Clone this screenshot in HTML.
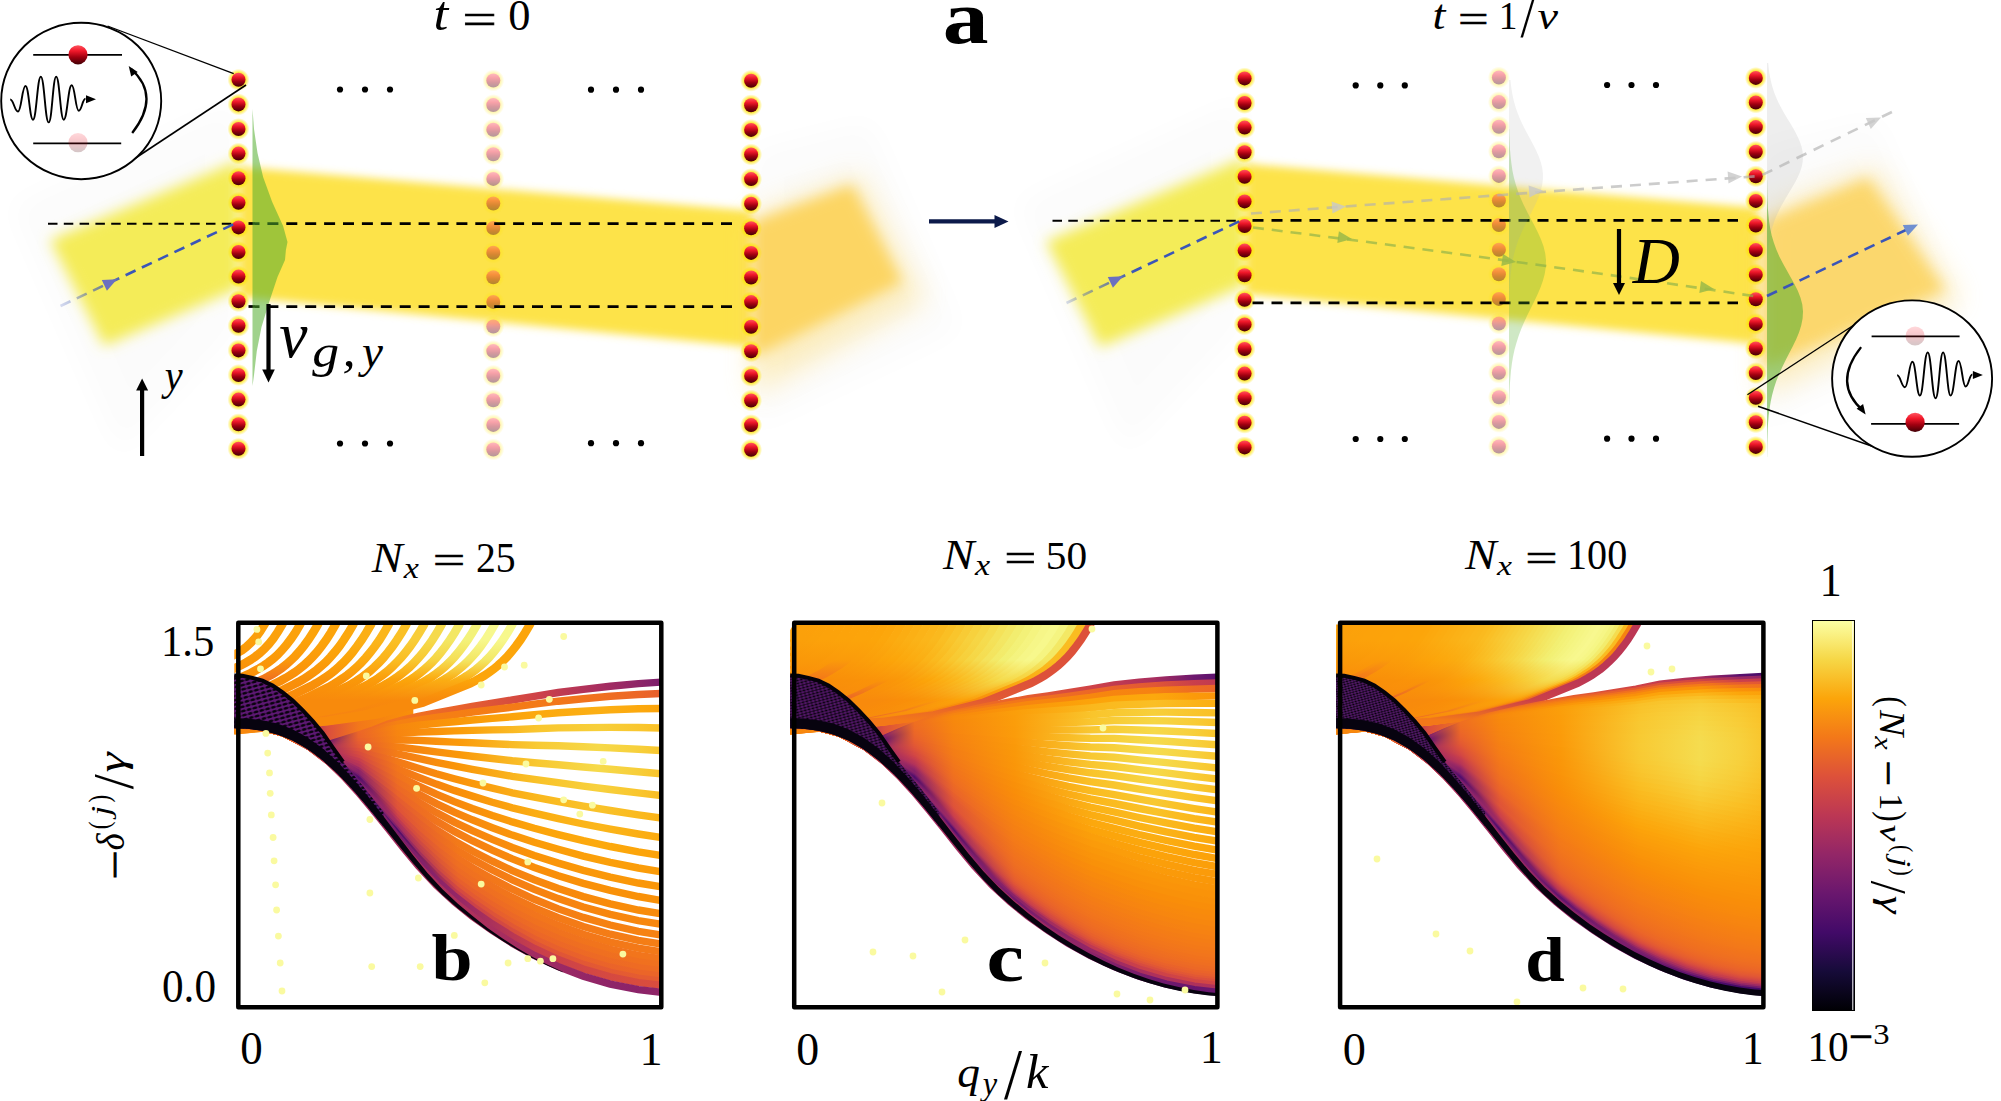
<!DOCTYPE html>
<html><head><meta charset="utf-8"><title>figure</title>
<style>html,body{margin:0;padding:0;background:#fff;overflow:hidden}svg{display:block}</style>
</head><body>
<svg width="2001" height="1101" viewBox="0 0 2001 1101">
<defs>
<linearGradient id="gR" x1="0" y1="0" x2="0" y2="1">
 <stop offset="0" stop-color="#ff5560"/>
 <stop offset="0.3" stop-color="#f0182a"/>
 <stop offset="0.62" stop-color="#a00010"/>
 <stop offset="1" stop-color="#420006"/>
</linearGradient>
<radialGradient id="gGlow" cx="0.5" cy="0.5" r="0.5">
 <stop offset="0.55" stop-color="#ffe400" stop-opacity="1"/>
 <stop offset="0.75" stop-color="#ffe400" stop-opacity="0.55"/>
 <stop offset="1" stop-color="#ffe400" stop-opacity="0"/>
</radialGradient>
<filter id="blur8" x="-30%" y="-30%" width="160%" height="160%"><feGaussianBlur stdDeviation="7"/></filter>
<filter id="blur5" x="-30%" y="-30%" width="160%" height="160%"><feGaussianBlur stdDeviation="4.5"/></filter>
<filter id="blur14" x="-30%" y="-30%" width="160%" height="160%"><feGaussianBlur stdDeviation="14"/></filter>
<pattern id="hatchb" patternUnits="userSpaceOnUse" width="6" height="4.2" patternTransform="rotate(-15)"><rect width="6" height="4.2" fill="#5e1874"/><ellipse cx="3" cy="2.1" rx="2.7" ry="1.35" fill="#07020c"/></pattern>
<pattern id="hatchc" patternUnits="userSpaceOnUse" width="4" height="2.8" patternTransform="rotate(-15)"><rect width="4" height="2.8" fill="#5a1870"/><ellipse cx="2" cy="1.4" rx="1.8" ry="0.9" fill="#07020c"/></pattern>
<pattern id="hatchd" patternUnits="userSpaceOnUse" width="3.2" height="2.4" patternTransform="rotate(-15)"><rect width="3.2" height="2.4" fill="#5a1a70"/><ellipse cx="1.6" cy="1.2" rx="1.45" ry="0.75" fill="#07020c"/></pattern>
<symbol id="atom" overflow="visible"><circle cx="0" cy="0" r="11" fill="url(#gGlow)"/><circle cx="0" cy="0" r="7" fill="url(#gR)"/></symbol>
<symbol id="atomS" overflow="visible"><circle cx="0" cy="0" r="9.6" fill="url(#gR)"/></symbol>

<clipPath id="clb"><rect x="234.3" y="624.5" width="426.0" height="380.5"/></clipPath>
<linearGradient id="bsol" gradientUnits="userSpaceOnUse" x1="232" y1="0" x2="413" y2="0"><stop offset="0.00" stop-color="#fa9309"/><stop offset="0.20" stop-color="#ef6e21"/><stop offset="0.36" stop-color="#85216a"/><stop offset="0.53" stop-color="#da4e3d"/><stop offset="0.70" stop-color="#f3771a"/><stop offset="0.86" stop-color="#f7870e"/><stop offset="1.00" stop-color="#f98f09"/></linearGradient>
<linearGradient id="ba0" gradientUnits="userSpaceOnUse" x1="0" y1="622" x2="0" y2="740"><stop offset="0.00" stop-color="#fba00a"/><stop offset="0.15" stop-color="#fb9f0a"/><stop offset="0.32" stop-color="#fa9509"/><stop offset="0.49" stop-color="#f88b0b"/><stop offset="0.66" stop-color="#f88a0c"/><stop offset="0.83" stop-color="#f88a0c"/><stop offset="1.00" stop-color="#f88a0c"/></linearGradient>
<linearGradient id="ba1" gradientUnits="userSpaceOnUse" x1="0" y1="622" x2="0" y2="740"><stop offset="0.00" stop-color="#fca10a"/><stop offset="0.15" stop-color="#fba10a"/><stop offset="0.32" stop-color="#fa9709"/><stop offset="0.49" stop-color="#f88c0b"/><stop offset="0.66" stop-color="#f88a0c"/><stop offset="0.83" stop-color="#f88a0c"/><stop offset="1.00" stop-color="#f88a0c"/></linearGradient>
<linearGradient id="ba2" gradientUnits="userSpaceOnUse" x1="0" y1="622" x2="0" y2="740"><stop offset="0.00" stop-color="#fca20a"/><stop offset="0.15" stop-color="#fca20a"/><stop offset="0.32" stop-color="#fa9809"/><stop offset="0.49" stop-color="#f98d0a"/><stop offset="0.66" stop-color="#f88a0c"/><stop offset="0.83" stop-color="#f88a0c"/><stop offset="1.00" stop-color="#f88a0c"/></linearGradient>
<linearGradient id="ba3" gradientUnits="userSpaceOnUse" x1="0" y1="622" x2="0" y2="740"><stop offset="0.00" stop-color="#fca30a"/><stop offset="0.15" stop-color="#fca30a"/><stop offset="0.32" stop-color="#fb9a0a"/><stop offset="0.49" stop-color="#f0711f"/><stop offset="0.66" stop-color="#f88a0c"/><stop offset="0.83" stop-color="#f88a0c"/><stop offset="1.00" stop-color="#f88a0c"/></linearGradient>
<linearGradient id="ba4" gradientUnits="userSpaceOnUse" x1="0" y1="622" x2="0" y2="740"><stop offset="0.00" stop-color="#fca40a"/><stop offset="0.15" stop-color="#fca40a"/><stop offset="0.32" stop-color="#fb9b0a"/><stop offset="0.49" stop-color="#f98e09"/><stop offset="0.66" stop-color="#f88a0c"/><stop offset="0.83" stop-color="#f88a0c"/><stop offset="1.00" stop-color="#f88a0c"/></linearGradient>
<linearGradient id="ba5" gradientUnits="userSpaceOnUse" x1="0" y1="622" x2="0" y2="740"><stop offset="0.00" stop-color="#fca80d"/><stop offset="0.15" stop-color="#fca80d"/><stop offset="0.32" stop-color="#fb9f0a"/><stop offset="0.49" stop-color="#f99009"/><stop offset="0.66" stop-color="#f88a0c"/><stop offset="0.83" stop-color="#f88a0c"/><stop offset="1.00" stop-color="#f88a0c"/></linearGradient>
<linearGradient id="ba6" gradientUnits="userSpaceOnUse" x1="0" y1="622" x2="0" y2="740"><stop offset="0.00" stop-color="#fbaf14"/><stop offset="0.15" stop-color="#fbaf14"/><stop offset="0.32" stop-color="#fca40a"/><stop offset="0.49" stop-color="#f99209"/><stop offset="0.66" stop-color="#f88a0c"/><stop offset="0.83" stop-color="#f88a0c"/><stop offset="1.00" stop-color="#f88a0c"/></linearGradient>
<linearGradient id="ba7" gradientUnits="userSpaceOnUse" x1="0" y1="622" x2="0" y2="740"><stop offset="0.00" stop-color="#fbb61b"/><stop offset="0.15" stop-color="#fbb61b"/><stop offset="0.32" stop-color="#fcaa0f"/><stop offset="0.49" stop-color="#fa9509"/><stop offset="0.66" stop-color="#f88a0c"/><stop offset="0.83" stop-color="#f88a0c"/><stop offset="1.00" stop-color="#f88a0c"/></linearGradient>
<linearGradient id="ba8" gradientUnits="userSpaceOnUse" x1="0" y1="622" x2="0" y2="740"><stop offset="0.00" stop-color="#fac025"/><stop offset="0.15" stop-color="#fac025"/><stop offset="0.32" stop-color="#fbb318"/><stop offset="0.49" stop-color="#fa9809"/><stop offset="0.66" stop-color="#f88a0c"/><stop offset="0.83" stop-color="#f88a0c"/><stop offset="1.00" stop-color="#f88a0c"/></linearGradient>
<linearGradient id="ba9" gradientUnits="userSpaceOnUse" x1="0" y1="622" x2="0" y2="740"><stop offset="0.00" stop-color="#f8cd38"/><stop offset="0.15" stop-color="#f8cd38"/><stop offset="0.32" stop-color="#fabe23"/><stop offset="0.49" stop-color="#fb9c0a"/><stop offset="0.66" stop-color="#f88a0c"/><stop offset="0.83" stop-color="#f88a0c"/><stop offset="1.00" stop-color="#f88a0c"/></linearGradient>
<linearGradient id="ba10" gradientUnits="userSpaceOnUse" x1="0" y1="622" x2="0" y2="740"><stop offset="0.00" stop-color="#f5da4c"/><stop offset="0.15" stop-color="#f5da4c"/><stop offset="0.32" stop-color="#f8c932"/><stop offset="0.49" stop-color="#fba00a"/><stop offset="0.66" stop-color="#f88a0c"/><stop offset="0.83" stop-color="#f88a0c"/><stop offset="1.00" stop-color="#f88a0c"/></linearGradient>
<linearGradient id="ba11" gradientUnits="userSpaceOnUse" x1="0" y1="622" x2="0" y2="740"><stop offset="0.00" stop-color="#f3e763"/><stop offset="0.15" stop-color="#f3e763"/><stop offset="0.32" stop-color="#f6d442"/><stop offset="0.49" stop-color="#fca50a"/><stop offset="0.66" stop-color="#f88a0c"/><stop offset="0.83" stop-color="#f88a0c"/><stop offset="1.00" stop-color="#f88a0c"/></linearGradient>
<linearGradient id="ba12" gradientUnits="userSpaceOnUse" x1="0" y1="622" x2="0" y2="740"><stop offset="0.00" stop-color="#f3f27a"/><stop offset="0.15" stop-color="#f3f27a"/><stop offset="0.32" stop-color="#f5de54"/><stop offset="0.49" stop-color="#fca90e"/><stop offset="0.66" stop-color="#f88a0c"/><stop offset="0.83" stop-color="#f88a0c"/><stop offset="1.00" stop-color="#f88a0c"/></linearGradient>
<linearGradient id="ba13" gradientUnits="userSpaceOnUse" x1="0" y1="622" x2="0" y2="740"><stop offset="0.00" stop-color="#f7f88d"/><stop offset="0.15" stop-color="#f7f88d"/><stop offset="0.32" stop-color="#f3e764"/><stop offset="0.49" stop-color="#fbae13"/><stop offset="0.66" stop-color="#f88a0c"/><stop offset="0.83" stop-color="#f68212"/><stop offset="1.00" stop-color="#f88a0c"/></linearGradient>
<linearGradient id="ba14" gradientUnits="userSpaceOnUse" x1="0" y1="622" x2="0" y2="740"><stop offset="0.00" stop-color="#f7f88c"/><stop offset="0.15" stop-color="#f7f88c"/><stop offset="0.32" stop-color="#f3e866"/><stop offset="0.49" stop-color="#fbaf14"/><stop offset="0.66" stop-color="#f88a0c"/><stop offset="0.83" stop-color="#f88a0c"/><stop offset="1.00" stop-color="#f88a0c"/></linearGradient>
<linearGradient id="ba15" gradientUnits="userSpaceOnUse" x1="0" y1="622" x2="0" y2="740"><stop offset="0.00" stop-color="#fca50a"/><stop offset="0.15" stop-color="#fca50a"/><stop offset="0.32" stop-color="#fca50a"/><stop offset="0.49" stop-color="#fca50a"/><stop offset="0.66" stop-color="#f88a0c"/><stop offset="0.83" stop-color="#f88a0c"/><stop offset="1.00" stop-color="#f88a0c"/></linearGradient>
<linearGradient id="bf0" gradientUnits="userSpaceOnUse" x1="232" y1="0" x2="668" y2="0"><stop offset="0.00" stop-color="#f58113"/><stop offset="0.13" stop-color="#eb6528"/><stop offset="0.22" stop-color="#69176e"/><stop offset="0.29" stop-color="#ec6727"/><stop offset="0.38" stop-color="#f2751c"/><stop offset="0.52" stop-color="#e9622b"/><stop offset="0.70" stop-color="#ce4248"/><stop offset="0.84" stop-color="#a82e5f"/><stop offset="0.93" stop-color="#8f2568"/><stop offset="1.00" stop-color="#761c6d"/></linearGradient>
<linearGradient id="bf1" gradientUnits="userSpaceOnUse" x1="232" y1="0" x2="668" y2="0"><stop offset="0.00" stop-color="#f58113"/><stop offset="0.13" stop-color="#eb6528"/><stop offset="0.22" stop-color="#6d186e"/><stop offset="0.29" stop-color="#eb6628"/><stop offset="0.38" stop-color="#f58113"/><stop offset="0.52" stop-color="#f57e14"/><stop offset="0.70" stop-color="#f37a18"/><stop offset="0.84" stop-color="#f0711f"/><stop offset="0.93" stop-color="#ec6727"/><stop offset="1.00" stop-color="#e65d2f"/></linearGradient>
<linearGradient id="bf2" gradientUnits="userSpaceOnUse" x1="232" y1="0" x2="668" y2="0"><stop offset="0.00" stop-color="#f58113"/><stop offset="0.13" stop-color="#eb6528"/><stop offset="0.22" stop-color="#741b6d"/><stop offset="0.29" stop-color="#eb6429"/><stop offset="0.38" stop-color="#f7870e"/><stop offset="0.52" stop-color="#fa9809"/><stop offset="0.70" stop-color="#fca90e"/><stop offset="0.84" stop-color="#fbaf14"/><stop offset="0.93" stop-color="#fca90e"/><stop offset="1.00" stop-color="#fba10a"/></linearGradient>
<linearGradient id="bf3" gradientUnits="userSpaceOnUse" x1="232" y1="0" x2="668" y2="0"><stop offset="0.00" stop-color="#f58113"/><stop offset="0.13" stop-color="#eb6528"/><stop offset="0.22" stop-color="#7e1f6c"/><stop offset="0.29" stop-color="#ea632a"/><stop offset="0.38" stop-color="#f78510"/><stop offset="0.52" stop-color="#fb9c0a"/><stop offset="0.70" stop-color="#f9c62f"/><stop offset="0.84" stop-color="#f7cf3a"/><stop offset="0.93" stop-color="#f9c730"/><stop offset="1.00" stop-color="#fabe24"/></linearGradient>
<linearGradient id="bf4" gradientUnits="userSpaceOnUse" x1="232" y1="0" x2="668" y2="0"><stop offset="0.00" stop-color="#f58113"/><stop offset="0.13" stop-color="#eb6528"/><stop offset="0.22" stop-color="#8b2369"/><stop offset="0.29" stop-color="#e8602d"/><stop offset="0.38" stop-color="#f68311"/><stop offset="0.52" stop-color="#fb9a0a"/><stop offset="0.70" stop-color="#f8ca34"/><stop offset="0.84" stop-color="#f6d949"/><stop offset="0.93" stop-color="#f7d03c"/><stop offset="1.00" stop-color="#f9c32a"/></linearGradient>
<linearGradient id="bf5" gradientUnits="userSpaceOnUse" x1="232" y1="0" x2="668" y2="0"><stop offset="0.00" stop-color="#f58113"/><stop offset="0.13" stop-color="#eb6528"/><stop offset="0.22" stop-color="#982865"/><stop offset="0.29" stop-color="#e55c31"/><stop offset="0.38" stop-color="#f58013"/><stop offset="0.52" stop-color="#fa9809"/><stop offset="0.70" stop-color="#f8c831"/><stop offset="0.84" stop-color="#f6da4b"/><stop offset="0.93" stop-color="#f7ce3a"/><stop offset="1.00" stop-color="#fac026"/></linearGradient>
<linearGradient id="bf6" gradientUnits="userSpaceOnUse" x1="232" y1="0" x2="668" y2="0"><stop offset="0.00" stop-color="#f58113"/><stop offset="0.13" stop-color="#eb6528"/><stop offset="0.22" stop-color="#9f2b62"/><stop offset="0.29" stop-color="#e25834"/><stop offset="0.38" stop-color="#f47d16"/><stop offset="0.52" stop-color="#fa9609"/><stop offset="0.70" stop-color="#f9c228"/><stop offset="0.84" stop-color="#f7d13e"/><stop offset="0.93" stop-color="#f9c62e"/><stop offset="1.00" stop-color="#fab91e"/></linearGradient>
<linearGradient id="bf7" gradientUnits="userSpaceOnUse" x1="232" y1="0" x2="668" y2="0"><stop offset="0.00" stop-color="#f58113"/><stop offset="0.13" stop-color="#eb6528"/><stop offset="0.22" stop-color="#9f2b62"/><stop offset="0.29" stop-color="#dd513a"/><stop offset="0.38" stop-color="#f37918"/><stop offset="0.52" stop-color="#fa9209"/><stop offset="0.70" stop-color="#fab81d"/><stop offset="0.84" stop-color="#f9c32b"/><stop offset="0.93" stop-color="#faba1f"/><stop offset="1.00" stop-color="#fbb015"/></linearGradient>
<linearGradient id="bf8" gradientUnits="userSpaceOnUse" x1="232" y1="0" x2="668" y2="0"><stop offset="0.00" stop-color="#f58113"/><stop offset="0.13" stop-color="#eb6528"/><stop offset="0.22" stop-color="#a12b62"/><stop offset="0.29" stop-color="#d74b3f"/><stop offset="0.38" stop-color="#f2751b"/><stop offset="0.52" stop-color="#f98e09"/><stop offset="0.70" stop-color="#fbae13"/><stop offset="0.84" stop-color="#fbb61b"/><stop offset="0.93" stop-color="#fbaf14"/><stop offset="1.00" stop-color="#fca80d"/></linearGradient>
<linearGradient id="bf9" gradientUnits="userSpaceOnUse" x1="232" y1="0" x2="668" y2="0"><stop offset="0.00" stop-color="#f58113"/><stop offset="0.13" stop-color="#eb6528"/><stop offset="0.22" stop-color="#a42d60"/><stop offset="0.29" stop-color="#d24645"/><stop offset="0.38" stop-color="#f0721e"/><stop offset="0.52" stop-color="#f88a0c"/><stop offset="0.70" stop-color="#fca40a"/><stop offset="0.84" stop-color="#fcaa0f"/><stop offset="0.93" stop-color="#fca50a"/><stop offset="1.00" stop-color="#fba10a"/></linearGradient>
<linearGradient id="bf10" gradientUnits="userSpaceOnUse" x1="232" y1="0" x2="668" y2="0"><stop offset="0.00" stop-color="#f58113"/><stop offset="0.13" stop-color="#eb6528"/><stop offset="0.22" stop-color="#a82e5f"/><stop offset="0.29" stop-color="#c73e4d"/><stop offset="0.38" stop-color="#ee6d22"/><stop offset="0.52" stop-color="#f7860f"/><stop offset="0.70" stop-color="#fb9c0a"/><stop offset="0.84" stop-color="#fba00a"/><stop offset="0.93" stop-color="#fb9d0a"/><stop offset="1.00" stop-color="#fb9b0a"/></linearGradient>
<linearGradient id="bf11" gradientUnits="userSpaceOnUse" x1="232" y1="0" x2="668" y2="0"><stop offset="0.00" stop-color="#f58113"/><stop offset="0.13" stop-color="#eb6528"/><stop offset="0.22" stop-color="#ab2f5d"/><stop offset="0.29" stop-color="#bd3754"/><stop offset="0.38" stop-color="#ec6826"/><stop offset="0.52" stop-color="#f68212"/><stop offset="0.70" stop-color="#fa9409"/><stop offset="0.84" stop-color="#fa9809"/><stop offset="0.93" stop-color="#fa9709"/><stop offset="1.00" stop-color="#fa9609"/></linearGradient>
<linearGradient id="bf12" gradientUnits="userSpaceOnUse" x1="232" y1="0" x2="668" y2="0"><stop offset="0.00" stop-color="#f58113"/><stop offset="0.13" stop-color="#eb6528"/><stop offset="0.22" stop-color="#af315b"/><stop offset="0.29" stop-color="#b33359"/><stop offset="0.38" stop-color="#ea632a"/><stop offset="0.52" stop-color="#f57e15"/><stop offset="0.70" stop-color="#f98e09"/><stop offset="0.84" stop-color="#f99109"/><stop offset="0.93" stop-color="#f99109"/><stop offset="1.00" stop-color="#f99109"/></linearGradient>
<linearGradient id="bf13" gradientUnits="userSpaceOnUse" x1="232" y1="0" x2="668" y2="0"><stop offset="0.00" stop-color="#f58113"/><stop offset="0.13" stop-color="#eb6528"/><stop offset="0.22" stop-color="#b23359"/><stop offset="0.29" stop-color="#9b2964"/><stop offset="0.38" stop-color="#e45b31"/><stop offset="0.52" stop-color="#f37a18"/><stop offset="0.70" stop-color="#f7870e"/><stop offset="0.84" stop-color="#f88b0b"/><stop offset="0.93" stop-color="#f88c0b"/><stop offset="1.00" stop-color="#f88b0b"/></linearGradient>
<linearGradient id="bf14" gradientUnits="userSpaceOnUse" x1="232" y1="0" x2="668" y2="0"><stop offset="0.00" stop-color="#f58113"/><stop offset="0.13" stop-color="#eb6528"/><stop offset="0.22" stop-color="#b53458"/><stop offset="0.29" stop-color="#8a2369"/><stop offset="0.38" stop-color="#e05536"/><stop offset="0.52" stop-color="#f2761a"/><stop offset="0.70" stop-color="#f68211"/><stop offset="0.84" stop-color="#f7860f"/><stop offset="0.93" stop-color="#f7870e"/><stop offset="1.00" stop-color="#f7870e"/></linearGradient>
<linearGradient id="bf15" gradientUnits="userSpaceOnUse" x1="232" y1="0" x2="668" y2="0"><stop offset="0.00" stop-color="#f58113"/><stop offset="0.13" stop-color="#eb6528"/><stop offset="0.22" stop-color="#b83556"/><stop offset="0.29" stop-color="#85216a"/><stop offset="0.38" stop-color="#de5239"/><stop offset="0.52" stop-color="#f1721e"/><stop offset="0.70" stop-color="#f47d15"/><stop offset="0.84" stop-color="#f58112"/><stop offset="0.93" stop-color="#f68212"/><stop offset="1.00" stop-color="#f68212"/></linearGradient>
<linearGradient id="bf16" gradientUnits="userSpaceOnUse" x1="232" y1="0" x2="668" y2="0"><stop offset="0.00" stop-color="#f58113"/><stop offset="0.13" stop-color="#eb6528"/><stop offset="0.22" stop-color="#bb3655"/><stop offset="0.29" stop-color="#711a6d"/><stop offset="0.38" stop-color="#d44843"/><stop offset="0.52" stop-color="#ef6f21"/><stop offset="0.70" stop-color="#f37918"/><stop offset="0.84" stop-color="#f47c16"/><stop offset="0.93" stop-color="#f47d15"/><stop offset="1.00" stop-color="#f57e15"/></linearGradient>
<linearGradient id="bf17" gradientUnits="userSpaceOnUse" x1="232" y1="0" x2="668" y2="0"><stop offset="0.00" stop-color="#f58113"/><stop offset="0.13" stop-color="#eb6528"/><stop offset="0.22" stop-color="#bd3754"/><stop offset="0.29" stop-color="#530e6d"/><stop offset="0.38" stop-color="#cc4149"/><stop offset="0.52" stop-color="#ed6b24"/><stop offset="0.70" stop-color="#f2751c"/><stop offset="0.84" stop-color="#f37819"/><stop offset="0.93" stop-color="#f37918"/><stop offset="1.00" stop-color="#f37918"/></linearGradient>
<linearGradient id="bf18" gradientUnits="userSpaceOnUse" x1="232" y1="0" x2="668" y2="0"><stop offset="0.00" stop-color="#f58113"/><stop offset="0.13" stop-color="#eb6528"/><stop offset="0.22" stop-color="#be3852"/><stop offset="0.29" stop-color="#5b116e"/><stop offset="0.38" stop-color="#bc3754"/><stop offset="0.52" stop-color="#eb6628"/><stop offset="0.70" stop-color="#f0711f"/><stop offset="0.84" stop-color="#f1741c"/><stop offset="0.93" stop-color="#f2751c"/><stop offset="1.00" stop-color="#f2751b"/></linearGradient>
<linearGradient id="bf19" gradientUnits="userSpaceOnUse" x1="232" y1="0" x2="668" y2="0"><stop offset="0.00" stop-color="#f58113"/><stop offset="0.13" stop-color="#eb6528"/><stop offset="0.22" stop-color="#c03951"/><stop offset="0.29" stop-color="#741b6d"/><stop offset="0.38" stop-color="#a82e5f"/><stop offset="0.52" stop-color="#e75f2d"/><stop offset="0.70" stop-color="#ee6c23"/><stop offset="0.84" stop-color="#ef6f20"/><stop offset="0.93" stop-color="#f0701f"/><stop offset="1.00" stop-color="#f0711f"/></linearGradient>
<linearGradient id="bf20" gradientUnits="userSpaceOnUse" x1="232" y1="0" x2="668" y2="0"><stop offset="0.00" stop-color="#f58113"/><stop offset="0.13" stop-color="#eb6528"/><stop offset="0.22" stop-color="#c13a50"/><stop offset="0.29" stop-color="#892369"/><stop offset="0.38" stop-color="#a22c61"/><stop offset="0.52" stop-color="#e15735"/><stop offset="0.70" stop-color="#ec6727"/><stop offset="0.84" stop-color="#ed6a24"/><stop offset="0.93" stop-color="#ee6b23"/><stop offset="1.00" stop-color="#ee6c23"/></linearGradient>
<linearGradient id="bf21" gradientUnits="userSpaceOnUse" x1="232" y1="0" x2="668" y2="0"><stop offset="0.00" stop-color="#f58113"/><stop offset="0.13" stop-color="#eb6528"/><stop offset="0.22" stop-color="#c33b50"/><stop offset="0.29" stop-color="#902568"/><stop offset="0.38" stop-color="#84216b"/><stop offset="0.52" stop-color="#d54941"/><stop offset="0.70" stop-color="#e75f2e"/><stop offset="0.84" stop-color="#ea632a"/><stop offset="0.93" stop-color="#eb6528"/><stop offset="1.00" stop-color="#eb6528"/></linearGradient>
<linearGradient id="bf22" gradientUnits="userSpaceOnUse" x1="232" y1="0" x2="668" y2="0"><stop offset="0.00" stop-color="#f58113"/><stop offset="0.13" stop-color="#eb6528"/><stop offset="0.22" stop-color="#c43c4f"/><stop offset="0.29" stop-color="#942766"/><stop offset="0.38" stop-color="#4d0d6b"/><stop offset="0.52" stop-color="#c63d4d"/><stop offset="0.70" stop-color="#de5338"/><stop offset="0.84" stop-color="#e35933"/><stop offset="0.93" stop-color="#e55c31"/><stop offset="1.00" stop-color="#e55c30"/></linearGradient>
<linearGradient id="bf23" gradientUnits="userSpaceOnUse" x1="232" y1="0" x2="668" y2="0"><stop offset="0.00" stop-color="#f58113"/><stop offset="0.13" stop-color="#eb6528"/><stop offset="0.22" stop-color="#c53d4e"/><stop offset="0.29" stop-color="#9b2964"/><stop offset="0.38" stop-color="#771c6d"/><stop offset="0.52" stop-color="#952766"/><stop offset="0.70" stop-color="#c93f4b"/><stop offset="0.84" stop-color="#d44842"/><stop offset="0.93" stop-color="#d84c3e"/><stop offset="1.00" stop-color="#d94d3e"/></linearGradient>
<linearGradient id="bf24" gradientUnits="userSpaceOnUse" x1="232" y1="0" x2="668" y2="0"><stop offset="0.00" stop-color="#f58113"/><stop offset="0.13" stop-color="#eb6528"/><stop offset="0.22" stop-color="#c63d4e"/><stop offset="0.29" stop-color="#a92e5f"/><stop offset="0.38" stop-color="#a62d60"/><stop offset="0.52" stop-color="#af315b"/><stop offset="0.70" stop-color="#a12b62"/><stop offset="0.84" stop-color="#912567"/><stop offset="0.93" stop-color="#8b2369"/><stop offset="1.00" stop-color="#932667"/></linearGradient>
<clipPath id="clc"><rect x="790.2" y="624.5" width="426.0" height="380.5"/></clipPath>
<linearGradient id="csol" gradientUnits="userSpaceOnUse" x1="788" y1="0" x2="969" y2="0"><stop offset="0.00" stop-color="#fa9309"/><stop offset="0.20" stop-color="#ef6e21"/><stop offset="0.36" stop-color="#85216a"/><stop offset="0.53" stop-color="#da4e3d"/><stop offset="0.70" stop-color="#f3771a"/><stop offset="0.86" stop-color="#f7870e"/><stop offset="1.00" stop-color="#f98f09"/></linearGradient>
<linearGradient id="ca0" gradientUnits="userSpaceOnUse" x1="0" y1="622" x2="0" y2="740"><stop offset="0.00" stop-color="#fba00a"/><stop offset="0.15" stop-color="#fb9f0a"/><stop offset="0.32" stop-color="#fa9509"/><stop offset="0.49" stop-color="#f88b0b"/><stop offset="0.66" stop-color="#f88a0c"/><stop offset="0.83" stop-color="#f88a0c"/><stop offset="1.00" stop-color="#f88a0c"/></linearGradient>
<linearGradient id="ca1" gradientUnits="userSpaceOnUse" x1="0" y1="622" x2="0" y2="740"><stop offset="0.00" stop-color="#fba10a"/><stop offset="0.15" stop-color="#fba00a"/><stop offset="0.32" stop-color="#fa9609"/><stop offset="0.49" stop-color="#f88c0b"/><stop offset="0.66" stop-color="#f88a0c"/><stop offset="0.83" stop-color="#f88a0c"/><stop offset="1.00" stop-color="#f88a0c"/></linearGradient>
<linearGradient id="ca2" gradientUnits="userSpaceOnUse" x1="0" y1="622" x2="0" y2="740"><stop offset="0.00" stop-color="#fca10a"/><stop offset="0.15" stop-color="#fba00a"/><stop offset="0.32" stop-color="#fa9709"/><stop offset="0.49" stop-color="#f88c0b"/><stop offset="0.66" stop-color="#f88a0c"/><stop offset="0.83" stop-color="#f88a0c"/><stop offset="1.00" stop-color="#f88a0c"/></linearGradient>
<linearGradient id="ca3" gradientUnits="userSpaceOnUse" x1="0" y1="622" x2="0" y2="740"><stop offset="0.00" stop-color="#fca20a"/><stop offset="0.15" stop-color="#fba10a"/><stop offset="0.32" stop-color="#fa9709"/><stop offset="0.49" stop-color="#f88c0a"/><stop offset="0.66" stop-color="#f88a0c"/><stop offset="0.83" stop-color="#f88a0c"/><stop offset="1.00" stop-color="#f88a0c"/></linearGradient>
<linearGradient id="ca4" gradientUnits="userSpaceOnUse" x1="0" y1="622" x2="0" y2="740"><stop offset="0.00" stop-color="#fca20a"/><stop offset="0.15" stop-color="#fca20a"/><stop offset="0.32" stop-color="#fa9809"/><stop offset="0.49" stop-color="#f98c0a"/><stop offset="0.66" stop-color="#f88a0c"/><stop offset="0.83" stop-color="#f88a0c"/><stop offset="1.00" stop-color="#f88a0c"/></linearGradient>
<linearGradient id="ca5" gradientUnits="userSpaceOnUse" x1="0" y1="622" x2="0" y2="740"><stop offset="0.00" stop-color="#fca30a"/><stop offset="0.15" stop-color="#fca20a"/><stop offset="0.32" stop-color="#fa9909"/><stop offset="0.49" stop-color="#f98d0a"/><stop offset="0.66" stop-color="#f88a0c"/><stop offset="0.83" stop-color="#f88a0c"/><stop offset="1.00" stop-color="#f88a0c"/></linearGradient>
<linearGradient id="ca6" gradientUnits="userSpaceOnUse" x1="0" y1="622" x2="0" y2="740"><stop offset="0.00" stop-color="#fca30a"/><stop offset="0.15" stop-color="#fca30a"/><stop offset="0.32" stop-color="#fa9909"/><stop offset="0.49" stop-color="#f98d0a"/><stop offset="0.66" stop-color="#f88a0c"/><stop offset="0.83" stop-color="#f88a0c"/><stop offset="1.00" stop-color="#f88a0c"/></linearGradient>
<linearGradient id="ca7" gradientUnits="userSpaceOnUse" x1="0" y1="622" x2="0" y2="740"><stop offset="0.00" stop-color="#fca40a"/><stop offset="0.15" stop-color="#fca30a"/><stop offset="0.32" stop-color="#fb9a0a"/><stop offset="0.49" stop-color="#f98d09"/><stop offset="0.66" stop-color="#f88a0c"/><stop offset="0.83" stop-color="#f88a0c"/><stop offset="1.00" stop-color="#f88a0c"/></linearGradient>
<linearGradient id="ca8" gradientUnits="userSpaceOnUse" x1="0" y1="622" x2="0" y2="740"><stop offset="0.00" stop-color="#fca40a"/><stop offset="0.15" stop-color="#fca40a"/><stop offset="0.32" stop-color="#fb9b0a"/><stop offset="0.49" stop-color="#f3771a"/><stop offset="0.66" stop-color="#f88a0c"/><stop offset="0.83" stop-color="#f88a0c"/><stop offset="1.00" stop-color="#f88a0c"/></linearGradient>
<linearGradient id="ca9" gradientUnits="userSpaceOnUse" x1="0" y1="622" x2="0" y2="740"><stop offset="0.00" stop-color="#fca40a"/><stop offset="0.15" stop-color="#fca40a"/><stop offset="0.32" stop-color="#fb9b0a"/><stop offset="0.49" stop-color="#f37819"/><stop offset="0.66" stop-color="#f88a0c"/><stop offset="0.83" stop-color="#f88a0c"/><stop offset="1.00" stop-color="#f88a0c"/></linearGradient>
<linearGradient id="ca10" gradientUnits="userSpaceOnUse" x1="0" y1="622" x2="0" y2="740"><stop offset="0.00" stop-color="#fca50a"/><stop offset="0.15" stop-color="#fca50a"/><stop offset="0.32" stop-color="#fb9c0a"/><stop offset="0.49" stop-color="#f98e09"/><stop offset="0.66" stop-color="#f88a0c"/><stop offset="0.83" stop-color="#f88a0c"/><stop offset="1.00" stop-color="#f88a0c"/></linearGradient>
<linearGradient id="ca11" gradientUnits="userSpaceOnUse" x1="0" y1="622" x2="0" y2="740"><stop offset="0.00" stop-color="#fca70c"/><stop offset="0.15" stop-color="#fca70c"/><stop offset="0.32" stop-color="#fb9e0a"/><stop offset="0.49" stop-color="#f98f09"/><stop offset="0.66" stop-color="#f88a0c"/><stop offset="0.83" stop-color="#f88a0c"/><stop offset="1.00" stop-color="#f88a0c"/></linearGradient>
<linearGradient id="ca12" gradientUnits="userSpaceOnUse" x1="0" y1="622" x2="0" y2="740"><stop offset="0.00" stop-color="#fcaa0f"/><stop offset="0.15" stop-color="#fcaa0f"/><stop offset="0.32" stop-color="#fba00a"/><stop offset="0.49" stop-color="#f99009"/><stop offset="0.66" stop-color="#f88a0c"/><stop offset="0.83" stop-color="#f88a0c"/><stop offset="1.00" stop-color="#f88a0c"/></linearGradient>
<linearGradient id="ca13" gradientUnits="userSpaceOnUse" x1="0" y1="622" x2="0" y2="740"><stop offset="0.00" stop-color="#fbad12"/><stop offset="0.15" stop-color="#fbad12"/><stop offset="0.32" stop-color="#fca30a"/><stop offset="0.49" stop-color="#f99109"/><stop offset="0.66" stop-color="#f88a0c"/><stop offset="0.83" stop-color="#f88a0c"/><stop offset="1.00" stop-color="#f88a0c"/></linearGradient>
<linearGradient id="ca14" gradientUnits="userSpaceOnUse" x1="0" y1="622" x2="0" y2="740"><stop offset="0.00" stop-color="#fbb015"/><stop offset="0.15" stop-color="#fbb015"/><stop offset="0.32" stop-color="#fca50a"/><stop offset="0.49" stop-color="#fa9209"/><stop offset="0.66" stop-color="#f88a0c"/><stop offset="0.83" stop-color="#f88a0c"/><stop offset="1.00" stop-color="#f88a0c"/></linearGradient>
<linearGradient id="ca15" gradientUnits="userSpaceOnUse" x1="0" y1="622" x2="0" y2="740"><stop offset="0.00" stop-color="#fbb318"/><stop offset="0.15" stop-color="#fbb318"/><stop offset="0.32" stop-color="#fca80d"/><stop offset="0.49" stop-color="#fa9309"/><stop offset="0.66" stop-color="#f88a0c"/><stop offset="0.83" stop-color="#f88a0c"/><stop offset="1.00" stop-color="#f88a0c"/></linearGradient>
<linearGradient id="ca16" gradientUnits="userSpaceOnUse" x1="0" y1="622" x2="0" y2="740"><stop offset="0.00" stop-color="#fbb61b"/><stop offset="0.15" stop-color="#fbb61b"/><stop offset="0.32" stop-color="#fcab10"/><stop offset="0.49" stop-color="#fa9509"/><stop offset="0.66" stop-color="#eb6627"/><stop offset="0.83" stop-color="#f88a0c"/><stop offset="1.00" stop-color="#f88a0c"/></linearGradient>
<linearGradient id="ca17" gradientUnits="userSpaceOnUse" x1="0" y1="622" x2="0" y2="740"><stop offset="0.00" stop-color="#fab91e"/><stop offset="0.15" stop-color="#fab91e"/><stop offset="0.32" stop-color="#fbae13"/><stop offset="0.49" stop-color="#fa9609"/><stop offset="0.66" stop-color="#f88a0c"/><stop offset="0.83" stop-color="#f88a0c"/><stop offset="1.00" stop-color="#f88a0c"/></linearGradient>
<linearGradient id="ca18" gradientUnits="userSpaceOnUse" x1="0" y1="622" x2="0" y2="740"><stop offset="0.00" stop-color="#fabf24"/><stop offset="0.15" stop-color="#fabf24"/><stop offset="0.32" stop-color="#fbb419"/><stop offset="0.49" stop-color="#fa9909"/><stop offset="0.66" stop-color="#f88a0c"/><stop offset="0.83" stop-color="#f88a0c"/><stop offset="1.00" stop-color="#f88a0c"/></linearGradient>
<linearGradient id="ca19" gradientUnits="userSpaceOnUse" x1="0" y1="622" x2="0" y2="740"><stop offset="0.00" stop-color="#f9c52c"/><stop offset="0.15" stop-color="#f9c52c"/><stop offset="0.32" stop-color="#faba1f"/><stop offset="0.49" stop-color="#fb9d0a"/><stop offset="0.66" stop-color="#f88a0c"/><stop offset="0.83" stop-color="#f88a0c"/><stop offset="1.00" stop-color="#f88a0c"/></linearGradient>
<linearGradient id="ca20" gradientUnits="userSpaceOnUse" x1="0" y1="622" x2="0" y2="740"><stop offset="0.00" stop-color="#f8cb35"/><stop offset="0.15" stop-color="#f8cb35"/><stop offset="0.32" stop-color="#fac127"/><stop offset="0.49" stop-color="#fba10a"/><stop offset="0.66" stop-color="#f88a0c"/><stop offset="0.83" stop-color="#f88a0c"/><stop offset="1.00" stop-color="#f88a0c"/></linearGradient>
<linearGradient id="ca21" gradientUnits="userSpaceOnUse" x1="0" y1="622" x2="0" y2="740"><stop offset="0.00" stop-color="#f7d13d"/><stop offset="0.15" stop-color="#f7d13d"/><stop offset="0.32" stop-color="#f8c830"/><stop offset="0.49" stop-color="#fca50a"/><stop offset="0.66" stop-color="#f88b0b"/><stop offset="0.83" stop-color="#f88a0c"/><stop offset="1.00" stop-color="#f88a0c"/></linearGradient>
<linearGradient id="ca22" gradientUnits="userSpaceOnUse" x1="0" y1="622" x2="0" y2="740"><stop offset="0.00" stop-color="#f6d645"/><stop offset="0.15" stop-color="#f6d645"/><stop offset="0.32" stop-color="#f7cf3a"/><stop offset="0.49" stop-color="#fcaa0f"/><stop offset="0.66" stop-color="#f98c0a"/><stop offset="0.83" stop-color="#f88a0c"/><stop offset="1.00" stop-color="#f88a0c"/></linearGradient>
<linearGradient id="ca23" gradientUnits="userSpaceOnUse" x1="0" y1="622" x2="0" y2="740"><stop offset="0.00" stop-color="#f5dc4f"/><stop offset="0.15" stop-color="#f5dc4f"/><stop offset="0.32" stop-color="#f6d644"/><stop offset="0.49" stop-color="#fbb015"/><stop offset="0.66" stop-color="#f98e09"/><stop offset="0.83" stop-color="#f88a0c"/><stop offset="1.00" stop-color="#f88a0c"/></linearGradient>
<linearGradient id="ca24" gradientUnits="userSpaceOnUse" x1="0" y1="622" x2="0" y2="740"><stop offset="0.00" stop-color="#f4e25a"/><stop offset="0.15" stop-color="#f4e25a"/><stop offset="0.32" stop-color="#f5dc50"/><stop offset="0.49" stop-color="#fbb51a"/><stop offset="0.66" stop-color="#f98f09"/><stop offset="0.83" stop-color="#f88a0c"/><stop offset="1.00" stop-color="#f88a0c"/></linearGradient>
<linearGradient id="ca25" gradientUnits="userSpaceOnUse" x1="0" y1="622" x2="0" y2="740"><stop offset="0.00" stop-color="#f3e764"/><stop offset="0.15" stop-color="#f3e764"/><stop offset="0.32" stop-color="#f4e35d"/><stop offset="0.49" stop-color="#fabc21"/><stop offset="0.66" stop-color="#f99209"/><stop offset="0.83" stop-color="#f88a0c"/><stop offset="1.00" stop-color="#f88a0c"/></linearGradient>
<linearGradient id="ca26" gradientUnits="userSpaceOnUse" x1="0" y1="622" x2="0" y2="740"><stop offset="0.00" stop-color="#f2ed6f"/><stop offset="0.15" stop-color="#f2ed6f"/><stop offset="0.32" stop-color="#f3ea69"/><stop offset="0.49" stop-color="#f9c229"/><stop offset="0.66" stop-color="#fa9409"/><stop offset="0.83" stop-color="#f88a0c"/><stop offset="1.00" stop-color="#f88a0c"/></linearGradient>
<linearGradient id="ca27" gradientUnits="userSpaceOnUse" x1="0" y1="622" x2="0" y2="740"><stop offset="0.00" stop-color="#f3f178"/><stop offset="0.15" stop-color="#f3f178"/><stop offset="0.32" stop-color="#f2f074"/><stop offset="0.49" stop-color="#f8c932"/><stop offset="0.66" stop-color="#fa9709"/><stop offset="0.83" stop-color="#f88a0c"/><stop offset="1.00" stop-color="#f88a0c"/></linearGradient>
<linearGradient id="ca28" gradientUnits="userSpaceOnUse" x1="0" y1="622" x2="0" y2="740"><stop offset="0.00" stop-color="#f5f480"/><stop offset="0.15" stop-color="#f5f480"/><stop offset="0.32" stop-color="#f4f37e"/><stop offset="0.49" stop-color="#f7cf3b"/><stop offset="0.66" stop-color="#fb9a0a"/><stop offset="0.83" stop-color="#ec6727"/><stop offset="1.00" stop-color="#f88a0c"/></linearGradient>
<linearGradient id="ca29" gradientUnits="userSpaceOnUse" x1="0" y1="622" x2="0" y2="740"><stop offset="0.00" stop-color="#f6f688"/><stop offset="0.15" stop-color="#f6f688"/><stop offset="0.32" stop-color="#f6f687"/><stop offset="0.49" stop-color="#f6d644"/><stop offset="0.66" stop-color="#fb9d0a"/><stop offset="0.83" stop-color="#f7880e"/><stop offset="1.00" stop-color="#f88a0c"/></linearGradient>
<linearGradient id="ca30" gradientUnits="userSpaceOnUse" x1="0" y1="622" x2="0" y2="740"><stop offset="0.00" stop-color="#f7f88c"/><stop offset="0.15" stop-color="#f7f88c"/><stop offset="0.32" stop-color="#f7f88c"/><stop offset="0.49" stop-color="#f5db4d"/><stop offset="0.66" stop-color="#fba10a"/><stop offset="0.83" stop-color="#f8890c"/><stop offset="1.00" stop-color="#f8890c"/></linearGradient>
<linearGradient id="ca31" gradientUnits="userSpaceOnUse" x1="0" y1="622" x2="0" y2="740"><stop offset="0.00" stop-color="#f5f481"/><stop offset="0.15" stop-color="#f5f481"/><stop offset="0.32" stop-color="#f5f481"/><stop offset="0.49" stop-color="#f6da4b"/><stop offset="0.66" stop-color="#fca20a"/><stop offset="0.83" stop-color="#f8890d"/><stop offset="1.00" stop-color="#f8890d"/></linearGradient>
<linearGradient id="ca32" gradientUnits="userSpaceOnUse" x1="0" y1="622" x2="0" y2="740"><stop offset="0.00" stop-color="#f3e865"/><stop offset="0.15" stop-color="#f3e865"/><stop offset="0.32" stop-color="#f3e865"/><stop offset="0.49" stop-color="#f7d13d"/><stop offset="0.66" stop-color="#fb9f0a"/><stop offset="0.83" stop-color="#f7880e"/><stop offset="1.00" stop-color="#f7880e"/></linearGradient>
<linearGradient id="ca33" gradientUnits="userSpaceOnUse" x1="0" y1="622" x2="0" y2="740"><stop offset="0.00" stop-color="#fabc21"/><stop offset="0.15" stop-color="#fabc21"/><stop offset="0.32" stop-color="#fabc21"/><stop offset="0.49" stop-color="#fbad12"/><stop offset="0.66" stop-color="#f98d0a"/><stop offset="0.83" stop-color="#f68410"/><stop offset="1.00" stop-color="#f68410"/></linearGradient>
<linearGradient id="ca34" gradientUnits="userSpaceOnUse" x1="0" y1="622" x2="0" y2="740"><stop offset="0.00" stop-color="#dd513a"/><stop offset="0.15" stop-color="#dd513a"/><stop offset="0.32" stop-color="#dd513a"/><stop offset="0.49" stop-color="#dd513a"/><stop offset="0.66" stop-color="#e25933"/><stop offset="0.83" stop-color="#f37819"/><stop offset="1.00" stop-color="#f37819"/></linearGradient>
<linearGradient id="cf0" gradientUnits="userSpaceOnUse" x1="788" y1="0" x2="1224" y2="0"><stop offset="0.00" stop-color="#f58113"/><stop offset="0.13" stop-color="#eb6528"/><stop offset="0.22" stop-color="#791d6c"/><stop offset="0.29" stop-color="#ef6f21"/><stop offset="0.38" stop-color="#f2751c"/><stop offset="0.52" stop-color="#e9622b"/><stop offset="0.70" stop-color="#ce4248"/><stop offset="0.84" stop-color="#a82e5f"/><stop offset="0.93" stop-color="#6e196e"/><stop offset="1.00" stop-color="#560f6e"/></linearGradient>
<linearGradient id="cf1" gradientUnits="userSpaceOnUse" x1="788" y1="0" x2="1224" y2="0"><stop offset="0.00" stop-color="#f58113"/><stop offset="0.13" stop-color="#eb6528"/><stop offset="0.22" stop-color="#7d1f6c"/><stop offset="0.29" stop-color="#ef6e21"/><stop offset="0.38" stop-color="#f47d15"/><stop offset="0.52" stop-color="#f2761b"/><stop offset="0.70" stop-color="#ec6727"/><stop offset="0.84" stop-color="#e15735"/><stop offset="0.93" stop-color="#c93f4b"/><stop offset="1.00" stop-color="#bd3853"/></linearGradient>
<linearGradient id="cf2" gradientUnits="userSpaceOnUse" x1="788" y1="0" x2="1224" y2="0"><stop offset="0.00" stop-color="#f58113"/><stop offset="0.13" stop-color="#eb6528"/><stop offset="0.22" stop-color="#80206b"/><stop offset="0.29" stop-color="#ef6e21"/><stop offset="0.38" stop-color="#f68510"/><stop offset="0.52" stop-color="#f7860f"/><stop offset="0.70" stop-color="#f7870e"/><stop offset="0.84" stop-color="#f68212"/><stop offset="0.93" stop-color="#ee6d22"/><stop offset="1.00" stop-color="#ea6429"/></linearGradient>
<linearGradient id="cf3" gradientUnits="userSpaceOnUse" x1="788" y1="0" x2="1224" y2="0"><stop offset="0.00" stop-color="#f58113"/><stop offset="0.13" stop-color="#eb6528"/><stop offset="0.22" stop-color="#83216b"/><stop offset="0.29" stop-color="#ee6d22"/><stop offset="0.38" stop-color="#f8890c"/><stop offset="0.52" stop-color="#fa9609"/><stop offset="0.70" stop-color="#fca40a"/><stop offset="0.84" stop-color="#fca80d"/><stop offset="0.93" stop-color="#fb9a0a"/><stop offset="1.00" stop-color="#fa9309"/></linearGradient>
<linearGradient id="cf4" gradientUnits="userSpaceOnUse" x1="788" y1="0" x2="1224" y2="0"><stop offset="0.00" stop-color="#f58113"/><stop offset="0.13" stop-color="#eb6528"/><stop offset="0.22" stop-color="#7e1f6c"/><stop offset="0.29" stop-color="#ee6c22"/><stop offset="0.38" stop-color="#f8890d"/><stop offset="0.52" stop-color="#fb9e0a"/><stop offset="0.70" stop-color="#fab81d"/><stop offset="0.84" stop-color="#fabf25"/><stop offset="0.93" stop-color="#fbb419"/><stop offset="1.00" stop-color="#fbac11"/></linearGradient>
<linearGradient id="cf5" gradientUnits="userSpaceOnUse" x1="788" y1="0" x2="1224" y2="0"><stop offset="0.00" stop-color="#f58113"/><stop offset="0.13" stop-color="#eb6528"/><stop offset="0.22" stop-color="#771c6d"/><stop offset="0.29" stop-color="#ee6b23"/><stop offset="0.38" stop-color="#f7880d"/><stop offset="0.52" stop-color="#fb9d0a"/><stop offset="0.70" stop-color="#f9c52c"/><stop offset="0.84" stop-color="#f7cf3a"/><stop offset="0.93" stop-color="#f9c52d"/><stop offset="1.00" stop-color="#fabd22"/></linearGradient>
<linearGradient id="cf6" gradientUnits="userSpaceOnUse" x1="788" y1="0" x2="1224" y2="0"><stop offset="0.00" stop-color="#f58113"/><stop offset="0.13" stop-color="#eb6528"/><stop offset="0.22" stop-color="#701a6d"/><stop offset="0.29" stop-color="#ed6b24"/><stop offset="0.38" stop-color="#f7870e"/><stop offset="0.52" stop-color="#fb9d0a"/><stop offset="0.70" stop-color="#f9c730"/><stop offset="0.84" stop-color="#f6d644"/><stop offset="0.93" stop-color="#f8cc37"/><stop offset="1.00" stop-color="#fac026"/></linearGradient>
<linearGradient id="cf7" gradientUnits="userSpaceOnUse" x1="788" y1="0" x2="1224" y2="0"><stop offset="0.00" stop-color="#f58113"/><stop offset="0.13" stop-color="#eb6528"/><stop offset="0.22" stop-color="#6b176e"/><stop offset="0.29" stop-color="#ed6925"/><stop offset="0.38" stop-color="#f7860f"/><stop offset="0.52" stop-color="#fb9c0a"/><stop offset="0.70" stop-color="#f8c832"/><stop offset="0.84" stop-color="#f6d949"/><stop offset="0.93" stop-color="#f7cf3b"/><stop offset="1.00" stop-color="#f9c228"/></linearGradient>
<linearGradient id="cf8" gradientUnits="userSpaceOnUse" x1="788" y1="0" x2="1224" y2="0"><stop offset="0.00" stop-color="#f58113"/><stop offset="0.13" stop-color="#eb6528"/><stop offset="0.22" stop-color="#68166e"/><stop offset="0.29" stop-color="#ec6726"/><stop offset="0.38" stop-color="#f78510"/><stop offset="0.52" stop-color="#fb9c0a"/><stop offset="0.70" stop-color="#f8ca33"/><stop offset="0.84" stop-color="#f5db4d"/><stop offset="0.93" stop-color="#f7d13d"/><stop offset="1.00" stop-color="#f9c32a"/></linearGradient>
<linearGradient id="cf9" gradientUnits="userSpaceOnUse" x1="788" y1="0" x2="1224" y2="0"><stop offset="0.00" stop-color="#f58113"/><stop offset="0.13" stop-color="#eb6528"/><stop offset="0.22" stop-color="#69176e"/><stop offset="0.29" stop-color="#eb6628"/><stop offset="0.38" stop-color="#f68311"/><stop offset="0.52" stop-color="#fb9a0a"/><stop offset="0.70" stop-color="#f8ca34"/><stop offset="0.84" stop-color="#f5dc4e"/><stop offset="0.93" stop-color="#f7d13e"/><stop offset="1.00" stop-color="#f9c229"/></linearGradient>
<linearGradient id="cf10" gradientUnits="userSpaceOnUse" x1="788" y1="0" x2="1224" y2="0"><stop offset="0.00" stop-color="#f58113"/><stop offset="0.13" stop-color="#eb6528"/><stop offset="0.22" stop-color="#6e196e"/><stop offset="0.29" stop-color="#ea6429"/><stop offset="0.38" stop-color="#f68212"/><stop offset="0.52" stop-color="#fa9909"/><stop offset="0.70" stop-color="#f8c933"/><stop offset="0.84" stop-color="#f5db4e"/><stop offset="0.93" stop-color="#f7d03c"/><stop offset="1.00" stop-color="#fac127"/></linearGradient>
<linearGradient id="cf11" gradientUnits="userSpaceOnUse" x1="788" y1="0" x2="1224" y2="0"><stop offset="0.00" stop-color="#f58113"/><stop offset="0.13" stop-color="#eb6528"/><stop offset="0.22" stop-color="#751b6d"/><stop offset="0.29" stop-color="#e9622b"/><stop offset="0.38" stop-color="#f58113"/><stop offset="0.52" stop-color="#fa9809"/><stop offset="0.70" stop-color="#f9c730"/><stop offset="0.84" stop-color="#f6d949"/><stop offset="0.93" stop-color="#f8cd38"/><stop offset="1.00" stop-color="#fabf24"/></linearGradient>
<linearGradient id="cf12" gradientUnits="userSpaceOnUse" x1="788" y1="0" x2="1224" y2="0"><stop offset="0.00" stop-color="#f58113"/><stop offset="0.13" stop-color="#eb6528"/><stop offset="0.22" stop-color="#7c1e6c"/><stop offset="0.29" stop-color="#e8602d"/><stop offset="0.38" stop-color="#f57f14"/><stop offset="0.52" stop-color="#fa9709"/><stop offset="0.70" stop-color="#f9c52c"/><stop offset="0.84" stop-color="#f6d543"/><stop offset="0.93" stop-color="#f8c932"/><stop offset="1.00" stop-color="#fabb20"/></linearGradient>
<linearGradient id="cf13" gradientUnits="userSpaceOnUse" x1="788" y1="0" x2="1224" y2="0"><stop offset="0.00" stop-color="#f58113"/><stop offset="0.13" stop-color="#eb6528"/><stop offset="0.22" stop-color="#85216a"/><stop offset="0.29" stop-color="#e65d2f"/><stop offset="0.38" stop-color="#f47d15"/><stop offset="0.52" stop-color="#fa9609"/><stop offset="0.70" stop-color="#fac127"/><stop offset="0.84" stop-color="#f7cf3b"/><stop offset="0.93" stop-color="#f9c42b"/><stop offset="1.00" stop-color="#fbb71c"/></linearGradient>
<linearGradient id="cf14" gradientUnits="userSpaceOnUse" x1="788" y1="0" x2="1224" y2="0"><stop offset="0.00" stop-color="#f58113"/><stop offset="0.13" stop-color="#eb6528"/><stop offset="0.22" stop-color="#8d2468"/><stop offset="0.29" stop-color="#e45b31"/><stop offset="0.38" stop-color="#f47c16"/><stop offset="0.52" stop-color="#fa9409"/><stop offset="0.70" stop-color="#fabc21"/><stop offset="0.84" stop-color="#f8c831"/><stop offset="0.93" stop-color="#fabe23"/><stop offset="1.00" stop-color="#fbb318"/></linearGradient>
<linearGradient id="cf15" gradientUnits="userSpaceOnUse" x1="788" y1="0" x2="1224" y2="0"><stop offset="0.00" stop-color="#f58113"/><stop offset="0.13" stop-color="#eb6528"/><stop offset="0.22" stop-color="#952766"/><stop offset="0.29" stop-color="#e25834"/><stop offset="0.38" stop-color="#f37a18"/><stop offset="0.52" stop-color="#fa9209"/><stop offset="0.70" stop-color="#fbb71c"/><stop offset="0.84" stop-color="#f9c228"/><stop offset="0.93" stop-color="#fbb81d"/><stop offset="1.00" stop-color="#fbaf14"/></linearGradient>
<linearGradient id="cf16" gradientUnits="userSpaceOnUse" x1="788" y1="0" x2="1224" y2="0"><stop offset="0.00" stop-color="#f58113"/><stop offset="0.13" stop-color="#eb6528"/><stop offset="0.22" stop-color="#9b2964"/><stop offset="0.29" stop-color="#e05537"/><stop offset="0.38" stop-color="#f37819"/><stop offset="0.52" stop-color="#f99009"/><stop offset="0.70" stop-color="#fbb217"/><stop offset="0.84" stop-color="#fabb20"/><stop offset="0.93" stop-color="#fbb217"/><stop offset="1.00" stop-color="#fcaa0f"/></linearGradient>
<linearGradient id="cf17" gradientUnits="userSpaceOnUse" x1="788" y1="0" x2="1224" y2="0"><stop offset="0.00" stop-color="#f58113"/><stop offset="0.13" stop-color="#eb6528"/><stop offset="0.22" stop-color="#9f2b62"/><stop offset="0.29" stop-color="#dd513a"/><stop offset="0.38" stop-color="#f2761b"/><stop offset="0.52" stop-color="#f98e09"/><stop offset="0.70" stop-color="#fbad12"/><stop offset="0.84" stop-color="#fbb419"/><stop offset="0.93" stop-color="#fbad12"/><stop offset="1.00" stop-color="#fca70c"/></linearGradient>
<linearGradient id="cf18" gradientUnits="userSpaceOnUse" x1="788" y1="0" x2="1224" y2="0"><stop offset="0.00" stop-color="#f58113"/><stop offset="0.13" stop-color="#eb6528"/><stop offset="0.22" stop-color="#9f2b62"/><stop offset="0.29" stop-color="#da4e3d"/><stop offset="0.38" stop-color="#f1741c"/><stop offset="0.52" stop-color="#f98c0a"/><stop offset="0.70" stop-color="#fca80d"/><stop offset="0.84" stop-color="#fbae13"/><stop offset="0.93" stop-color="#fca80d"/><stop offset="1.00" stop-color="#fca30a"/></linearGradient>
<linearGradient id="cf19" gradientUnits="userSpaceOnUse" x1="788" y1="0" x2="1224" y2="0"><stop offset="0.00" stop-color="#f58113"/><stop offset="0.13" stop-color="#eb6528"/><stop offset="0.22" stop-color="#9f2b62"/><stop offset="0.29" stop-color="#d64a40"/><stop offset="0.38" stop-color="#f1721d"/><stop offset="0.52" stop-color="#f88a0c"/><stop offset="0.70" stop-color="#fca40a"/><stop offset="0.84" stop-color="#fca80d"/><stop offset="0.93" stop-color="#fca40a"/><stop offset="1.00" stop-color="#fba00a"/></linearGradient>
<linearGradient id="cf20" gradientUnits="userSpaceOnUse" x1="788" y1="0" x2="1224" y2="0"><stop offset="0.00" stop-color="#f58113"/><stop offset="0.13" stop-color="#eb6528"/><stop offset="0.22" stop-color="#a02b62"/><stop offset="0.29" stop-color="#d44843"/><stop offset="0.38" stop-color="#f0701f"/><stop offset="0.52" stop-color="#f7880d"/><stop offset="0.70" stop-color="#fb9f0a"/><stop offset="0.84" stop-color="#fca30a"/><stop offset="0.93" stop-color="#fba00a"/><stop offset="1.00" stop-color="#fb9d0a"/></linearGradient>
<linearGradient id="cf21" gradientUnits="userSpaceOnUse" x1="788" y1="0" x2="1224" y2="0"><stop offset="0.00" stop-color="#f58113"/><stop offset="0.13" stop-color="#eb6528"/><stop offset="0.22" stop-color="#a12b62"/><stop offset="0.29" stop-color="#d04446"/><stop offset="0.38" stop-color="#ef6e21"/><stop offset="0.52" stop-color="#f7860f"/><stop offset="0.70" stop-color="#fb9b0a"/><stop offset="0.84" stop-color="#fb9f0a"/><stop offset="0.93" stop-color="#fb9c0a"/><stop offset="1.00" stop-color="#fb9a0a"/></linearGradient>
<linearGradient id="cf22" gradientUnits="userSpaceOnUse" x1="788" y1="0" x2="1224" y2="0"><stop offset="0.00" stop-color="#f58113"/><stop offset="0.13" stop-color="#eb6528"/><stop offset="0.22" stop-color="#a32c61"/><stop offset="0.29" stop-color="#ca3f4b"/><stop offset="0.38" stop-color="#ee6c23"/><stop offset="0.52" stop-color="#f68410"/><stop offset="0.70" stop-color="#fa9709"/><stop offset="0.84" stop-color="#fb9b0a"/><stop offset="0.93" stop-color="#fa9909"/><stop offset="1.00" stop-color="#fa9709"/></linearGradient>
<linearGradient id="cf23" gradientUnits="userSpaceOnUse" x1="788" y1="0" x2="1224" y2="0"><stop offset="0.00" stop-color="#f58113"/><stop offset="0.13" stop-color="#eb6528"/><stop offset="0.22" stop-color="#a42d60"/><stop offset="0.29" stop-color="#c43c4f"/><stop offset="0.38" stop-color="#ec6925"/><stop offset="0.52" stop-color="#f68212"/><stop offset="0.70" stop-color="#fa9409"/><stop offset="0.84" stop-color="#fa9709"/><stop offset="0.93" stop-color="#fa9609"/><stop offset="1.00" stop-color="#fa9509"/></linearGradient>
<linearGradient id="cf24" gradientUnits="userSpaceOnUse" x1="788" y1="0" x2="1224" y2="0"><stop offset="0.00" stop-color="#f58113"/><stop offset="0.13" stop-color="#eb6528"/><stop offset="0.22" stop-color="#a62d60"/><stop offset="0.29" stop-color="#be3852"/><stop offset="0.38" stop-color="#eb6628"/><stop offset="0.52" stop-color="#f58013"/><stop offset="0.70" stop-color="#f99109"/><stop offset="0.84" stop-color="#fa9409"/><stop offset="0.93" stop-color="#fa9309"/><stop offset="1.00" stop-color="#fa9309"/></linearGradient>
<linearGradient id="cf25" gradientUnits="userSpaceOnUse" x1="788" y1="0" x2="1224" y2="0"><stop offset="0.00" stop-color="#f58113"/><stop offset="0.13" stop-color="#eb6528"/><stop offset="0.22" stop-color="#a82e5f"/><stop offset="0.29" stop-color="#b93656"/><stop offset="0.38" stop-color="#ea642a"/><stop offset="0.52" stop-color="#f57e15"/><stop offset="0.70" stop-color="#f98d0a"/><stop offset="0.84" stop-color="#f99109"/><stop offset="0.93" stop-color="#f99109"/><stop offset="1.00" stop-color="#f99009"/></linearGradient>
<linearGradient id="cf26" gradientUnits="userSpaceOnUse" x1="788" y1="0" x2="1224" y2="0"><stop offset="0.00" stop-color="#f58113"/><stop offset="0.13" stop-color="#eb6528"/><stop offset="0.22" stop-color="#aa2f5e"/><stop offset="0.29" stop-color="#b33359"/><stop offset="0.38" stop-color="#e75f2d"/><stop offset="0.52" stop-color="#f47c16"/><stop offset="0.70" stop-color="#f88a0c"/><stop offset="0.84" stop-color="#f98d09"/><stop offset="0.93" stop-color="#f98e09"/><stop offset="1.00" stop-color="#f98d09"/></linearGradient>
<linearGradient id="cf27" gradientUnits="userSpaceOnUse" x1="788" y1="0" x2="1224" y2="0"><stop offset="0.00" stop-color="#f58113"/><stop offset="0.13" stop-color="#eb6528"/><stop offset="0.22" stop-color="#ac305d"/><stop offset="0.29" stop-color="#a82e5f"/><stop offset="0.38" stop-color="#e55c31"/><stop offset="0.52" stop-color="#f47a18"/><stop offset="0.70" stop-color="#f7870e"/><stop offset="0.84" stop-color="#f88b0b"/><stop offset="0.93" stop-color="#f88b0b"/><stop offset="1.00" stop-color="#f88b0b"/></linearGradient>
<linearGradient id="cf28" gradientUnits="userSpaceOnUse" x1="788" y1="0" x2="1224" y2="0"><stop offset="0.00" stop-color="#f58113"/><stop offset="0.13" stop-color="#eb6528"/><stop offset="0.22" stop-color="#ae315c"/><stop offset="0.29" stop-color="#9d2a63"/><stop offset="0.38" stop-color="#e25833"/><stop offset="0.52" stop-color="#f37819"/><stop offset="0.70" stop-color="#f68510"/><stop offset="0.84" stop-color="#f7880d"/><stop offset="0.93" stop-color="#f8890d"/><stop offset="1.00" stop-color="#f8890d"/></linearGradient>
<linearGradient id="cf29" gradientUnits="userSpaceOnUse" x1="788" y1="0" x2="1224" y2="0"><stop offset="0.00" stop-color="#f58113"/><stop offset="0.13" stop-color="#eb6528"/><stop offset="0.22" stop-color="#b0315b"/><stop offset="0.29" stop-color="#932667"/><stop offset="0.38" stop-color="#e05636"/><stop offset="0.52" stop-color="#f2761a"/><stop offset="0.70" stop-color="#f68212"/><stop offset="0.84" stop-color="#f7860f"/><stop offset="0.93" stop-color="#f7870e"/><stop offset="1.00" stop-color="#f7870e"/></linearGradient>
<linearGradient id="cf30" gradientUnits="userSpaceOnUse" x1="788" y1="0" x2="1224" y2="0"><stop offset="0.00" stop-color="#f58113"/><stop offset="0.13" stop-color="#eb6528"/><stop offset="0.22" stop-color="#b1325a"/><stop offset="0.29" stop-color="#8a2369"/><stop offset="0.38" stop-color="#df5438"/><stop offset="0.52" stop-color="#f1741c"/><stop offset="0.70" stop-color="#f58013"/><stop offset="0.84" stop-color="#f68311"/><stop offset="0.93" stop-color="#f68410"/><stop offset="1.00" stop-color="#f68410"/></linearGradient>
<linearGradient id="cf31" gradientUnits="userSpaceOnUse" x1="788" y1="0" x2="1224" y2="0"><stop offset="0.00" stop-color="#f58113"/><stop offset="0.13" stop-color="#eb6528"/><stop offset="0.22" stop-color="#b33359"/><stop offset="0.29" stop-color="#85216a"/><stop offset="0.38" stop-color="#df5338"/><stop offset="0.52" stop-color="#f1721e"/><stop offset="0.70" stop-color="#f47d15"/><stop offset="0.84" stop-color="#f58113"/><stop offset="0.93" stop-color="#f68212"/><stop offset="1.00" stop-color="#f68212"/></linearGradient>
<linearGradient id="cf32" gradientUnits="userSpaceOnUse" x1="788" y1="0" x2="1224" y2="0"><stop offset="0.00" stop-color="#f58113"/><stop offset="0.13" stop-color="#eb6528"/><stop offset="0.22" stop-color="#b53458"/><stop offset="0.29" stop-color="#85216a"/><stop offset="0.38" stop-color="#da4e3d"/><stop offset="0.52" stop-color="#f0701f"/><stop offset="0.70" stop-color="#f47b17"/><stop offset="0.84" stop-color="#f57e14"/><stop offset="0.93" stop-color="#f57f14"/><stop offset="1.00" stop-color="#f58014"/></linearGradient>
<linearGradient id="cf33" gradientUnits="userSpaceOnUse" x1="788" y1="0" x2="1224" y2="0"><stop offset="0.00" stop-color="#f58113"/><stop offset="0.13" stop-color="#eb6528"/><stop offset="0.22" stop-color="#b63457"/><stop offset="0.29" stop-color="#7e1f6c"/><stop offset="0.38" stop-color="#d54942"/><stop offset="0.52" stop-color="#ef6f21"/><stop offset="0.70" stop-color="#f37919"/><stop offset="0.84" stop-color="#f47c16"/><stop offset="0.93" stop-color="#f47d15"/><stop offset="1.00" stop-color="#f47d15"/></linearGradient>
<linearGradient id="cf34" gradientUnits="userSpaceOnUse" x1="788" y1="0" x2="1224" y2="0"><stop offset="0.00" stop-color="#f58113"/><stop offset="0.13" stop-color="#eb6528"/><stop offset="0.22" stop-color="#b83556"/><stop offset="0.29" stop-color="#70196d"/><stop offset="0.38" stop-color="#d04446"/><stop offset="0.52" stop-color="#ee6d22"/><stop offset="0.70" stop-color="#f2771a"/><stop offset="0.84" stop-color="#f47a18"/><stop offset="0.93" stop-color="#f47b17"/><stop offset="1.00" stop-color="#f47b17"/></linearGradient>
<linearGradient id="cf35" gradientUnits="userSpaceOnUse" x1="788" y1="0" x2="1224" y2="0"><stop offset="0.00" stop-color="#f58113"/><stop offset="0.13" stop-color="#eb6528"/><stop offset="0.22" stop-color="#b93656"/><stop offset="0.29" stop-color="#60136e"/><stop offset="0.38" stop-color="#cd4149"/><stop offset="0.52" stop-color="#ed6a24"/><stop offset="0.70" stop-color="#f2751c"/><stop offset="0.84" stop-color="#f37819"/><stop offset="0.93" stop-color="#f37918"/><stop offset="1.00" stop-color="#f37918"/></linearGradient>
<linearGradient id="cf36" gradientUnits="userSpaceOnUse" x1="788" y1="0" x2="1224" y2="0"><stop offset="0.00" stop-color="#f58113"/><stop offset="0.13" stop-color="#eb6528"/><stop offset="0.22" stop-color="#bb3655"/><stop offset="0.29" stop-color="#510e6c"/><stop offset="0.38" stop-color="#c93f4c"/><stop offset="0.52" stop-color="#ec6826"/><stop offset="0.70" stop-color="#f1731d"/><stop offset="0.84" stop-color="#f2761b"/><stop offset="0.93" stop-color="#f2771a"/><stop offset="1.00" stop-color="#f3771a"/></linearGradient>
<linearGradient id="cf37" gradientUnits="userSpaceOnUse" x1="788" y1="0" x2="1224" y2="0"><stop offset="0.00" stop-color="#f58113"/><stop offset="0.13" stop-color="#eb6528"/><stop offset="0.22" stop-color="#bc3754"/><stop offset="0.29" stop-color="#500d6c"/><stop offset="0.38" stop-color="#be3853"/><stop offset="0.52" stop-color="#eb6528"/><stop offset="0.70" stop-color="#f0701f"/><stop offset="0.84" stop-color="#f1741c"/><stop offset="0.93" stop-color="#f2751c"/><stop offset="1.00" stop-color="#f2751c"/></linearGradient>
<linearGradient id="cf38" gradientUnits="userSpaceOnUse" x1="788" y1="0" x2="1224" y2="0"><stop offset="0.00" stop-color="#f58113"/><stop offset="0.13" stop-color="#eb6528"/><stop offset="0.22" stop-color="#bd3753"/><stop offset="0.29" stop-color="#5e126e"/><stop offset="0.38" stop-color="#b33359"/><stop offset="0.52" stop-color="#e9622b"/><stop offset="0.70" stop-color="#ef6e21"/><stop offset="0.84" stop-color="#f0721e"/><stop offset="0.93" stop-color="#f1721d"/><stop offset="1.00" stop-color="#f1731d"/></linearGradient>
<linearGradient id="cf39" gradientUnits="userSpaceOnUse" x1="788" y1="0" x2="1224" y2="0"><stop offset="0.00" stop-color="#f58113"/><stop offset="0.13" stop-color="#eb6528"/><stop offset="0.22" stop-color="#be3853"/><stop offset="0.29" stop-color="#6b186e"/><stop offset="0.38" stop-color="#a92e5f"/><stop offset="0.52" stop-color="#e75f2e"/><stop offset="0.70" stop-color="#ee6c23"/><stop offset="0.84" stop-color="#ef6f20"/><stop offset="0.93" stop-color="#f0701f"/><stop offset="1.00" stop-color="#f0701f"/></linearGradient>
<linearGradient id="cf40" gradientUnits="userSpaceOnUse" x1="788" y1="0" x2="1224" y2="0"><stop offset="0.00" stop-color="#f58113"/><stop offset="0.13" stop-color="#eb6528"/><stop offset="0.22" stop-color="#bf3952"/><stop offset="0.29" stop-color="#771c6d"/><stop offset="0.38" stop-color="#a22c61"/><stop offset="0.52" stop-color="#e45b31"/><stop offset="0.70" stop-color="#ed6925"/><stop offset="0.84" stop-color="#ee6d22"/><stop offset="0.93" stop-color="#ef6e21"/><stop offset="1.00" stop-color="#ef6e21"/></linearGradient>
<linearGradient id="cf41" gradientUnits="userSpaceOnUse" x1="788" y1="0" x2="1224" y2="0"><stop offset="0.00" stop-color="#f58113"/><stop offset="0.13" stop-color="#eb6528"/><stop offset="0.22" stop-color="#c03952"/><stop offset="0.29" stop-color="#83216b"/><stop offset="0.38" stop-color="#a12b62"/><stop offset="0.52" stop-color="#e05536"/><stop offset="0.70" stop-color="#eb6628"/><stop offset="0.84" stop-color="#ed6a24"/><stop offset="0.93" stop-color="#ed6b24"/><stop offset="1.00" stop-color="#ed6b23"/></linearGradient>
<linearGradient id="cf42" gradientUnits="userSpaceOnUse" x1="788" y1="0" x2="1224" y2="0"><stop offset="0.00" stop-color="#f58113"/><stop offset="0.13" stop-color="#eb6528"/><stop offset="0.22" stop-color="#c13a51"/><stop offset="0.29" stop-color="#8d2469"/><stop offset="0.38" stop-color="#9d2a63"/><stop offset="0.52" stop-color="#da4e3c"/><stop offset="0.70" stop-color="#e9622b"/><stop offset="0.84" stop-color="#ec6727"/><stop offset="0.93" stop-color="#ec6826"/><stop offset="1.00" stop-color="#ec6826"/></linearGradient>
<linearGradient id="cf43" gradientUnits="userSpaceOnUse" x1="788" y1="0" x2="1224" y2="0"><stop offset="0.00" stop-color="#f58113"/><stop offset="0.13" stop-color="#eb6528"/><stop offset="0.22" stop-color="#c13a50"/><stop offset="0.29" stop-color="#902568"/><stop offset="0.38" stop-color="#86226a"/><stop offset="0.52" stop-color="#d34743"/><stop offset="0.70" stop-color="#e65d2f"/><stop offset="0.84" stop-color="#e9622b"/><stop offset="0.93" stop-color="#ea632a"/><stop offset="1.00" stop-color="#ea6429"/></linearGradient>
<linearGradient id="cf44" gradientUnits="userSpaceOnUse" x1="788" y1="0" x2="1224" y2="0"><stop offset="0.00" stop-color="#f58113"/><stop offset="0.13" stop-color="#eb6528"/><stop offset="0.22" stop-color="#c23b50"/><stop offset="0.29" stop-color="#912567"/><stop offset="0.38" stop-color="#6c186e"/><stop offset="0.52" stop-color="#cb404a"/><stop offset="0.70" stop-color="#e15735"/><stop offset="0.84" stop-color="#e65d2f"/><stop offset="0.93" stop-color="#e75f2e"/><stop offset="1.00" stop-color="#e75f2e"/></linearGradient>
<linearGradient id="cf45" gradientUnits="userSpaceOnUse" x1="788" y1="0" x2="1224" y2="0"><stop offset="0.00" stop-color="#f58113"/><stop offset="0.13" stop-color="#eb6528"/><stop offset="0.22" stop-color="#c33b4f"/><stop offset="0.29" stop-color="#932667"/><stop offset="0.38" stop-color="#4e0d6c"/><stop offset="0.52" stop-color="#c23b50"/><stop offset="0.70" stop-color="#db4f3c"/><stop offset="0.84" stop-color="#e05636"/><stop offset="0.93" stop-color="#e25834"/><stop offset="1.00" stop-color="#e25833"/></linearGradient>
<linearGradient id="cf46" gradientUnits="userSpaceOnUse" x1="788" y1="0" x2="1224" y2="0"><stop offset="0.00" stop-color="#f58113"/><stop offset="0.13" stop-color="#eb6528"/><stop offset="0.22" stop-color="#c43c4f"/><stop offset="0.29" stop-color="#962766"/><stop offset="0.38" stop-color="#58106e"/><stop offset="0.52" stop-color="#ab2f5d"/><stop offset="0.70" stop-color="#d14545"/><stop offset="0.84" stop-color="#d94d3e"/><stop offset="0.93" stop-color="#dc503b"/><stop offset="1.00" stop-color="#dc503b"/></linearGradient>
<linearGradient id="cf47" gradientUnits="userSpaceOnUse" x1="788" y1="0" x2="1224" y2="0"><stop offset="0.00" stop-color="#f58113"/><stop offset="0.13" stop-color="#eb6528"/><stop offset="0.22" stop-color="#c43c4e"/><stop offset="0.29" stop-color="#9a2964"/><stop offset="0.38" stop-color="#731b6d"/><stop offset="0.52" stop-color="#892369"/><stop offset="0.70" stop-color="#c03952"/><stop offset="0.84" stop-color="#cd4248"/><stop offset="0.93" stop-color="#d14545"/><stop offset="1.00" stop-color="#d24645"/></linearGradient>
<linearGradient id="cf48" gradientUnits="userSpaceOnUse" x1="788" y1="0" x2="1224" y2="0"><stop offset="0.00" stop-color="#f58113"/><stop offset="0.13" stop-color="#eb6528"/><stop offset="0.22" stop-color="#c53d4e"/><stop offset="0.29" stop-color="#a12b62"/><stop offset="0.38" stop-color="#962766"/><stop offset="0.52" stop-color="#741b6d"/><stop offset="0.70" stop-color="#972766"/><stop offset="0.84" stop-color="#af315b"/><stop offset="0.93" stop-color="#ae315b"/><stop offset="1.00" stop-color="#b1325a"/></linearGradient>
<linearGradient id="cf49" gradientUnits="userSpaceOnUse" x1="788" y1="0" x2="1224" y2="0"><stop offset="0.00" stop-color="#f58113"/><stop offset="0.13" stop-color="#eb6528"/><stop offset="0.22" stop-color="#c63d4e"/><stop offset="0.29" stop-color="#a92e5f"/><stop offset="0.38" stop-color="#a42c61"/><stop offset="0.52" stop-color="#a52d60"/><stop offset="0.70" stop-color="#8b2369"/><stop offset="0.84" stop-color="#721a6d"/><stop offset="0.93" stop-color="#67166e"/><stop offset="1.00" stop-color="#6e186e"/></linearGradient>
<clipPath id="cld"><rect x="1336.1" y="624.5" width="426.0" height="380.5"/></clipPath>
<linearGradient id="dsol" gradientUnits="userSpaceOnUse" x1="1334" y1="0" x2="1515" y2="0"><stop offset="0.00" stop-color="#fa9309"/><stop offset="0.20" stop-color="#ef6e21"/><stop offset="0.36" stop-color="#85216a"/><stop offset="0.53" stop-color="#da4e3d"/><stop offset="0.70" stop-color="#f3771a"/><stop offset="0.86" stop-color="#f7870e"/><stop offset="1.00" stop-color="#f98f09"/></linearGradient>
<linearGradient id="da0" gradientUnits="userSpaceOnUse" x1="0" y1="622" x2="0" y2="740"><stop offset="0.00" stop-color="#fba00a"/><stop offset="0.15" stop-color="#fb9f0a"/><stop offset="0.32" stop-color="#fa9509"/><stop offset="0.49" stop-color="#f88b0b"/><stop offset="0.66" stop-color="#f88a0c"/><stop offset="0.83" stop-color="#f88a0c"/><stop offset="1.00" stop-color="#f88a0c"/></linearGradient>
<linearGradient id="da1" gradientUnits="userSpaceOnUse" x1="0" y1="622" x2="0" y2="740"><stop offset="0.00" stop-color="#fba10a"/><stop offset="0.15" stop-color="#fba00a"/><stop offset="0.32" stop-color="#fa9609"/><stop offset="0.49" stop-color="#f88b0b"/><stop offset="0.66" stop-color="#f88a0c"/><stop offset="0.83" stop-color="#f88a0c"/><stop offset="1.00" stop-color="#f88a0c"/></linearGradient>
<linearGradient id="da2" gradientUnits="userSpaceOnUse" x1="0" y1="622" x2="0" y2="740"><stop offset="0.00" stop-color="#fba10a"/><stop offset="0.15" stop-color="#fba00a"/><stop offset="0.32" stop-color="#fa9609"/><stop offset="0.49" stop-color="#f88c0b"/><stop offset="0.66" stop-color="#f88a0c"/><stop offset="0.83" stop-color="#f88a0c"/><stop offset="1.00" stop-color="#f88a0c"/></linearGradient>
<linearGradient id="da3" gradientUnits="userSpaceOnUse" x1="0" y1="622" x2="0" y2="740"><stop offset="0.00" stop-color="#fba10a"/><stop offset="0.15" stop-color="#fba00a"/><stop offset="0.32" stop-color="#fa9609"/><stop offset="0.49" stop-color="#f88c0b"/><stop offset="0.66" stop-color="#f88a0c"/><stop offset="0.83" stop-color="#f88a0c"/><stop offset="1.00" stop-color="#f88a0c"/></linearGradient>
<linearGradient id="da4" gradientUnits="userSpaceOnUse" x1="0" y1="622" x2="0" y2="740"><stop offset="0.00" stop-color="#fca10a"/><stop offset="0.15" stop-color="#fba00a"/><stop offset="0.32" stop-color="#fa9709"/><stop offset="0.49" stop-color="#f88c0b"/><stop offset="0.66" stop-color="#f88a0c"/><stop offset="0.83" stop-color="#f88a0c"/><stop offset="1.00" stop-color="#f88a0c"/></linearGradient>
<linearGradient id="da5" gradientUnits="userSpaceOnUse" x1="0" y1="622" x2="0" y2="740"><stop offset="0.00" stop-color="#fca20a"/><stop offset="0.15" stop-color="#fba10a"/><stop offset="0.32" stop-color="#fa9709"/><stop offset="0.49" stop-color="#f88c0a"/><stop offset="0.66" stop-color="#f88a0c"/><stop offset="0.83" stop-color="#f88a0c"/><stop offset="1.00" stop-color="#f88a0c"/></linearGradient>
<linearGradient id="da6" gradientUnits="userSpaceOnUse" x1="0" y1="622" x2="0" y2="740"><stop offset="0.00" stop-color="#fca20a"/><stop offset="0.15" stop-color="#fba10a"/><stop offset="0.32" stop-color="#fa9709"/><stop offset="0.49" stop-color="#f88c0a"/><stop offset="0.66" stop-color="#f88a0c"/><stop offset="0.83" stop-color="#f88a0c"/><stop offset="1.00" stop-color="#f88a0c"/></linearGradient>
<linearGradient id="da7" gradientUnits="userSpaceOnUse" x1="0" y1="622" x2="0" y2="740"><stop offset="0.00" stop-color="#fca20a"/><stop offset="0.15" stop-color="#fca10a"/><stop offset="0.32" stop-color="#fa9809"/><stop offset="0.49" stop-color="#f98c0a"/><stop offset="0.66" stop-color="#f88a0c"/><stop offset="0.83" stop-color="#f88a0c"/><stop offset="1.00" stop-color="#f88a0c"/></linearGradient>
<linearGradient id="da8" gradientUnits="userSpaceOnUse" x1="0" y1="622" x2="0" y2="740"><stop offset="0.00" stop-color="#fca20a"/><stop offset="0.15" stop-color="#fca20a"/><stop offset="0.32" stop-color="#fa9809"/><stop offset="0.49" stop-color="#f98c0a"/><stop offset="0.66" stop-color="#f88a0c"/><stop offset="0.83" stop-color="#f88a0c"/><stop offset="1.00" stop-color="#f88a0c"/></linearGradient>
<linearGradient id="da9" gradientUnits="userSpaceOnUse" x1="0" y1="622" x2="0" y2="740"><stop offset="0.00" stop-color="#fca20a"/><stop offset="0.15" stop-color="#fca20a"/><stop offset="0.32" stop-color="#fa9809"/><stop offset="0.49" stop-color="#f98d0a"/><stop offset="0.66" stop-color="#f88a0c"/><stop offset="0.83" stop-color="#f88a0c"/><stop offset="1.00" stop-color="#f88a0c"/></linearGradient>
<linearGradient id="da10" gradientUnits="userSpaceOnUse" x1="0" y1="622" x2="0" y2="740"><stop offset="0.00" stop-color="#fca30a"/><stop offset="0.15" stop-color="#fca20a"/><stop offset="0.32" stop-color="#fa9909"/><stop offset="0.49" stop-color="#f98d0a"/><stop offset="0.66" stop-color="#f88a0c"/><stop offset="0.83" stop-color="#f88a0c"/><stop offset="1.00" stop-color="#f88a0c"/></linearGradient>
<linearGradient id="da11" gradientUnits="userSpaceOnUse" x1="0" y1="622" x2="0" y2="740"><stop offset="0.00" stop-color="#fca30a"/><stop offset="0.15" stop-color="#fca20a"/><stop offset="0.32" stop-color="#fa9909"/><stop offset="0.49" stop-color="#f98d0a"/><stop offset="0.66" stop-color="#f88a0c"/><stop offset="0.83" stop-color="#f88a0c"/><stop offset="1.00" stop-color="#f88a0c"/></linearGradient>
<linearGradient id="da12" gradientUnits="userSpaceOnUse" x1="0" y1="622" x2="0" y2="740"><stop offset="0.00" stop-color="#fca30a"/><stop offset="0.15" stop-color="#fca30a"/><stop offset="0.32" stop-color="#fa9909"/><stop offset="0.49" stop-color="#f98d0a"/><stop offset="0.66" stop-color="#f88a0c"/><stop offset="0.83" stop-color="#f88a0c"/><stop offset="1.00" stop-color="#f88a0c"/></linearGradient>
<linearGradient id="da13" gradientUnits="userSpaceOnUse" x1="0" y1="622" x2="0" y2="740"><stop offset="0.00" stop-color="#fca30a"/><stop offset="0.15" stop-color="#fca30a"/><stop offset="0.32" stop-color="#fb9a0a"/><stop offset="0.49" stop-color="#f98d0a"/><stop offset="0.66" stop-color="#f88a0c"/><stop offset="0.83" stop-color="#f88a0c"/><stop offset="1.00" stop-color="#f88a0c"/></linearGradient>
<linearGradient id="da14" gradientUnits="userSpaceOnUse" x1="0" y1="622" x2="0" y2="740"><stop offset="0.00" stop-color="#fca40a"/><stop offset="0.15" stop-color="#fca30a"/><stop offset="0.32" stop-color="#fb9a0a"/><stop offset="0.49" stop-color="#f98d09"/><stop offset="0.66" stop-color="#f88a0c"/><stop offset="0.83" stop-color="#f88a0c"/><stop offset="1.00" stop-color="#f88a0c"/></linearGradient>
<linearGradient id="da15" gradientUnits="userSpaceOnUse" x1="0" y1="622" x2="0" y2="740"><stop offset="0.00" stop-color="#fca40a"/><stop offset="0.15" stop-color="#fca40a"/><stop offset="0.32" stop-color="#fb9a0a"/><stop offset="0.49" stop-color="#f98e09"/><stop offset="0.66" stop-color="#f88a0c"/><stop offset="0.83" stop-color="#f88a0c"/><stop offset="1.00" stop-color="#f88a0c"/></linearGradient>
<linearGradient id="da16" gradientUnits="userSpaceOnUse" x1="0" y1="622" x2="0" y2="740"><stop offset="0.00" stop-color="#fca40a"/><stop offset="0.15" stop-color="#fca40a"/><stop offset="0.32" stop-color="#fb9b0a"/><stop offset="0.49" stop-color="#f57e15"/><stop offset="0.66" stop-color="#f88a0c"/><stop offset="0.83" stop-color="#f88a0c"/><stop offset="1.00" stop-color="#f88a0c"/></linearGradient>
<linearGradient id="da17" gradientUnits="userSpaceOnUse" x1="0" y1="622" x2="0" y2="740"><stop offset="0.00" stop-color="#fca40a"/><stop offset="0.15" stop-color="#fca40a"/><stop offset="0.32" stop-color="#fb9b0a"/><stop offset="0.49" stop-color="#f2751c"/><stop offset="0.66" stop-color="#f88a0c"/><stop offset="0.83" stop-color="#f88a0c"/><stop offset="1.00" stop-color="#f88a0c"/></linearGradient>
<linearGradient id="da18" gradientUnits="userSpaceOnUse" x1="0" y1="622" x2="0" y2="740"><stop offset="0.00" stop-color="#fca50a"/><stop offset="0.15" stop-color="#fca40a"/><stop offset="0.32" stop-color="#fb9b0a"/><stop offset="0.49" stop-color="#f2771a"/><stop offset="0.66" stop-color="#f88a0c"/><stop offset="0.83" stop-color="#f88a0c"/><stop offset="1.00" stop-color="#f88a0c"/></linearGradient>
<linearGradient id="da19" gradientUnits="userSpaceOnUse" x1="0" y1="622" x2="0" y2="740"><stop offset="0.00" stop-color="#fca50a"/><stop offset="0.15" stop-color="#fca50a"/><stop offset="0.32" stop-color="#fb9c0a"/><stop offset="0.49" stop-color="#f98e09"/><stop offset="0.66" stop-color="#f88a0c"/><stop offset="0.83" stop-color="#f88a0c"/><stop offset="1.00" stop-color="#f88a0c"/></linearGradient>
<linearGradient id="da20" gradientUnits="userSpaceOnUse" x1="0" y1="622" x2="0" y2="740"><stop offset="0.00" stop-color="#fca50a"/><stop offset="0.15" stop-color="#fca50a"/><stop offset="0.32" stop-color="#fb9c0a"/><stop offset="0.49" stop-color="#f98f09"/><stop offset="0.66" stop-color="#f88a0c"/><stop offset="0.83" stop-color="#f88a0c"/><stop offset="1.00" stop-color="#f88a0c"/></linearGradient>
<linearGradient id="da21" gradientUnits="userSpaceOnUse" x1="0" y1="622" x2="0" y2="740"><stop offset="0.00" stop-color="#fca60b"/><stop offset="0.15" stop-color="#fca60b"/><stop offset="0.32" stop-color="#fb9d0a"/><stop offset="0.49" stop-color="#f98f09"/><stop offset="0.66" stop-color="#f88a0c"/><stop offset="0.83" stop-color="#f88a0c"/><stop offset="1.00" stop-color="#f88a0c"/></linearGradient>
<linearGradient id="da22" gradientUnits="userSpaceOnUse" x1="0" y1="622" x2="0" y2="740"><stop offset="0.00" stop-color="#fca80d"/><stop offset="0.15" stop-color="#fca80d"/><stop offset="0.32" stop-color="#fb9e0a"/><stop offset="0.49" stop-color="#f98f09"/><stop offset="0.66" stop-color="#f88a0c"/><stop offset="0.83" stop-color="#f88a0c"/><stop offset="1.00" stop-color="#f88a0c"/></linearGradient>
<linearGradient id="da23" gradientUnits="userSpaceOnUse" x1="0" y1="622" x2="0" y2="740"><stop offset="0.00" stop-color="#fca90e"/><stop offset="0.15" stop-color="#fca90e"/><stop offset="0.32" stop-color="#fb9f0a"/><stop offset="0.49" stop-color="#f99009"/><stop offset="0.66" stop-color="#f88a0c"/><stop offset="0.83" stop-color="#f88a0c"/><stop offset="1.00" stop-color="#f88a0c"/></linearGradient>
<linearGradient id="da24" gradientUnits="userSpaceOnUse" x1="0" y1="622" x2="0" y2="740"><stop offset="0.00" stop-color="#fcab10"/><stop offset="0.15" stop-color="#fcab10"/><stop offset="0.32" stop-color="#fba10a"/><stop offset="0.49" stop-color="#f99009"/><stop offset="0.66" stop-color="#f88a0c"/><stop offset="0.83" stop-color="#f88a0c"/><stop offset="1.00" stop-color="#f88a0c"/></linearGradient>
<linearGradient id="da25" gradientUnits="userSpaceOnUse" x1="0" y1="622" x2="0" y2="740"><stop offset="0.00" stop-color="#fbac11"/><stop offset="0.15" stop-color="#fbac11"/><stop offset="0.32" stop-color="#fca20a"/><stop offset="0.49" stop-color="#f99109"/><stop offset="0.66" stop-color="#f88a0c"/><stop offset="0.83" stop-color="#f88a0c"/><stop offset="1.00" stop-color="#f88a0c"/></linearGradient>
<linearGradient id="da26" gradientUnits="userSpaceOnUse" x1="0" y1="622" x2="0" y2="740"><stop offset="0.00" stop-color="#fbae13"/><stop offset="0.15" stop-color="#fbae13"/><stop offset="0.32" stop-color="#fca30a"/><stop offset="0.49" stop-color="#f99109"/><stop offset="0.66" stop-color="#f88a0c"/><stop offset="0.83" stop-color="#f88a0c"/><stop offset="1.00" stop-color="#f88a0c"/></linearGradient>
<linearGradient id="da27" gradientUnits="userSpaceOnUse" x1="0" y1="622" x2="0" y2="740"><stop offset="0.00" stop-color="#fbaf14"/><stop offset="0.15" stop-color="#fbaf14"/><stop offset="0.32" stop-color="#fca40a"/><stop offset="0.49" stop-color="#fa9209"/><stop offset="0.66" stop-color="#f88a0c"/><stop offset="0.83" stop-color="#f88a0c"/><stop offset="1.00" stop-color="#f88a0c"/></linearGradient>
<linearGradient id="da28" gradientUnits="userSpaceOnUse" x1="0" y1="622" x2="0" y2="740"><stop offset="0.00" stop-color="#fbb116"/><stop offset="0.15" stop-color="#fbb116"/><stop offset="0.32" stop-color="#fca60b"/><stop offset="0.49" stop-color="#fa9309"/><stop offset="0.66" stop-color="#f88a0c"/><stop offset="0.83" stop-color="#f88a0c"/><stop offset="1.00" stop-color="#f88a0c"/></linearGradient>
<linearGradient id="da29" gradientUnits="userSpaceOnUse" x1="0" y1="622" x2="0" y2="740"><stop offset="0.00" stop-color="#fbb217"/><stop offset="0.15" stop-color="#fbb217"/><stop offset="0.32" stop-color="#fca70c"/><stop offset="0.49" stop-color="#fa9309"/><stop offset="0.66" stop-color="#f88a0c"/><stop offset="0.83" stop-color="#f88a0c"/><stop offset="1.00" stop-color="#f88a0c"/></linearGradient>
<linearGradient id="da30" gradientUnits="userSpaceOnUse" x1="0" y1="622" x2="0" y2="740"><stop offset="0.00" stop-color="#fbb419"/><stop offset="0.15" stop-color="#fbb419"/><stop offset="0.32" stop-color="#fca80d"/><stop offset="0.49" stop-color="#fa9409"/><stop offset="0.66" stop-color="#f88a0c"/><stop offset="0.83" stop-color="#f88a0c"/><stop offset="1.00" stop-color="#f88a0c"/></linearGradient>
<linearGradient id="da31" gradientUnits="userSpaceOnUse" x1="0" y1="622" x2="0" y2="740"><stop offset="0.00" stop-color="#fbb51a"/><stop offset="0.15" stop-color="#fbb51a"/><stop offset="0.32" stop-color="#fcaa0f"/><stop offset="0.49" stop-color="#fa9409"/><stop offset="0.66" stop-color="#f7870e"/><stop offset="0.83" stop-color="#f88a0c"/><stop offset="1.00" stop-color="#f88a0c"/></linearGradient>
<linearGradient id="da32" gradientUnits="userSpaceOnUse" x1="0" y1="622" x2="0" y2="740"><stop offset="0.00" stop-color="#fbb71c"/><stop offset="0.15" stop-color="#fbb71c"/><stop offset="0.32" stop-color="#fbab10"/><stop offset="0.49" stop-color="#fa9509"/><stop offset="0.66" stop-color="#ea6429"/><stop offset="0.83" stop-color="#f88a0c"/><stop offset="1.00" stop-color="#f88a0c"/></linearGradient>
<linearGradient id="da33" gradientUnits="userSpaceOnUse" x1="0" y1="622" x2="0" y2="740"><stop offset="0.00" stop-color="#fab81d"/><stop offset="0.15" stop-color="#fab81d"/><stop offset="0.32" stop-color="#fbad12"/><stop offset="0.49" stop-color="#fa9609"/><stop offset="0.66" stop-color="#f88a0c"/><stop offset="0.83" stop-color="#f88a0c"/><stop offset="1.00" stop-color="#f88a0c"/></linearGradient>
<linearGradient id="da34" gradientUnits="userSpaceOnUse" x1="0" y1="622" x2="0" y2="740"><stop offset="0.00" stop-color="#faba1f"/><stop offset="0.15" stop-color="#faba1f"/><stop offset="0.32" stop-color="#fbaf14"/><stop offset="0.49" stop-color="#fa9709"/><stop offset="0.66" stop-color="#f88a0c"/><stop offset="0.83" stop-color="#f88a0c"/><stop offset="1.00" stop-color="#f88a0c"/></linearGradient>
<linearGradient id="da35" gradientUnits="userSpaceOnUse" x1="0" y1="622" x2="0" y2="740"><stop offset="0.00" stop-color="#fabd22"/><stop offset="0.15" stop-color="#fabd22"/><stop offset="0.32" stop-color="#fbb217"/><stop offset="0.49" stop-color="#fa9809"/><stop offset="0.66" stop-color="#f88a0c"/><stop offset="0.83" stop-color="#f88a0c"/><stop offset="1.00" stop-color="#f88a0c"/></linearGradient>
<linearGradient id="da36" gradientUnits="userSpaceOnUse" x1="0" y1="622" x2="0" y2="740"><stop offset="0.00" stop-color="#fac026"/><stop offset="0.15" stop-color="#fac026"/><stop offset="0.32" stop-color="#fbb51a"/><stop offset="0.49" stop-color="#fb9a0a"/><stop offset="0.66" stop-color="#f88a0c"/><stop offset="0.83" stop-color="#f88a0c"/><stop offset="1.00" stop-color="#f88a0c"/></linearGradient>
<linearGradient id="da37" gradientUnits="userSpaceOnUse" x1="0" y1="622" x2="0" y2="740"><stop offset="0.00" stop-color="#f9c32b"/><stop offset="0.15" stop-color="#f9c32b"/><stop offset="0.32" stop-color="#fab91e"/><stop offset="0.49" stop-color="#fb9c0a"/><stop offset="0.66" stop-color="#f88a0c"/><stop offset="0.83" stop-color="#f88a0c"/><stop offset="1.00" stop-color="#f88a0c"/></linearGradient>
<linearGradient id="da38" gradientUnits="userSpaceOnUse" x1="0" y1="622" x2="0" y2="740"><stop offset="0.00" stop-color="#f9c62f"/><stop offset="0.15" stop-color="#f9c62f"/><stop offset="0.32" stop-color="#fabc21"/><stop offset="0.49" stop-color="#fb9e0a"/><stop offset="0.66" stop-color="#f88a0c"/><stop offset="0.83" stop-color="#f88a0c"/><stop offset="1.00" stop-color="#f88a0c"/></linearGradient>
<linearGradient id="da39" gradientUnits="userSpaceOnUse" x1="0" y1="622" x2="0" y2="740"><stop offset="0.00" stop-color="#f8c933"/><stop offset="0.15" stop-color="#f8c933"/><stop offset="0.32" stop-color="#fabf25"/><stop offset="0.49" stop-color="#fba00a"/><stop offset="0.66" stop-color="#f88a0c"/><stop offset="0.83" stop-color="#f88a0c"/><stop offset="1.00" stop-color="#f88a0c"/></linearGradient>
<linearGradient id="da40" gradientUnits="userSpaceOnUse" x1="0" y1="622" x2="0" y2="740"><stop offset="0.00" stop-color="#f8cc37"/><stop offset="0.15" stop-color="#f8cc37"/><stop offset="0.32" stop-color="#f9c32a"/><stop offset="0.49" stop-color="#fca20a"/><stop offset="0.66" stop-color="#f88b0b"/><stop offset="0.83" stop-color="#f88a0c"/><stop offset="1.00" stop-color="#f88a0c"/></linearGradient>
<linearGradient id="da41" gradientUnits="userSpaceOnUse" x1="0" y1="622" x2="0" y2="740"><stop offset="0.00" stop-color="#f7cf3b"/><stop offset="0.15" stop-color="#f7cf3b"/><stop offset="0.32" stop-color="#f9c62f"/><stop offset="0.49" stop-color="#fca40a"/><stop offset="0.66" stop-color="#f88b0b"/><stop offset="0.83" stop-color="#f88a0c"/><stop offset="1.00" stop-color="#f88a0c"/></linearGradient>
<linearGradient id="da42" gradientUnits="userSpaceOnUse" x1="0" y1="622" x2="0" y2="740"><stop offset="0.00" stop-color="#f7d240"/><stop offset="0.15" stop-color="#f7d240"/><stop offset="0.32" stop-color="#f8ca34"/><stop offset="0.49" stop-color="#fca70c"/><stop offset="0.66" stop-color="#f88b0b"/><stop offset="0.83" stop-color="#f88a0c"/><stop offset="1.00" stop-color="#f88a0c"/></linearGradient>
<linearGradient id="da43" gradientUnits="userSpaceOnUse" x1="0" y1="622" x2="0" y2="740"><stop offset="0.00" stop-color="#f6d544"/><stop offset="0.15" stop-color="#f6d544"/><stop offset="0.32" stop-color="#f8cd39"/><stop offset="0.49" stop-color="#fca90e"/><stop offset="0.66" stop-color="#f88c0a"/><stop offset="0.83" stop-color="#f88a0c"/><stop offset="1.00" stop-color="#f88a0c"/></linearGradient>
<linearGradient id="da44" gradientUnits="userSpaceOnUse" x1="0" y1="622" x2="0" y2="740"><stop offset="0.00" stop-color="#f6d848"/><stop offset="0.15" stop-color="#f6d848"/><stop offset="0.32" stop-color="#f7d13d"/><stop offset="0.49" stop-color="#fbac11"/><stop offset="0.66" stop-color="#f98d0a"/><stop offset="0.83" stop-color="#f88a0c"/><stop offset="1.00" stop-color="#f88a0c"/></linearGradient>
<linearGradient id="da45" gradientUnits="userSpaceOnUse" x1="0" y1="622" x2="0" y2="740"><stop offset="0.00" stop-color="#f5db4e"/><stop offset="0.15" stop-color="#f5db4e"/><stop offset="0.32" stop-color="#f6d442"/><stop offset="0.49" stop-color="#fbaf14"/><stop offset="0.66" stop-color="#f98d09"/><stop offset="0.83" stop-color="#f88a0c"/><stop offset="1.00" stop-color="#f88a0c"/></linearGradient>
<linearGradient id="da46" gradientUnits="userSpaceOnUse" x1="0" y1="622" x2="0" y2="740"><stop offset="0.00" stop-color="#f5de53"/><stop offset="0.15" stop-color="#f5de53"/><stop offset="0.32" stop-color="#f6d848"/><stop offset="0.49" stop-color="#fbb217"/><stop offset="0.66" stop-color="#f98e09"/><stop offset="0.83" stop-color="#f88a0c"/><stop offset="1.00" stop-color="#f88a0c"/></linearGradient>
<linearGradient id="da47" gradientUnits="userSpaceOnUse" x1="0" y1="622" x2="0" y2="740"><stop offset="0.00" stop-color="#f4e158"/><stop offset="0.15" stop-color="#f4e158"/><stop offset="0.32" stop-color="#f5db4e"/><stop offset="0.49" stop-color="#fbb51a"/><stop offset="0.66" stop-color="#f98f09"/><stop offset="0.83" stop-color="#f88a0c"/><stop offset="1.00" stop-color="#f88a0c"/></linearGradient>
<linearGradient id="da48" gradientUnits="userSpaceOnUse" x1="0" y1="622" x2="0" y2="740"><stop offset="0.00" stop-color="#f4e45e"/><stop offset="0.15" stop-color="#f4e45e"/><stop offset="0.32" stop-color="#f5df55"/><stop offset="0.49" stop-color="#fbb81d"/><stop offset="0.66" stop-color="#f99009"/><stop offset="0.83" stop-color="#f88a0c"/><stop offset="1.00" stop-color="#f88a0c"/></linearGradient>
<linearGradient id="da49" gradientUnits="userSpaceOnUse" x1="0" y1="622" x2="0" y2="740"><stop offset="0.00" stop-color="#f3e763"/><stop offset="0.15" stop-color="#f3e763"/><stop offset="0.32" stop-color="#f4e25b"/><stop offset="0.49" stop-color="#fabb20"/><stop offset="0.66" stop-color="#f99109"/><stop offset="0.83" stop-color="#f88a0c"/><stop offset="1.00" stop-color="#f88a0c"/></linearGradient>
<linearGradient id="da50" gradientUnits="userSpaceOnUse" x1="0" y1="622" x2="0" y2="740"><stop offset="0.00" stop-color="#f3ea68"/><stop offset="0.15" stop-color="#f3ea68"/><stop offset="0.32" stop-color="#f4e661"/><stop offset="0.49" stop-color="#fabe23"/><stop offset="0.66" stop-color="#fa9209"/><stop offset="0.83" stop-color="#f88a0c"/><stop offset="1.00" stop-color="#f88a0c"/></linearGradient>
<linearGradient id="da51" gradientUnits="userSpaceOnUse" x1="0" y1="622" x2="0" y2="740"><stop offset="0.00" stop-color="#f3ec6d"/><stop offset="0.15" stop-color="#f3ec6d"/><stop offset="0.32" stop-color="#f3e968"/><stop offset="0.49" stop-color="#f9c228"/><stop offset="0.66" stop-color="#fa9409"/><stop offset="0.83" stop-color="#f88a0c"/><stop offset="1.00" stop-color="#f88a0c"/></linearGradient>
<linearGradient id="da52" gradientUnits="userSpaceOnUse" x1="0" y1="622" x2="0" y2="740"><stop offset="0.00" stop-color="#f2ef73"/><stop offset="0.15" stop-color="#f2ef73"/><stop offset="0.32" stop-color="#f3ed6e"/><stop offset="0.49" stop-color="#f9c52d"/><stop offset="0.66" stop-color="#fa9509"/><stop offset="0.83" stop-color="#f88a0c"/><stop offset="1.00" stop-color="#f88a0c"/></linearGradient>
<linearGradient id="da53" gradientUnits="userSpaceOnUse" x1="0" y1="622" x2="0" y2="740"><stop offset="0.00" stop-color="#f3f177"/><stop offset="0.15" stop-color="#f3f177"/><stop offset="0.32" stop-color="#f2f073"/><stop offset="0.49" stop-color="#f8c831"/><stop offset="0.66" stop-color="#fa9709"/><stop offset="0.83" stop-color="#f88a0c"/><stop offset="1.00" stop-color="#f88a0c"/></linearGradient>
<linearGradient id="da54" gradientUnits="userSpaceOnUse" x1="0" y1="622" x2="0" y2="740"><stop offset="0.00" stop-color="#f4f27b"/><stop offset="0.15" stop-color="#f4f27b"/><stop offset="0.32" stop-color="#f3f179"/><stop offset="0.49" stop-color="#f8cc36"/><stop offset="0.66" stop-color="#fa9809"/><stop offset="0.83" stop-color="#f7850f"/><stop offset="1.00" stop-color="#f88a0c"/></linearGradient>
<linearGradient id="da55" gradientUnits="userSpaceOnUse" x1="0" y1="622" x2="0" y2="740"><stop offset="0.00" stop-color="#f4f480"/><stop offset="0.15" stop-color="#f4f480"/><stop offset="0.32" stop-color="#f4f37e"/><stop offset="0.49" stop-color="#f7cf3b"/><stop offset="0.66" stop-color="#fb9a0a"/><stop offset="0.83" stop-color="#ec6726"/><stop offset="1.00" stop-color="#f88a0c"/></linearGradient>
<linearGradient id="da56" gradientUnits="userSpaceOnUse" x1="0" y1="622" x2="0" y2="740"><stop offset="0.00" stop-color="#f5f584"/><stop offset="0.15" stop-color="#f5f584"/><stop offset="0.32" stop-color="#f5f583"/><stop offset="0.49" stop-color="#f7d23f"/><stop offset="0.66" stop-color="#fb9c0a"/><stop offset="0.83" stop-color="#ee6c23"/><stop offset="1.00" stop-color="#f88a0c"/></linearGradient>
<linearGradient id="da57" gradientUnits="userSpaceOnUse" x1="0" y1="622" x2="0" y2="740"><stop offset="0.00" stop-color="#f6f688"/><stop offset="0.15" stop-color="#f6f688"/><stop offset="0.32" stop-color="#f6f687"/><stop offset="0.49" stop-color="#f6d544"/><stop offset="0.66" stop-color="#fb9d0a"/><stop offset="0.83" stop-color="#f8890c"/><stop offset="1.00" stop-color="#f88a0c"/></linearGradient>
<linearGradient id="da58" gradientUnits="userSpaceOnUse" x1="0" y1="622" x2="0" y2="740"><stop offset="0.00" stop-color="#f7f78c"/><stop offset="0.15" stop-color="#f7f78c"/><stop offset="0.32" stop-color="#f7f78b"/><stop offset="0.49" stop-color="#f6d949"/><stop offset="0.66" stop-color="#fb9f0a"/><stop offset="0.83" stop-color="#f88a0c"/><stop offset="1.00" stop-color="#f88a0c"/></linearGradient>
<linearGradient id="da59" gradientUnits="userSpaceOnUse" x1="0" y1="622" x2="0" y2="740"><stop offset="0.00" stop-color="#f8f88f"/><stop offset="0.15" stop-color="#f8f88f"/><stop offset="0.32" stop-color="#f8f88e"/><stop offset="0.49" stop-color="#f5dc4f"/><stop offset="0.66" stop-color="#fba10a"/><stop offset="0.83" stop-color="#f88a0c"/><stop offset="1.00" stop-color="#f88a0c"/></linearGradient>
<linearGradient id="da60" gradientUnits="userSpaceOnUse" x1="0" y1="622" x2="0" y2="740"><stop offset="0.00" stop-color="#f7f78b"/><stop offset="0.15" stop-color="#f7f78b"/><stop offset="0.32" stop-color="#f7f78b"/><stop offset="0.49" stop-color="#f5dc50"/><stop offset="0.66" stop-color="#fca20a"/><stop offset="0.83" stop-color="#f8890c"/><stop offset="1.00" stop-color="#f8890c"/></linearGradient>
<linearGradient id="da61" gradientUnits="userSpaceOnUse" x1="0" y1="622" x2="0" y2="740"><stop offset="0.00" stop-color="#f6f686"/><stop offset="0.15" stop-color="#f6f686"/><stop offset="0.32" stop-color="#f6f686"/><stop offset="0.49" stop-color="#f5dc4f"/><stop offset="0.66" stop-color="#fca20a"/><stop offset="0.83" stop-color="#f8890c"/><stop offset="1.00" stop-color="#f8890c"/></linearGradient>
<linearGradient id="da62" gradientUnits="userSpaceOnUse" x1="0" y1="622" x2="0" y2="740"><stop offset="0.00" stop-color="#f4f37d"/><stop offset="0.15" stop-color="#f4f37d"/><stop offset="0.32" stop-color="#f4f37d"/><stop offset="0.49" stop-color="#f6da4b"/><stop offset="0.66" stop-color="#fca20a"/><stop offset="0.83" stop-color="#f8890d"/><stop offset="1.00" stop-color="#f8890d"/></linearGradient>
<linearGradient id="da63" gradientUnits="userSpaceOnUse" x1="0" y1="622" x2="0" y2="740"><stop offset="0.00" stop-color="#f3ec6d"/><stop offset="0.15" stop-color="#f3ec6d"/><stop offset="0.32" stop-color="#f3ec6d"/><stop offset="0.49" stop-color="#f7d441"/><stop offset="0.66" stop-color="#fb9f0a"/><stop offset="0.83" stop-color="#f7880d"/><stop offset="1.00" stop-color="#f7880d"/></linearGradient>
<linearGradient id="da64" gradientUnits="userSpaceOnUse" x1="0" y1="622" x2="0" y2="740"><stop offset="0.00" stop-color="#f5dc4f"/><stop offset="0.15" stop-color="#f5dc4f"/><stop offset="0.32" stop-color="#f5dc4f"/><stop offset="0.49" stop-color="#f9c72f"/><stop offset="0.66" stop-color="#fa9909"/><stop offset="0.83" stop-color="#f7870e"/><stop offset="1.00" stop-color="#f7870e"/></linearGradient>
<linearGradient id="da65" gradientUnits="userSpaceOnUse" x1="0" y1="622" x2="0" y2="740"><stop offset="0.00" stop-color="#fabc21"/><stop offset="0.15" stop-color="#fabc21"/><stop offset="0.32" stop-color="#fabc21"/><stop offset="0.49" stop-color="#fcab10"/><stop offset="0.66" stop-color="#f88a0c"/><stop offset="0.83" stop-color="#f7850f"/><stop offset="1.00" stop-color="#f78510"/></linearGradient>
<linearGradient id="da66" gradientUnits="userSpaceOnUse" x1="0" y1="622" x2="0" y2="740"><stop offset="0.00" stop-color="#f68311"/><stop offset="0.15" stop-color="#f68311"/><stop offset="0.32" stop-color="#f68311"/><stop offset="0.49" stop-color="#f47b17"/><stop offset="0.66" stop-color="#ee6d22"/><stop offset="0.83" stop-color="#f58113"/><stop offset="1.00" stop-color="#f58113"/></linearGradient>
<linearGradient id="da67" gradientUnits="userSpaceOnUse" x1="0" y1="622" x2="0" y2="740"><stop offset="0.00" stop-color="#bc3754"/><stop offset="0.15" stop-color="#bc3754"/><stop offset="0.32" stop-color="#bc3754"/><stop offset="0.49" stop-color="#bc3754"/><stop offset="0.66" stop-color="#cb404a"/><stop offset="0.83" stop-color="#f37819"/><stop offset="1.00" stop-color="#f37819"/></linearGradient>
<linearGradient id="df0" gradientUnits="userSpaceOnUse" x1="1334" y1="0" x2="1770" y2="0"><stop offset="0.00" stop-color="#f58113"/><stop offset="0.13" stop-color="#eb6528"/><stop offset="0.22" stop-color="#791d6c"/><stop offset="0.29" stop-color="#ef6f21"/><stop offset="0.38" stop-color="#f2751c"/><stop offset="0.52" stop-color="#e9622b"/><stop offset="0.70" stop-color="#ce4248"/><stop offset="0.84" stop-color="#a82e5f"/><stop offset="0.93" stop-color="#5a116e"/><stop offset="1.00" stop-color="#420a68"/></linearGradient>
<linearGradient id="df1" gradientUnits="userSpaceOnUse" x1="1334" y1="0" x2="1770" y2="0"><stop offset="0.00" stop-color="#f58113"/><stop offset="0.13" stop-color="#eb6528"/><stop offset="0.22" stop-color="#7b1e6c"/><stop offset="0.29" stop-color="#ef6e21"/><stop offset="0.38" stop-color="#f47a18"/><stop offset="0.52" stop-color="#ef6e21"/><stop offset="0.70" stop-color="#e25833"/><stop offset="0.84" stop-color="#d14545"/><stop offset="0.93" stop-color="#9d2a63"/><stop offset="1.00" stop-color="#8c2469"/></linearGradient>
<linearGradient id="df2" gradientUnits="userSpaceOnUse" x1="1334" y1="0" x2="1770" y2="0"><stop offset="0.00" stop-color="#f58113"/><stop offset="0.13" stop-color="#eb6528"/><stop offset="0.22" stop-color="#7d1f6c"/><stop offset="0.29" stop-color="#ef6e21"/><stop offset="0.38" stop-color="#f57f14"/><stop offset="0.52" stop-color="#f37918"/><stop offset="0.70" stop-color="#ef6e21"/><stop offset="0.84" stop-color="#e8612c"/><stop offset="0.93" stop-color="#cc414a"/><stop offset="1.00" stop-color="#c13a50"/></linearGradient>
<linearGradient id="df3" gradientUnits="userSpaceOnUse" x1="1334" y1="0" x2="1770" y2="0"><stop offset="0.00" stop-color="#f58113"/><stop offset="0.13" stop-color="#eb6528"/><stop offset="0.22" stop-color="#7f1f6c"/><stop offset="0.29" stop-color="#ef6e21"/><stop offset="0.38" stop-color="#f68311"/><stop offset="0.52" stop-color="#f68311"/><stop offset="0.70" stop-color="#f68212"/><stop offset="0.84" stop-color="#f47b17"/><stop offset="0.93" stop-color="#e65d2f"/><stop offset="1.00" stop-color="#e05536"/></linearGradient>
<linearGradient id="df4" gradientUnits="userSpaceOnUse" x1="1334" y1="0" x2="1770" y2="0"><stop offset="0.00" stop-color="#f58113"/><stop offset="0.13" stop-color="#eb6528"/><stop offset="0.22" stop-color="#80206b"/><stop offset="0.29" stop-color="#ef6e21"/><stop offset="0.38" stop-color="#f7870e"/><stop offset="0.52" stop-color="#f88b0b"/><stop offset="0.70" stop-color="#f99109"/><stop offset="0.84" stop-color="#f99109"/><stop offset="0.93" stop-color="#f37819"/><stop offset="1.00" stop-color="#f0701f"/></linearGradient>
<linearGradient id="df5" gradientUnits="userSpaceOnUse" x1="1334" y1="0" x2="1770" y2="0"><stop offset="0.00" stop-color="#f58113"/><stop offset="0.13" stop-color="#eb6528"/><stop offset="0.22" stop-color="#83216b"/><stop offset="0.29" stop-color="#ee6d22"/><stop offset="0.38" stop-color="#f88a0c"/><stop offset="0.52" stop-color="#fa9509"/><stop offset="0.70" stop-color="#fca20a"/><stop offset="0.84" stop-color="#fca60b"/><stop offset="0.93" stop-color="#fa9309"/><stop offset="1.00" stop-color="#f88c0b"/></linearGradient>
<linearGradient id="df6" gradientUnits="userSpaceOnUse" x1="1334" y1="0" x2="1770" y2="0"><stop offset="0.00" stop-color="#f58113"/><stop offset="0.13" stop-color="#eb6528"/><stop offset="0.22" stop-color="#84216b"/><stop offset="0.29" stop-color="#ee6d22"/><stop offset="0.38" stop-color="#f8890c"/><stop offset="0.52" stop-color="#fb9d0a"/><stop offset="0.70" stop-color="#fbaf14"/><stop offset="0.84" stop-color="#fbb61b"/><stop offset="0.93" stop-color="#fca60b"/><stop offset="1.00" stop-color="#fb9f0a"/></linearGradient>
<linearGradient id="df7" gradientUnits="userSpaceOnUse" x1="1334" y1="0" x2="1770" y2="0"><stop offset="0.00" stop-color="#f58113"/><stop offset="0.13" stop-color="#eb6528"/><stop offset="0.22" stop-color="#81206b"/><stop offset="0.29" stop-color="#ee6d22"/><stop offset="0.38" stop-color="#f8890d"/><stop offset="0.52" stop-color="#fb9e0a"/><stop offset="0.70" stop-color="#faba1f"/><stop offset="0.84" stop-color="#f9c228"/><stop offset="0.93" stop-color="#fbb419"/><stop offset="1.00" stop-color="#fbad12"/></linearGradient>
<linearGradient id="df8" gradientUnits="userSpaceOnUse" x1="1334" y1="0" x2="1770" y2="0"><stop offset="0.00" stop-color="#f58113"/><stop offset="0.13" stop-color="#eb6528"/><stop offset="0.22" stop-color="#7e1f6c"/><stop offset="0.29" stop-color="#ee6c22"/><stop offset="0.38" stop-color="#f8890d"/><stop offset="0.52" stop-color="#fb9e0a"/><stop offset="0.70" stop-color="#f9c128"/><stop offset="0.84" stop-color="#f8ca33"/><stop offset="0.93" stop-color="#fabe23"/><stop offset="1.00" stop-color="#fbb61b"/></linearGradient>
<linearGradient id="df9" gradientUnits="userSpaceOnUse" x1="1334" y1="0" x2="1770" y2="0"><stop offset="0.00" stop-color="#f58113"/><stop offset="0.13" stop-color="#eb6528"/><stop offset="0.22" stop-color="#7b1e6c"/><stop offset="0.29" stop-color="#ee6c23"/><stop offset="0.38" stop-color="#f7880d"/><stop offset="0.52" stop-color="#fb9e0a"/><stop offset="0.70" stop-color="#f9c32a"/><stop offset="0.84" stop-color="#f7cf3b"/><stop offset="0.93" stop-color="#f9c62e"/><stop offset="1.00" stop-color="#fabc21"/></linearGradient>
<linearGradient id="df10" gradientUnits="userSpaceOnUse" x1="1334" y1="0" x2="1770" y2="0"><stop offset="0.00" stop-color="#f58113"/><stop offset="0.13" stop-color="#eb6528"/><stop offset="0.22" stop-color="#771c6d"/><stop offset="0.29" stop-color="#ee6b23"/><stop offset="0.38" stop-color="#f7880d"/><stop offset="0.52" stop-color="#fb9d0a"/><stop offset="0.70" stop-color="#f9c42c"/><stop offset="0.84" stop-color="#f7d13e"/><stop offset="0.93" stop-color="#f8c831"/><stop offset="1.00" stop-color="#fabe23"/></linearGradient>
<linearGradient id="df11" gradientUnits="userSpaceOnUse" x1="1334" y1="0" x2="1770" y2="0"><stop offset="0.00" stop-color="#f58113"/><stop offset="0.13" stop-color="#eb6528"/><stop offset="0.22" stop-color="#741b6d"/><stop offset="0.29" stop-color="#ed6b23"/><stop offset="0.38" stop-color="#f7880e"/><stop offset="0.52" stop-color="#fb9d0a"/><stop offset="0.70" stop-color="#f9c62e"/><stop offset="0.84" stop-color="#f7d341"/><stop offset="0.93" stop-color="#f8ca34"/><stop offset="1.00" stop-color="#fabf24"/></linearGradient>
<linearGradient id="df12" gradientUnits="userSpaceOnUse" x1="1334" y1="0" x2="1770" y2="0"><stop offset="0.00" stop-color="#f58113"/><stop offset="0.13" stop-color="#eb6528"/><stop offset="0.22" stop-color="#711a6d"/><stop offset="0.29" stop-color="#ed6b24"/><stop offset="0.38" stop-color="#f7870e"/><stop offset="0.52" stop-color="#fb9d0a"/><stop offset="0.70" stop-color="#f9c72f"/><stop offset="0.84" stop-color="#f6d543"/><stop offset="0.93" stop-color="#f8cc36"/><stop offset="1.00" stop-color="#fac025"/></linearGradient>
<linearGradient id="df13" gradientUnits="userSpaceOnUse" x1="1334" y1="0" x2="1770" y2="0"><stop offset="0.00" stop-color="#f58113"/><stop offset="0.13" stop-color="#eb6528"/><stop offset="0.22" stop-color="#6e186e"/><stop offset="0.29" stop-color="#ed6a24"/><stop offset="0.38" stop-color="#f7860e"/><stop offset="0.52" stop-color="#fb9d0a"/><stop offset="0.70" stop-color="#f8c831"/><stop offset="0.84" stop-color="#f6d746"/><stop offset="0.93" stop-color="#f8cd38"/><stop offset="1.00" stop-color="#fac127"/></linearGradient>
<linearGradient id="df14" gradientUnits="userSpaceOnUse" x1="1334" y1="0" x2="1770" y2="0"><stop offset="0.00" stop-color="#f58113"/><stop offset="0.13" stop-color="#eb6528"/><stop offset="0.22" stop-color="#6b176e"/><stop offset="0.29" stop-color="#ed6925"/><stop offset="0.38" stop-color="#f7860f"/><stop offset="0.52" stop-color="#fb9c0a"/><stop offset="0.70" stop-color="#f8c831"/><stop offset="0.84" stop-color="#f6d849"/><stop offset="0.93" stop-color="#f7cf3a"/><stop offset="1.00" stop-color="#f9c228"/></linearGradient>
<linearGradient id="df15" gradientUnits="userSpaceOnUse" x1="1334" y1="0" x2="1770" y2="0"><stop offset="0.00" stop-color="#f58113"/><stop offset="0.13" stop-color="#eb6528"/><stop offset="0.22" stop-color="#69176e"/><stop offset="0.29" stop-color="#ec6826"/><stop offset="0.38" stop-color="#f7850f"/><stop offset="0.52" stop-color="#fb9c0a"/><stop offset="0.70" stop-color="#f8c932"/><stop offset="0.84" stop-color="#f6da4c"/><stop offset="0.93" stop-color="#f7d03c"/><stop offset="1.00" stop-color="#f9c229"/></linearGradient>
<linearGradient id="df16" gradientUnits="userSpaceOnUse" x1="1334" y1="0" x2="1770" y2="0"><stop offset="0.00" stop-color="#f58113"/><stop offset="0.13" stop-color="#eb6528"/><stop offset="0.22" stop-color="#68166e"/><stop offset="0.29" stop-color="#ec6726"/><stop offset="0.38" stop-color="#f78510"/><stop offset="0.52" stop-color="#fb9c0a"/><stop offset="0.70" stop-color="#f8ca33"/><stop offset="0.84" stop-color="#f5db4e"/><stop offset="0.93" stop-color="#f7d13d"/><stop offset="1.00" stop-color="#f9c329"/></linearGradient>
<linearGradient id="df17" gradientUnits="userSpaceOnUse" x1="1334" y1="0" x2="1770" y2="0"><stop offset="0.00" stop-color="#f58113"/><stop offset="0.13" stop-color="#eb6528"/><stop offset="0.22" stop-color="#68166e"/><stop offset="0.29" stop-color="#ec6727"/><stop offset="0.38" stop-color="#f68410"/><stop offset="0.52" stop-color="#fb9b0a"/><stop offset="0.70" stop-color="#f8ca33"/><stop offset="0.84" stop-color="#f5dc4f"/><stop offset="0.93" stop-color="#f7d13e"/><stop offset="1.00" stop-color="#f9c32a"/></linearGradient>
<linearGradient id="df18" gradientUnits="userSpaceOnUse" x1="1334" y1="0" x2="1770" y2="0"><stop offset="0.00" stop-color="#f58113"/><stop offset="0.13" stop-color="#eb6528"/><stop offset="0.22" stop-color="#69166e"/><stop offset="0.29" stop-color="#eb6628"/><stop offset="0.38" stop-color="#f68411"/><stop offset="0.52" stop-color="#fb9b0a"/><stop offset="0.70" stop-color="#f8ca34"/><stop offset="0.84" stop-color="#f5dc4f"/><stop offset="0.93" stop-color="#f7d13e"/><stop offset="1.00" stop-color="#f9c329"/></linearGradient>
<linearGradient id="df19" gradientUnits="userSpaceOnUse" x1="1334" y1="0" x2="1770" y2="0"><stop offset="0.00" stop-color="#f58113"/><stop offset="0.13" stop-color="#eb6528"/><stop offset="0.22" stop-color="#6b176e"/><stop offset="0.29" stop-color="#eb6529"/><stop offset="0.38" stop-color="#f68311"/><stop offset="0.52" stop-color="#fb9a0a"/><stop offset="0.70" stop-color="#f8ca33"/><stop offset="0.84" stop-color="#f5dc4f"/><stop offset="0.93" stop-color="#f7d13d"/><stop offset="1.00" stop-color="#f9c229"/></linearGradient>
<linearGradient id="df20" gradientUnits="userSpaceOnUse" x1="1334" y1="0" x2="1770" y2="0"><stop offset="0.00" stop-color="#f58113"/><stop offset="0.13" stop-color="#eb6528"/><stop offset="0.22" stop-color="#6d186e"/><stop offset="0.29" stop-color="#ea6429"/><stop offset="0.38" stop-color="#f68212"/><stop offset="0.52" stop-color="#fb9a0a"/><stop offset="0.70" stop-color="#f8c933"/><stop offset="0.84" stop-color="#f5dc4f"/><stop offset="0.93" stop-color="#f7d03c"/><stop offset="1.00" stop-color="#f9c128"/></linearGradient>
<linearGradient id="df21" gradientUnits="userSpaceOnUse" x1="1334" y1="0" x2="1770" y2="0"><stop offset="0.00" stop-color="#f58113"/><stop offset="0.13" stop-color="#eb6528"/><stop offset="0.22" stop-color="#711a6d"/><stop offset="0.29" stop-color="#ea632a"/><stop offset="0.38" stop-color="#f68212"/><stop offset="0.52" stop-color="#fa9909"/><stop offset="0.70" stop-color="#f8c932"/><stop offset="0.84" stop-color="#f5db4d"/><stop offset="0.93" stop-color="#f7cf3a"/><stop offset="1.00" stop-color="#fac026"/></linearGradient>
<linearGradient id="df22" gradientUnits="userSpaceOnUse" x1="1334" y1="0" x2="1770" y2="0"><stop offset="0.00" stop-color="#f58113"/><stop offset="0.13" stop-color="#eb6528"/><stop offset="0.22" stop-color="#741b6d"/><stop offset="0.29" stop-color="#ea622b"/><stop offset="0.38" stop-color="#f58113"/><stop offset="0.52" stop-color="#fa9809"/><stop offset="0.70" stop-color="#f8c831"/><stop offset="0.84" stop-color="#f6d94a"/><stop offset="0.93" stop-color="#f8cd38"/><stop offset="1.00" stop-color="#fabf24"/></linearGradient>
<linearGradient id="df23" gradientUnits="userSpaceOnUse" x1="1334" y1="0" x2="1770" y2="0"><stop offset="0.00" stop-color="#f58113"/><stop offset="0.13" stop-color="#eb6528"/><stop offset="0.22" stop-color="#781d6d"/><stop offset="0.29" stop-color="#e9612c"/><stop offset="0.38" stop-color="#f58013"/><stop offset="0.52" stop-color="#fa9809"/><stop offset="0.70" stop-color="#f9c62f"/><stop offset="0.84" stop-color="#f6d847"/><stop offset="0.93" stop-color="#f8cb36"/><stop offset="1.00" stop-color="#fabe23"/></linearGradient>
<linearGradient id="df24" gradientUnits="userSpaceOnUse" x1="1334" y1="0" x2="1770" y2="0"><stop offset="0.00" stop-color="#f58113"/><stop offset="0.13" stop-color="#eb6528"/><stop offset="0.22" stop-color="#7c1e6c"/><stop offset="0.29" stop-color="#e8602d"/><stop offset="0.38" stop-color="#f57f14"/><stop offset="0.52" stop-color="#fa9709"/><stop offset="0.70" stop-color="#f9c52d"/><stop offset="0.84" stop-color="#f6d644"/><stop offset="0.93" stop-color="#f8c933"/><stop offset="1.00" stop-color="#fabc21"/></linearGradient>
<linearGradient id="df25" gradientUnits="userSpaceOnUse" x1="1334" y1="0" x2="1770" y2="0"><stop offset="0.00" stop-color="#f58113"/><stop offset="0.13" stop-color="#eb6528"/><stop offset="0.22" stop-color="#80206c"/><stop offset="0.29" stop-color="#e75f2e"/><stop offset="0.38" stop-color="#f57e14"/><stop offset="0.52" stop-color="#fa9609"/><stop offset="0.70" stop-color="#f9c32b"/><stop offset="0.84" stop-color="#f7d341"/><stop offset="0.93" stop-color="#f9c730"/><stop offset="1.00" stop-color="#faba1f"/></linearGradient>
<linearGradient id="df26" gradientUnits="userSpaceOnUse" x1="1334" y1="0" x2="1770" y2="0"><stop offset="0.00" stop-color="#f58113"/><stop offset="0.13" stop-color="#eb6528"/><stop offset="0.22" stop-color="#84216b"/><stop offset="0.29" stop-color="#e65e2f"/><stop offset="0.38" stop-color="#f57e15"/><stop offset="0.52" stop-color="#fa9609"/><stop offset="0.70" stop-color="#f9c128"/><stop offset="0.84" stop-color="#f7d03c"/><stop offset="0.93" stop-color="#f9c42c"/><stop offset="1.00" stop-color="#fab81d"/></linearGradient>
<linearGradient id="df27" gradientUnits="userSpaceOnUse" x1="1334" y1="0" x2="1770" y2="0"><stop offset="0.00" stop-color="#f58113"/><stop offset="0.13" stop-color="#eb6528"/><stop offset="0.22" stop-color="#88226a"/><stop offset="0.29" stop-color="#e55c30"/><stop offset="0.38" stop-color="#f47d16"/><stop offset="0.52" stop-color="#fa9509"/><stop offset="0.70" stop-color="#fabf24"/><stop offset="0.84" stop-color="#f8cd38"/><stop offset="0.93" stop-color="#f9c228"/><stop offset="1.00" stop-color="#fbb61b"/></linearGradient>
<linearGradient id="df28" gradientUnits="userSpaceOnUse" x1="1334" y1="0" x2="1770" y2="0"><stop offset="0.00" stop-color="#f58113"/><stop offset="0.13" stop-color="#eb6528"/><stop offset="0.22" stop-color="#8c2469"/><stop offset="0.29" stop-color="#e45b31"/><stop offset="0.38" stop-color="#f47c16"/><stop offset="0.52" stop-color="#fa9409"/><stop offset="0.70" stop-color="#fabd22"/><stop offset="0.84" stop-color="#f8ca33"/><stop offset="0.93" stop-color="#fabf24"/><stop offset="1.00" stop-color="#fbb419"/></linearGradient>
<linearGradient id="df29" gradientUnits="userSpaceOnUse" x1="1334" y1="0" x2="1770" y2="0"><stop offset="0.00" stop-color="#f58113"/><stop offset="0.13" stop-color="#eb6528"/><stop offset="0.22" stop-color="#902568"/><stop offset="0.29" stop-color="#e35a32"/><stop offset="0.38" stop-color="#f47b17"/><stop offset="0.52" stop-color="#fa9409"/><stop offset="0.70" stop-color="#faba1f"/><stop offset="0.84" stop-color="#f9c62e"/><stop offset="0.93" stop-color="#fabc21"/><stop offset="1.00" stop-color="#fbb116"/></linearGradient>
<linearGradient id="df30" gradientUnits="userSpaceOnUse" x1="1334" y1="0" x2="1770" y2="0"><stop offset="0.00" stop-color="#f58113"/><stop offset="0.13" stop-color="#eb6528"/><stop offset="0.22" stop-color="#942667"/><stop offset="0.29" stop-color="#e25833"/><stop offset="0.38" stop-color="#f47a18"/><stop offset="0.52" stop-color="#fa9209"/><stop offset="0.70" stop-color="#fab81d"/><stop offset="0.84" stop-color="#f9c32a"/><stop offset="0.93" stop-color="#fab91e"/><stop offset="1.00" stop-color="#fbaf14"/></linearGradient>
<linearGradient id="df31" gradientUnits="userSpaceOnUse" x1="1334" y1="0" x2="1770" y2="0"><stop offset="0.00" stop-color="#f58113"/><stop offset="0.13" stop-color="#eb6528"/><stop offset="0.22" stop-color="#972766"/><stop offset="0.29" stop-color="#e25734"/><stop offset="0.38" stop-color="#f37918"/><stop offset="0.52" stop-color="#f99209"/><stop offset="0.70" stop-color="#fbb61b"/><stop offset="0.84" stop-color="#fabf25"/><stop offset="0.93" stop-color="#fbb61b"/><stop offset="1.00" stop-color="#fbad12"/></linearGradient>
<linearGradient id="df32" gradientUnits="userSpaceOnUse" x1="1334" y1="0" x2="1770" y2="0"><stop offset="0.00" stop-color="#f58113"/><stop offset="0.13" stop-color="#eb6528"/><stop offset="0.22" stop-color="#9a2964"/><stop offset="0.29" stop-color="#e05536"/><stop offset="0.38" stop-color="#f37819"/><stop offset="0.52" stop-color="#f99109"/><stop offset="0.70" stop-color="#fbb318"/><stop offset="0.84" stop-color="#fabc21"/><stop offset="0.93" stop-color="#fbb318"/><stop offset="1.00" stop-color="#fcab10"/></linearGradient>
<linearGradient id="df33" gradientUnits="userSpaceOnUse" x1="1334" y1="0" x2="1770" y2="0"><stop offset="0.00" stop-color="#f58113"/><stop offset="0.13" stop-color="#eb6528"/><stop offset="0.22" stop-color="#9e2a63"/><stop offset="0.29" stop-color="#df5338"/><stop offset="0.38" stop-color="#f3771a"/><stop offset="0.52" stop-color="#f99009"/><stop offset="0.70" stop-color="#fbb116"/><stop offset="0.84" stop-color="#fab91e"/><stop offset="0.93" stop-color="#fbb015"/><stop offset="1.00" stop-color="#fca90e"/></linearGradient>
<linearGradient id="df34" gradientUnits="userSpaceOnUse" x1="1334" y1="0" x2="1770" y2="0"><stop offset="0.00" stop-color="#f58113"/><stop offset="0.13" stop-color="#eb6528"/><stop offset="0.22" stop-color="#a02b62"/><stop offset="0.29" stop-color="#dd513a"/><stop offset="0.38" stop-color="#f2761a"/><stop offset="0.52" stop-color="#f98f09"/><stop offset="0.70" stop-color="#fbae13"/><stop offset="0.84" stop-color="#fbb61b"/><stop offset="0.93" stop-color="#fbae13"/><stop offset="1.00" stop-color="#fca70c"/></linearGradient>
<linearGradient id="df35" gradientUnits="userSpaceOnUse" x1="1334" y1="0" x2="1770" y2="0"><stop offset="0.00" stop-color="#f58113"/><stop offset="0.13" stop-color="#eb6528"/><stop offset="0.22" stop-color="#9f2b62"/><stop offset="0.29" stop-color="#dc503b"/><stop offset="0.38" stop-color="#f2751b"/><stop offset="0.52" stop-color="#f98e09"/><stop offset="0.70" stop-color="#fbac11"/><stop offset="0.84" stop-color="#fbb217"/><stop offset="0.93" stop-color="#fbab10"/><stop offset="1.00" stop-color="#fca50a"/></linearGradient>
<linearGradient id="df36" gradientUnits="userSpaceOnUse" x1="1334" y1="0" x2="1770" y2="0"><stop offset="0.00" stop-color="#f58113"/><stop offset="0.13" stop-color="#eb6528"/><stop offset="0.22" stop-color="#9f2b62"/><stop offset="0.29" stop-color="#da4e3d"/><stop offset="0.38" stop-color="#f1741c"/><stop offset="0.52" stop-color="#f98d0a"/><stop offset="0.70" stop-color="#fca90e"/><stop offset="0.84" stop-color="#fbaf14"/><stop offset="0.93" stop-color="#fca90e"/><stop offset="1.00" stop-color="#fca40a"/></linearGradient>
<linearGradient id="df37" gradientUnits="userSpaceOnUse" x1="1334" y1="0" x2="1770" y2="0"><stop offset="0.00" stop-color="#f58113"/><stop offset="0.13" stop-color="#eb6528"/><stop offset="0.22" stop-color="#9f2b62"/><stop offset="0.29" stop-color="#d94d3e"/><stop offset="0.38" stop-color="#f1731d"/><stop offset="0.52" stop-color="#f88c0b"/><stop offset="0.70" stop-color="#fca70c"/><stop offset="0.84" stop-color="#fbac11"/><stop offset="0.93" stop-color="#fca70c"/><stop offset="1.00" stop-color="#fca20a"/></linearGradient>
<linearGradient id="df38" gradientUnits="userSpaceOnUse" x1="1334" y1="0" x2="1770" y2="0"><stop offset="0.00" stop-color="#f58113"/><stop offset="0.13" stop-color="#eb6528"/><stop offset="0.22" stop-color="#9f2b62"/><stop offset="0.29" stop-color="#d74b40"/><stop offset="0.38" stop-color="#f1731d"/><stop offset="0.52" stop-color="#f88b0b"/><stop offset="0.70" stop-color="#fca50a"/><stop offset="0.84" stop-color="#fcaa0f"/><stop offset="0.93" stop-color="#fca40a"/><stop offset="1.00" stop-color="#fba00a"/></linearGradient>
<linearGradient id="df39" gradientUnits="userSpaceOnUse" x1="1334" y1="0" x2="1770" y2="0"><stop offset="0.00" stop-color="#f58113"/><stop offset="0.13" stop-color="#eb6528"/><stop offset="0.22" stop-color="#a02b62"/><stop offset="0.29" stop-color="#d64a41"/><stop offset="0.38" stop-color="#f0721e"/><stop offset="0.52" stop-color="#f88a0c"/><stop offset="0.70" stop-color="#fca20a"/><stop offset="0.84" stop-color="#fca70c"/><stop offset="0.93" stop-color="#fca30a"/><stop offset="1.00" stop-color="#fb9f0a"/></linearGradient>
<linearGradient id="df40" gradientUnits="userSpaceOnUse" x1="1334" y1="0" x2="1770" y2="0"><stop offset="0.00" stop-color="#f58113"/><stop offset="0.13" stop-color="#eb6528"/><stop offset="0.22" stop-color="#a02b62"/><stop offset="0.29" stop-color="#d44842"/><stop offset="0.38" stop-color="#f0711f"/><stop offset="0.52" stop-color="#f8890d"/><stop offset="0.70" stop-color="#fba00a"/><stop offset="0.84" stop-color="#fca40a"/><stop offset="0.93" stop-color="#fba10a"/><stop offset="1.00" stop-color="#fb9e0a"/></linearGradient>
<linearGradient id="df41" gradientUnits="userSpaceOnUse" x1="1334" y1="0" x2="1770" y2="0"><stop offset="0.00" stop-color="#f58113"/><stop offset="0.13" stop-color="#eb6528"/><stop offset="0.22" stop-color="#a02b62"/><stop offset="0.29" stop-color="#d34744"/><stop offset="0.38" stop-color="#ef6f20"/><stop offset="0.52" stop-color="#f7880e"/><stop offset="0.70" stop-color="#fb9e0a"/><stop offset="0.84" stop-color="#fca20a"/><stop offset="0.93" stop-color="#fb9f0a"/><stop offset="1.00" stop-color="#fb9c0a"/></linearGradient>
<linearGradient id="df42" gradientUnits="userSpaceOnUse" x1="1334" y1="0" x2="1770" y2="0"><stop offset="0.00" stop-color="#f58113"/><stop offset="0.13" stop-color="#eb6528"/><stop offset="0.22" stop-color="#a12b62"/><stop offset="0.29" stop-color="#d14545"/><stop offset="0.38" stop-color="#ef6e21"/><stop offset="0.52" stop-color="#f7870e"/><stop offset="0.70" stop-color="#fb9c0a"/><stop offset="0.84" stop-color="#fba00a"/><stop offset="0.93" stop-color="#fb9d0a"/><stop offset="1.00" stop-color="#fb9b0a"/></linearGradient>
<linearGradient id="df43" gradientUnits="userSpaceOnUse" x1="1334" y1="0" x2="1770" y2="0"><stop offset="0.00" stop-color="#f58113"/><stop offset="0.13" stop-color="#eb6528"/><stop offset="0.22" stop-color="#a22c61"/><stop offset="0.29" stop-color="#ce4248"/><stop offset="0.38" stop-color="#ee6d22"/><stop offset="0.52" stop-color="#f7860f"/><stop offset="0.70" stop-color="#fb9a0a"/><stop offset="0.84" stop-color="#fb9e0a"/><stop offset="0.93" stop-color="#fb9c0a"/><stop offset="1.00" stop-color="#fa9909"/></linearGradient>
<linearGradient id="df44" gradientUnits="userSpaceOnUse" x1="1334" y1="0" x2="1770" y2="0"><stop offset="0.00" stop-color="#f58113"/><stop offset="0.13" stop-color="#eb6528"/><stop offset="0.22" stop-color="#a22c61"/><stop offset="0.29" stop-color="#cb404a"/><stop offset="0.38" stop-color="#ee6d22"/><stop offset="0.52" stop-color="#f68510"/><stop offset="0.70" stop-color="#fa9809"/><stop offset="0.84" stop-color="#fb9c0a"/><stop offset="0.93" stop-color="#fb9a0a"/><stop offset="1.00" stop-color="#fa9809"/></linearGradient>
<linearGradient id="df45" gradientUnits="userSpaceOnUse" x1="1334" y1="0" x2="1770" y2="0"><stop offset="0.00" stop-color="#f58113"/><stop offset="0.13" stop-color="#eb6528"/><stop offset="0.22" stop-color="#a32c61"/><stop offset="0.29" stop-color="#c83e4c"/><stop offset="0.38" stop-color="#ed6b24"/><stop offset="0.52" stop-color="#f68410"/><stop offset="0.70" stop-color="#fa9609"/><stop offset="0.84" stop-color="#fb9a0a"/><stop offset="0.93" stop-color="#fa9809"/><stop offset="1.00" stop-color="#fa9709"/></linearGradient>
<linearGradient id="df46" gradientUnits="userSpaceOnUse" x1="1334" y1="0" x2="1770" y2="0"><stop offset="0.00" stop-color="#f58113"/><stop offset="0.13" stop-color="#eb6528"/><stop offset="0.22" stop-color="#a42c61"/><stop offset="0.29" stop-color="#c53d4e"/><stop offset="0.38" stop-color="#ed6925"/><stop offset="0.52" stop-color="#f68311"/><stop offset="0.70" stop-color="#fa9509"/><stop offset="0.84" stop-color="#fa9809"/><stop offset="0.93" stop-color="#fa9709"/><stop offset="1.00" stop-color="#fa9609"/></linearGradient>
<linearGradient id="df47" gradientUnits="userSpaceOnUse" x1="1334" y1="0" x2="1770" y2="0"><stop offset="0.00" stop-color="#f58113"/><stop offset="0.13" stop-color="#eb6528"/><stop offset="0.22" stop-color="#a52d60"/><stop offset="0.29" stop-color="#c23b50"/><stop offset="0.38" stop-color="#ec6826"/><stop offset="0.52" stop-color="#f68212"/><stop offset="0.70" stop-color="#fa9309"/><stop offset="0.84" stop-color="#fa9709"/><stop offset="0.93" stop-color="#fa9509"/><stop offset="1.00" stop-color="#fa9409"/></linearGradient>
<linearGradient id="df48" gradientUnits="userSpaceOnUse" x1="1334" y1="0" x2="1770" y2="0"><stop offset="0.00" stop-color="#f58113"/><stop offset="0.13" stop-color="#eb6528"/><stop offset="0.22" stop-color="#a62d60"/><stop offset="0.29" stop-color="#c03952"/><stop offset="0.38" stop-color="#eb6627"/><stop offset="0.52" stop-color="#f58113"/><stop offset="0.70" stop-color="#f99109"/><stop offset="0.84" stop-color="#fa9509"/><stop offset="0.93" stop-color="#fa9409"/><stop offset="1.00" stop-color="#fa9309"/></linearGradient>
<linearGradient id="df49" gradientUnits="userSpaceOnUse" x1="1334" y1="0" x2="1770" y2="0"><stop offset="0.00" stop-color="#f58113"/><stop offset="0.13" stop-color="#eb6528"/><stop offset="0.22" stop-color="#a72d60"/><stop offset="0.29" stop-color="#bd3853"/><stop offset="0.38" stop-color="#eb6528"/><stop offset="0.52" stop-color="#f58013"/><stop offset="0.70" stop-color="#f99009"/><stop offset="0.84" stop-color="#fa9309"/><stop offset="0.93" stop-color="#fa9309"/><stop offset="1.00" stop-color="#fa9209"/></linearGradient>
<linearGradient id="df50" gradientUnits="userSpaceOnUse" x1="1334" y1="0" x2="1770" y2="0"><stop offset="0.00" stop-color="#f58113"/><stop offset="0.13" stop-color="#eb6528"/><stop offset="0.22" stop-color="#a72e5f"/><stop offset="0.29" stop-color="#ba3655"/><stop offset="0.38" stop-color="#ea632a"/><stop offset="0.52" stop-color="#f57f14"/><stop offset="0.70" stop-color="#f98e09"/><stop offset="0.84" stop-color="#f99209"/><stop offset="0.93" stop-color="#f99109"/><stop offset="1.00" stop-color="#f99109"/></linearGradient>
<linearGradient id="df51" gradientUnits="userSpaceOnUse" x1="1334" y1="0" x2="1770" y2="0"><stop offset="0.00" stop-color="#f58113"/><stop offset="0.13" stop-color="#eb6528"/><stop offset="0.22" stop-color="#a82e5f"/><stop offset="0.29" stop-color="#b83556"/><stop offset="0.38" stop-color="#ea632a"/><stop offset="0.52" stop-color="#f57e15"/><stop offset="0.70" stop-color="#f98c0a"/><stop offset="0.84" stop-color="#f99009"/><stop offset="0.93" stop-color="#f99009"/><stop offset="1.00" stop-color="#f98f09"/></linearGradient>
<linearGradient id="df52" gradientUnits="userSpaceOnUse" x1="1334" y1="0" x2="1770" y2="0"><stop offset="0.00" stop-color="#f58113"/><stop offset="0.13" stop-color="#eb6528"/><stop offset="0.22" stop-color="#aa2f5e"/><stop offset="0.29" stop-color="#b63457"/><stop offset="0.38" stop-color="#e8612c"/><stop offset="0.52" stop-color="#f47d16"/><stop offset="0.70" stop-color="#f88b0b"/><stop offset="0.84" stop-color="#f98e09"/><stop offset="0.93" stop-color="#f98e09"/><stop offset="1.00" stop-color="#f98e09"/></linearGradient>
<linearGradient id="df53" gradientUnits="userSpaceOnUse" x1="1334" y1="0" x2="1770" y2="0"><stop offset="0.00" stop-color="#f58113"/><stop offset="0.13" stop-color="#eb6528"/><stop offset="0.22" stop-color="#ab2f5e"/><stop offset="0.29" stop-color="#b0325a"/><stop offset="0.38" stop-color="#e75e2e"/><stop offset="0.52" stop-color="#f47c16"/><stop offset="0.70" stop-color="#f8890c"/><stop offset="0.84" stop-color="#f98d0a"/><stop offset="0.93" stop-color="#f98d0a"/><stop offset="1.00" stop-color="#f98d0a"/></linearGradient>
<linearGradient id="df54" gradientUnits="userSpaceOnUse" x1="1334" y1="0" x2="1770" y2="0"><stop offset="0.00" stop-color="#f58113"/><stop offset="0.13" stop-color="#eb6528"/><stop offset="0.22" stop-color="#ac305d"/><stop offset="0.29" stop-color="#ab2f5d"/><stop offset="0.38" stop-color="#e55d30"/><stop offset="0.52" stop-color="#f47a17"/><stop offset="0.70" stop-color="#f7880d"/><stop offset="0.84" stop-color="#f88b0b"/><stop offset="0.93" stop-color="#f88c0b"/><stop offset="1.00" stop-color="#f88c0b"/></linearGradient>
<linearGradient id="df55" gradientUnits="userSpaceOnUse" x1="1334" y1="0" x2="1770" y2="0"><stop offset="0.00" stop-color="#f58113"/><stop offset="0.13" stop-color="#eb6528"/><stop offset="0.22" stop-color="#ac305d"/><stop offset="0.29" stop-color="#a62d60"/><stop offset="0.38" stop-color="#e45b31"/><stop offset="0.52" stop-color="#f37918"/><stop offset="0.70" stop-color="#f7870e"/><stop offset="0.84" stop-color="#f88a0c"/><stop offset="0.93" stop-color="#f88b0b"/><stop offset="1.00" stop-color="#f88b0c"/></linearGradient>
<linearGradient id="df56" gradientUnits="userSpaceOnUse" x1="1334" y1="0" x2="1770" y2="0"><stop offset="0.00" stop-color="#f58113"/><stop offset="0.13" stop-color="#eb6528"/><stop offset="0.22" stop-color="#ad305c"/><stop offset="0.29" stop-color="#a02b62"/><stop offset="0.38" stop-color="#e35933"/><stop offset="0.52" stop-color="#f37919"/><stop offset="0.70" stop-color="#f7850f"/><stop offset="0.84" stop-color="#f8890d"/><stop offset="0.93" stop-color="#f88a0c"/><stop offset="1.00" stop-color="#f8890c"/></linearGradient>
<linearGradient id="df57" gradientUnits="userSpaceOnUse" x1="1334" y1="0" x2="1770" y2="0"><stop offset="0.00" stop-color="#f58113"/><stop offset="0.13" stop-color="#eb6528"/><stop offset="0.22" stop-color="#ae315c"/><stop offset="0.29" stop-color="#9b2964"/><stop offset="0.38" stop-color="#e25834"/><stop offset="0.52" stop-color="#f37819"/><stop offset="0.70" stop-color="#f68410"/><stop offset="0.84" stop-color="#f7880d"/><stop offset="0.93" stop-color="#f8890d"/><stop offset="1.00" stop-color="#f7880d"/></linearGradient>
<linearGradient id="df58" gradientUnits="userSpaceOnUse" x1="1334" y1="0" x2="1770" y2="0"><stop offset="0.00" stop-color="#f58113"/><stop offset="0.13" stop-color="#eb6528"/><stop offset="0.22" stop-color="#af315b"/><stop offset="0.29" stop-color="#962766"/><stop offset="0.38" stop-color="#e15635"/><stop offset="0.52" stop-color="#f2771a"/><stop offset="0.70" stop-color="#f68311"/><stop offset="0.84" stop-color="#f7870e"/><stop offset="0.93" stop-color="#f7870e"/><stop offset="1.00" stop-color="#f7870e"/></linearGradient>
<linearGradient id="df59" gradientUnits="userSpaceOnUse" x1="1334" y1="0" x2="1770" y2="0"><stop offset="0.00" stop-color="#f58113"/><stop offset="0.13" stop-color="#eb6528"/><stop offset="0.22" stop-color="#b0325b"/><stop offset="0.29" stop-color="#912567"/><stop offset="0.38" stop-color="#e05536"/><stop offset="0.52" stop-color="#f2761b"/><stop offset="0.70" stop-color="#f68212"/><stop offset="0.84" stop-color="#f7850f"/><stop offset="0.93" stop-color="#f7860f"/><stop offset="1.00" stop-color="#f7860f"/></linearGradient>
<linearGradient id="df60" gradientUnits="userSpaceOnUse" x1="1334" y1="0" x2="1770" y2="0"><stop offset="0.00" stop-color="#f58113"/><stop offset="0.13" stop-color="#eb6528"/><stop offset="0.22" stop-color="#b1325a"/><stop offset="0.29" stop-color="#8c2469"/><stop offset="0.38" stop-color="#df5437"/><stop offset="0.52" stop-color="#f2751c"/><stop offset="0.70" stop-color="#f58013"/><stop offset="0.84" stop-color="#f68410"/><stop offset="0.93" stop-color="#f78510"/><stop offset="1.00" stop-color="#f78510"/></linearGradient>
<linearGradient id="df61" gradientUnits="userSpaceOnUse" x1="1334" y1="0" x2="1770" y2="0"><stop offset="0.00" stop-color="#f58113"/><stop offset="0.13" stop-color="#eb6528"/><stop offset="0.22" stop-color="#b2325a"/><stop offset="0.29" stop-color="#892369"/><stop offset="0.38" stop-color="#df5338"/><stop offset="0.52" stop-color="#f1741c"/><stop offset="0.70" stop-color="#f57f14"/><stop offset="0.84" stop-color="#f68311"/><stop offset="0.93" stop-color="#f68410"/><stop offset="1.00" stop-color="#f68410"/></linearGradient>
<linearGradient id="df62" gradientUnits="userSpaceOnUse" x1="1334" y1="0" x2="1770" y2="0"><stop offset="0.00" stop-color="#f58113"/><stop offset="0.13" stop-color="#eb6528"/><stop offset="0.22" stop-color="#b33359"/><stop offset="0.29" stop-color="#86226a"/><stop offset="0.38" stop-color="#e05536"/><stop offset="0.52" stop-color="#f1731d"/><stop offset="0.70" stop-color="#f57e15"/><stop offset="0.84" stop-color="#f68212"/><stop offset="0.93" stop-color="#f68211"/><stop offset="1.00" stop-color="#f68311"/></linearGradient>
<linearGradient id="df63" gradientUnits="userSpaceOnUse" x1="1334" y1="0" x2="1770" y2="0"><stop offset="0.00" stop-color="#f58113"/><stop offset="0.13" stop-color="#eb6528"/><stop offset="0.22" stop-color="#b43359"/><stop offset="0.29" stop-color="#84216a"/><stop offset="0.38" stop-color="#de5239"/><stop offset="0.52" stop-color="#f0721e"/><stop offset="0.70" stop-color="#f47d16"/><stop offset="0.84" stop-color="#f58013"/><stop offset="0.93" stop-color="#f68112"/><stop offset="1.00" stop-color="#f68112"/></linearGradient>
<linearGradient id="df64" gradientUnits="userSpaceOnUse" x1="1334" y1="0" x2="1770" y2="0"><stop offset="0.00" stop-color="#f58113"/><stop offset="0.13" stop-color="#eb6528"/><stop offset="0.22" stop-color="#b43458"/><stop offset="0.29" stop-color="#84216b"/><stop offset="0.38" stop-color="#dc503b"/><stop offset="0.52" stop-color="#f0711f"/><stop offset="0.70" stop-color="#f47c16"/><stop offset="0.84" stop-color="#f57f14"/><stop offset="0.93" stop-color="#f58013"/><stop offset="1.00" stop-color="#f58013"/></linearGradient>
<linearGradient id="df65" gradientUnits="userSpaceOnUse" x1="1334" y1="0" x2="1770" y2="0"><stop offset="0.00" stop-color="#f58113"/><stop offset="0.13" stop-color="#eb6528"/><stop offset="0.22" stop-color="#b53458"/><stop offset="0.29" stop-color="#85216a"/><stop offset="0.38" stop-color="#d94d3e"/><stop offset="0.52" stop-color="#f0701f"/><stop offset="0.70" stop-color="#f47b17"/><stop offset="0.84" stop-color="#f57e15"/><stop offset="0.93" stop-color="#f57f14"/><stop offset="1.00" stop-color="#f57f14"/></linearGradient>
<linearGradient id="df66" gradientUnits="userSpaceOnUse" x1="1334" y1="0" x2="1770" y2="0"><stop offset="0.00" stop-color="#f58113"/><stop offset="0.13" stop-color="#eb6528"/><stop offset="0.22" stop-color="#b63457"/><stop offset="0.29" stop-color="#83216b"/><stop offset="0.38" stop-color="#d64a40"/><stop offset="0.52" stop-color="#ef6f20"/><stop offset="0.70" stop-color="#f37918"/><stop offset="0.84" stop-color="#f47d15"/><stop offset="0.93" stop-color="#f57e15"/><stop offset="1.00" stop-color="#f57e15"/></linearGradient>
<linearGradient id="df67" gradientUnits="userSpaceOnUse" x1="1334" y1="0" x2="1770" y2="0"><stop offset="0.00" stop-color="#f58113"/><stop offset="0.13" stop-color="#eb6528"/><stop offset="0.22" stop-color="#b73557"/><stop offset="0.29" stop-color="#7c1e6c"/><stop offset="0.38" stop-color="#d44842"/><stop offset="0.52" stop-color="#ef6e21"/><stop offset="0.70" stop-color="#f37819"/><stop offset="0.84" stop-color="#f47c16"/><stop offset="0.93" stop-color="#f47d15"/><stop offset="1.00" stop-color="#f47d15"/></linearGradient>
<linearGradient id="df68" gradientUnits="userSpaceOnUse" x1="1334" y1="0" x2="1770" y2="0"><stop offset="0.00" stop-color="#f58113"/><stop offset="0.13" stop-color="#eb6528"/><stop offset="0.22" stop-color="#b73557"/><stop offset="0.29" stop-color="#751b6d"/><stop offset="0.38" stop-color="#d24644"/><stop offset="0.52" stop-color="#ee6d22"/><stop offset="0.70" stop-color="#f3771a"/><stop offset="0.84" stop-color="#f47b17"/><stop offset="0.93" stop-color="#f47c16"/><stop offset="1.00" stop-color="#f47c16"/></linearGradient>
<linearGradient id="df69" gradientUnits="userSpaceOnUse" x1="1334" y1="0" x2="1770" y2="0"><stop offset="0.00" stop-color="#f58113"/><stop offset="0.13" stop-color="#eb6528"/><stop offset="0.22" stop-color="#b83556"/><stop offset="0.29" stop-color="#6d186e"/><stop offset="0.38" stop-color="#d04446"/><stop offset="0.52" stop-color="#ee6c23"/><stop offset="0.70" stop-color="#f2761a"/><stop offset="0.84" stop-color="#f37a18"/><stop offset="0.93" stop-color="#f47b17"/><stop offset="1.00" stop-color="#f47b17"/></linearGradient>
<linearGradient id="df70" gradientUnits="userSpaceOnUse" x1="1334" y1="0" x2="1770" y2="0"><stop offset="0.00" stop-color="#f58113"/><stop offset="0.13" stop-color="#eb6528"/><stop offset="0.22" stop-color="#b93656"/><stop offset="0.29" stop-color="#65156e"/><stop offset="0.38" stop-color="#ce4248"/><stop offset="0.52" stop-color="#ed6b23"/><stop offset="0.70" stop-color="#f2751b"/><stop offset="0.84" stop-color="#f37919"/><stop offset="0.93" stop-color="#f37a18"/><stop offset="1.00" stop-color="#f37a18"/></linearGradient>
<linearGradient id="df71" gradientUnits="userSpaceOnUse" x1="1334" y1="0" x2="1770" y2="0"><stop offset="0.00" stop-color="#f58113"/><stop offset="0.13" stop-color="#eb6528"/><stop offset="0.22" stop-color="#b93655"/><stop offset="0.29" stop-color="#5e126e"/><stop offset="0.38" stop-color="#cc4149"/><stop offset="0.52" stop-color="#ed6a24"/><stop offset="0.70" stop-color="#f1741c"/><stop offset="0.84" stop-color="#f37819"/><stop offset="0.93" stop-color="#f37919"/><stop offset="1.00" stop-color="#f37919"/></linearGradient>
<linearGradient id="df72" gradientUnits="userSpaceOnUse" x1="1334" y1="0" x2="1770" y2="0"><stop offset="0.00" stop-color="#f58113"/><stop offset="0.13" stop-color="#eb6528"/><stop offset="0.22" stop-color="#ba3655"/><stop offset="0.29" stop-color="#560f6e"/><stop offset="0.38" stop-color="#cc4149"/><stop offset="0.52" stop-color="#ec6925"/><stop offset="0.70" stop-color="#f1731d"/><stop offset="0.84" stop-color="#f2771a"/><stop offset="0.93" stop-color="#f37819"/><stop offset="1.00" stop-color="#f37819"/></linearGradient>
<linearGradient id="df73" gradientUnits="userSpaceOnUse" x1="1334" y1="0" x2="1770" y2="0"><stop offset="0.00" stop-color="#f58113"/><stop offset="0.13" stop-color="#eb6528"/><stop offset="0.22" stop-color="#bb3655"/><stop offset="0.29" stop-color="#4f0d6c"/><stop offset="0.38" stop-color="#c73e4d"/><stop offset="0.52" stop-color="#ec6826"/><stop offset="0.70" stop-color="#f1721e"/><stop offset="0.84" stop-color="#f2761b"/><stop offset="0.93" stop-color="#f2761a"/><stop offset="1.00" stop-color="#f2771a"/></linearGradient>
<linearGradient id="df74" gradientUnits="userSpaceOnUse" x1="1334" y1="0" x2="1770" y2="0"><stop offset="0.00" stop-color="#f58113"/><stop offset="0.13" stop-color="#eb6528"/><stop offset="0.22" stop-color="#bb3754"/><stop offset="0.29" stop-color="#4c0d6b"/><stop offset="0.38" stop-color="#c23a50"/><stop offset="0.52" stop-color="#eb6627"/><stop offset="0.70" stop-color="#f0711f"/><stop offset="0.84" stop-color="#f1741c"/><stop offset="0.93" stop-color="#f2751b"/><stop offset="1.00" stop-color="#f2751b"/></linearGradient>
<linearGradient id="df75" gradientUnits="userSpaceOnUse" x1="1334" y1="0" x2="1770" y2="0"><stop offset="0.00" stop-color="#f58113"/><stop offset="0.13" stop-color="#eb6528"/><stop offset="0.22" stop-color="#bc3754"/><stop offset="0.29" stop-color="#510e6d"/><stop offset="0.38" stop-color="#bc3754"/><stop offset="0.52" stop-color="#eb6529"/><stop offset="0.70" stop-color="#f0701f"/><stop offset="0.84" stop-color="#f1731d"/><stop offset="0.93" stop-color="#f1741c"/><stop offset="1.00" stop-color="#f1741c"/></linearGradient>
<linearGradient id="df76" gradientUnits="userSpaceOnUse" x1="1334" y1="0" x2="1770" y2="0"><stop offset="0.00" stop-color="#f58113"/><stop offset="0.13" stop-color="#eb6528"/><stop offset="0.22" stop-color="#bc3754"/><stop offset="0.29" stop-color="#58106e"/><stop offset="0.38" stop-color="#b73557"/><stop offset="0.52" stop-color="#ea632a"/><stop offset="0.70" stop-color="#ef6f20"/><stop offset="0.84" stop-color="#f1721e"/><stop offset="0.93" stop-color="#f1731d"/><stop offset="1.00" stop-color="#f1731d"/></linearGradient>
<linearGradient id="df77" gradientUnits="userSpaceOnUse" x1="1334" y1="0" x2="1770" y2="0"><stop offset="0.00" stop-color="#f58113"/><stop offset="0.13" stop-color="#eb6528"/><stop offset="0.22" stop-color="#bd3853"/><stop offset="0.29" stop-color="#5f136e"/><stop offset="0.38" stop-color="#b1325a"/><stop offset="0.52" stop-color="#e9612c"/><stop offset="0.70" stop-color="#ef6e21"/><stop offset="0.84" stop-color="#f0711e"/><stop offset="0.93" stop-color="#f1721e"/><stop offset="1.00" stop-color="#f1721e"/></linearGradient>
<linearGradient id="df78" gradientUnits="userSpaceOnUse" x1="1334" y1="0" x2="1770" y2="0"><stop offset="0.00" stop-color="#f58113"/><stop offset="0.13" stop-color="#eb6528"/><stop offset="0.22" stop-color="#bd3853"/><stop offset="0.29" stop-color="#66166e"/><stop offset="0.38" stop-color="#ac305d"/><stop offset="0.52" stop-color="#e75f2d"/><stop offset="0.70" stop-color="#ee6d22"/><stop offset="0.84" stop-color="#f0701f"/><stop offset="0.93" stop-color="#f0711f"/><stop offset="1.00" stop-color="#f0711f"/></linearGradient>
<linearGradient id="df79" gradientUnits="userSpaceOnUse" x1="1334" y1="0" x2="1770" y2="0"><stop offset="0.00" stop-color="#f58113"/><stop offset="0.13" stop-color="#eb6528"/><stop offset="0.22" stop-color="#be3853"/><stop offset="0.29" stop-color="#6d186e"/><stop offset="0.38" stop-color="#a72e5f"/><stop offset="0.52" stop-color="#e65d2f"/><stop offset="0.70" stop-color="#ee6b23"/><stop offset="0.84" stop-color="#ef6f20"/><stop offset="0.93" stop-color="#ef7020"/><stop offset="1.00" stop-color="#f07020"/></linearGradient>
<linearGradient id="df80" gradientUnits="userSpaceOnUse" x1="1334" y1="0" x2="1770" y2="0"><stop offset="0.00" stop-color="#f58113"/><stop offset="0.13" stop-color="#eb6528"/><stop offset="0.22" stop-color="#be3852"/><stop offset="0.29" stop-color="#731a6d"/><stop offset="0.38" stop-color="#a42c61"/><stop offset="0.52" stop-color="#e55c31"/><stop offset="0.70" stop-color="#ed6a24"/><stop offset="0.84" stop-color="#ef6e21"/><stop offset="0.93" stop-color="#ef6f21"/><stop offset="1.00" stop-color="#ef6f21"/></linearGradient>
<linearGradient id="df81" gradientUnits="userSpaceOnUse" x1="1334" y1="0" x2="1770" y2="0"><stop offset="0.00" stop-color="#f58113"/><stop offset="0.13" stop-color="#eb6528"/><stop offset="0.22" stop-color="#bf3952"/><stop offset="0.29" stop-color="#781d6d"/><stop offset="0.38" stop-color="#a12b62"/><stop offset="0.52" stop-color="#e35a32"/><stop offset="0.70" stop-color="#ec6826"/><stop offset="0.84" stop-color="#ee6c23"/><stop offset="0.93" stop-color="#ee6d22"/><stop offset="1.00" stop-color="#ee6d22"/></linearGradient>
<linearGradient id="df82" gradientUnits="userSpaceOnUse" x1="1334" y1="0" x2="1770" y2="0"><stop offset="0.00" stop-color="#f58113"/><stop offset="0.13" stop-color="#eb6528"/><stop offset="0.22" stop-color="#bf3952"/><stop offset="0.29" stop-color="#7e1f6c"/><stop offset="0.38" stop-color="#a02b62"/><stop offset="0.52" stop-color="#e15735"/><stop offset="0.70" stop-color="#ec6727"/><stop offset="0.84" stop-color="#ed6b24"/><stop offset="0.93" stop-color="#ee6c23"/><stop offset="1.00" stop-color="#ee6c23"/></linearGradient>
<linearGradient id="df83" gradientUnits="userSpaceOnUse" x1="1334" y1="0" x2="1770" y2="0"><stop offset="0.00" stop-color="#f58113"/><stop offset="0.13" stop-color="#eb6528"/><stop offset="0.22" stop-color="#c03951"/><stop offset="0.29" stop-color="#83216b"/><stop offset="0.38" stop-color="#a02b62"/><stop offset="0.52" stop-color="#df5338"/><stop offset="0.70" stop-color="#eb6529"/><stop offset="0.84" stop-color="#ed6925"/><stop offset="0.93" stop-color="#ed6a24"/><stop offset="1.00" stop-color="#ed6a24"/></linearGradient>
<linearGradient id="df84" gradientUnits="userSpaceOnUse" x1="1334" y1="0" x2="1770" y2="0"><stop offset="0.00" stop-color="#f58113"/><stop offset="0.13" stop-color="#eb6528"/><stop offset="0.22" stop-color="#c03a51"/><stop offset="0.29" stop-color="#88226a"/><stop offset="0.38" stop-color="#a42d60"/><stop offset="0.52" stop-color="#dc503b"/><stop offset="0.70" stop-color="#ea622a"/><stop offset="0.84" stop-color="#ec6726"/><stop offset="0.93" stop-color="#ec6826"/><stop offset="1.00" stop-color="#ec6925"/></linearGradient>
<linearGradient id="df85" gradientUnits="userSpaceOnUse" x1="1334" y1="0" x2="1770" y2="0"><stop offset="0.00" stop-color="#f58113"/><stop offset="0.13" stop-color="#eb6528"/><stop offset="0.22" stop-color="#c13a51"/><stop offset="0.29" stop-color="#8d2468"/><stop offset="0.38" stop-color="#9a2964"/><stop offset="0.52" stop-color="#d84c3f"/><stop offset="0.70" stop-color="#e8602c"/><stop offset="0.84" stop-color="#eb6528"/><stop offset="0.93" stop-color="#eb6627"/><stop offset="1.00" stop-color="#ec6727"/></linearGradient>
<linearGradient id="df86" gradientUnits="userSpaceOnUse" x1="1334" y1="0" x2="1770" y2="0"><stop offset="0.00" stop-color="#f58113"/><stop offset="0.13" stop-color="#eb6528"/><stop offset="0.22" stop-color="#c13a51"/><stop offset="0.29" stop-color="#902568"/><stop offset="0.38" stop-color="#8f2568"/><stop offset="0.52" stop-color="#d44843"/><stop offset="0.70" stop-color="#e65e2f"/><stop offset="0.84" stop-color="#ea632a"/><stop offset="0.93" stop-color="#eb6429"/><stop offset="1.00" stop-color="#eb6429"/></linearGradient>
<linearGradient id="df87" gradientUnits="userSpaceOnUse" x1="1334" y1="0" x2="1770" y2="0"><stop offset="0.00" stop-color="#f58113"/><stop offset="0.13" stop-color="#eb6528"/><stop offset="0.22" stop-color="#c13a50"/><stop offset="0.29" stop-color="#902568"/><stop offset="0.38" stop-color="#83216b"/><stop offset="0.52" stop-color="#d04446"/><stop offset="0.70" stop-color="#e45b31"/><stop offset="0.84" stop-color="#e8612c"/><stop offset="0.93" stop-color="#e9622b"/><stop offset="1.00" stop-color="#e9622b"/></linearGradient>
<linearGradient id="df88" gradientUnits="userSpaceOnUse" x1="1334" y1="0" x2="1770" y2="0"><stop offset="0.00" stop-color="#f58113"/><stop offset="0.13" stop-color="#eb6528"/><stop offset="0.22" stop-color="#c23b50"/><stop offset="0.29" stop-color="#912568"/><stop offset="0.38" stop-color="#761c6d"/><stop offset="0.52" stop-color="#cb404a"/><stop offset="0.70" stop-color="#e25834"/><stop offset="0.84" stop-color="#e65e2f"/><stop offset="0.93" stop-color="#e75f2d"/><stop offset="1.00" stop-color="#e75f2d"/></linearGradient>
<linearGradient id="df89" gradientUnits="userSpaceOnUse" x1="1334" y1="0" x2="1770" y2="0"><stop offset="0.00" stop-color="#f58113"/><stop offset="0.13" stop-color="#eb6528"/><stop offset="0.22" stop-color="#c23b50"/><stop offset="0.29" stop-color="#912567"/><stop offset="0.38" stop-color="#69166e"/><stop offset="0.52" stop-color="#c73d4d"/><stop offset="0.70" stop-color="#df5437"/><stop offset="0.84" stop-color="#e45a32"/><stop offset="0.93" stop-color="#e55c30"/><stop offset="1.00" stop-color="#e55c30"/></linearGradient>
<linearGradient id="df90" gradientUnits="userSpaceOnUse" x1="1334" y1="0" x2="1770" y2="0"><stop offset="0.00" stop-color="#f58113"/><stop offset="0.13" stop-color="#eb6528"/><stop offset="0.22" stop-color="#c33b50"/><stop offset="0.29" stop-color="#922667"/><stop offset="0.38" stop-color="#5a116e"/><stop offset="0.52" stop-color="#c33b50"/><stop offset="0.70" stop-color="#dc503b"/><stop offset="0.84" stop-color="#e15635"/><stop offset="0.93" stop-color="#e35933"/><stop offset="1.00" stop-color="#e35933"/></linearGradient>
<linearGradient id="df91" gradientUnits="userSpaceOnUse" x1="1334" y1="0" x2="1770" y2="0"><stop offset="0.00" stop-color="#f58113"/><stop offset="0.13" stop-color="#eb6528"/><stop offset="0.22" stop-color="#c33b4f"/><stop offset="0.29" stop-color="#932667"/><stop offset="0.38" stop-color="#4b0c6b"/><stop offset="0.52" stop-color="#bb3754"/><stop offset="0.70" stop-color="#d74b3f"/><stop offset="0.84" stop-color="#de5239"/><stop offset="0.93" stop-color="#e05537"/><stop offset="1.00" stop-color="#e05537"/></linearGradient>
<linearGradient id="df92" gradientUnits="userSpaceOnUse" x1="1334" y1="0" x2="1770" y2="0"><stop offset="0.00" stop-color="#f58113"/><stop offset="0.13" stop-color="#eb6528"/><stop offset="0.22" stop-color="#c33b4f"/><stop offset="0.29" stop-color="#952766"/><stop offset="0.38" stop-color="#480c6a"/><stop offset="0.52" stop-color="#af315b"/><stop offset="0.70" stop-color="#d24644"/><stop offset="0.84" stop-color="#d94d3e"/><stop offset="0.93" stop-color="#dc503b"/><stop offset="1.00" stop-color="#dc503b"/></linearGradient>
<linearGradient id="df93" gradientUnits="userSpaceOnUse" x1="1334" y1="0" x2="1770" y2="0"><stop offset="0.00" stop-color="#f58113"/><stop offset="0.13" stop-color="#eb6528"/><stop offset="0.22" stop-color="#c43c4f"/><stop offset="0.29" stop-color="#972766"/><stop offset="0.38" stop-color="#570f6e"/><stop offset="0.52" stop-color="#a12b62"/><stop offset="0.70" stop-color="#cb404a"/><stop offset="0.84" stop-color="#d44842"/><stop offset="0.93" stop-color="#d84c3f"/><stop offset="1.00" stop-color="#d74b3f"/></linearGradient>
<linearGradient id="df94" gradientUnits="userSpaceOnUse" x1="1334" y1="0" x2="1770" y2="0"><stop offset="0.00" stop-color="#f58113"/><stop offset="0.13" stop-color="#eb6528"/><stop offset="0.22" stop-color="#c43c4f"/><stop offset="0.29" stop-color="#982865"/><stop offset="0.38" stop-color="#64156e"/><stop offset="0.52" stop-color="#902568"/><stop offset="0.70" stop-color="#c13a51"/><stop offset="0.84" stop-color="#ce4248"/><stop offset="0.93" stop-color="#d24644"/><stop offset="1.00" stop-color="#d24645"/></linearGradient>
<linearGradient id="df95" gradientUnits="userSpaceOnUse" x1="1334" y1="0" x2="1770" y2="0"><stop offset="0.00" stop-color="#f58113"/><stop offset="0.13" stop-color="#eb6528"/><stop offset="0.22" stop-color="#c43c4e"/><stop offset="0.29" stop-color="#9a2964"/><stop offset="0.38" stop-color="#721a6d"/><stop offset="0.52" stop-color="#7b1e6c"/><stop offset="0.70" stop-color="#b43458"/><stop offset="0.84" stop-color="#c43c4e"/><stop offset="0.93" stop-color="#c93f4b"/><stop offset="1.00" stop-color="#c93f4b"/></linearGradient>
<linearGradient id="df96" gradientUnits="userSpaceOnUse" x1="1334" y1="0" x2="1770" y2="0"><stop offset="0.00" stop-color="#f58113"/><stop offset="0.13" stop-color="#eb6528"/><stop offset="0.22" stop-color="#c53d4e"/><stop offset="0.29" stop-color="#9e2a63"/><stop offset="0.38" stop-color="#84216b"/><stop offset="0.52" stop-color="#60136e"/><stop offset="0.70" stop-color="#9c2a63"/><stop offset="0.84" stop-color="#b33359"/><stop offset="0.93" stop-color="#b73557"/><stop offset="1.00" stop-color="#b83556"/></linearGradient>
<linearGradient id="df97" gradientUnits="userSpaceOnUse" x1="1334" y1="0" x2="1770" y2="0"><stop offset="0.00" stop-color="#f58113"/><stop offset="0.13" stop-color="#eb6528"/><stop offset="0.22" stop-color="#c53d4e"/><stop offset="0.29" stop-color="#a12b62"/><stop offset="0.38" stop-color="#942667"/><stop offset="0.52" stop-color="#65156e"/><stop offset="0.70" stop-color="#83216b"/><stop offset="0.84" stop-color="#9d2a63"/><stop offset="0.93" stop-color="#9b2964"/><stop offset="1.00" stop-color="#9d2a63"/></linearGradient>
<linearGradient id="df98" gradientUnits="userSpaceOnUse" x1="1334" y1="0" x2="1770" y2="0"><stop offset="0.00" stop-color="#f58113"/><stop offset="0.13" stop-color="#eb6528"/><stop offset="0.22" stop-color="#c53d4e"/><stop offset="0.29" stop-color="#a52d60"/><stop offset="0.38" stop-color="#a42d60"/><stop offset="0.52" stop-color="#83216b"/><stop offset="0.70" stop-color="#781d6d"/><stop offset="0.84" stop-color="#781d6d"/><stop offset="0.93" stop-color="#741b6d"/><stop offset="1.00" stop-color="#781d6d"/></linearGradient>
<linearGradient id="df99" gradientUnits="userSpaceOnUse" x1="1334" y1="0" x2="1770" y2="0"><stop offset="0.00" stop-color="#f58113"/><stop offset="0.13" stop-color="#eb6528"/><stop offset="0.22" stop-color="#c63d4e"/><stop offset="0.29" stop-color="#a92e5f"/><stop offset="0.38" stop-color="#a22c61"/><stop offset="0.52" stop-color="#9a2964"/><stop offset="0.70" stop-color="#751b6d"/><stop offset="0.84" stop-color="#540e6d"/><stop offset="0.93" stop-color="#430a68"/><stop offset="1.00" stop-color="#490c6a"/></linearGradient>
<linearGradient id="gCB" x1="0" y1="1" x2="0" y2="0"><stop offset="0.00" stop-color="#000004"/><stop offset="0.10" stop-color="#160b39"/><stop offset="0.20" stop-color="#420a68"/><stop offset="0.30" stop-color="#6a176e"/><stop offset="0.40" stop-color="#932667"/><stop offset="0.50" stop-color="#bc3754"/><stop offset="0.60" stop-color="#dd513a"/><stop offset="0.70" stop-color="#f37819"/><stop offset="0.80" stop-color="#fca50a"/><stop offset="0.90" stop-color="#f6d746"/><stop offset="1.00" stop-color="#fcffa4"/></linearGradient></defs>
<rect width="2001" height="1101" fill="#fff"/>
<g opacity="0.012" filter="url(#blur14)">
<polygon points="10.0,205.0 238.0,100.0 238.0,330.0 120.0,455.0" fill="#000"/>
<polygon points="751.0,150.0 870.0,120.0 960.0,330.0 751.0,430.0" fill="#000"/>
</g>
<g filter="url(#blur8)">
<polygon points="50.0,240.0 240.0,160.0 240.0,288.0 104.0,346.0" fill="#f4ec58"/>
</g>
<g filter="url(#blur5)">
<polygon points="240.0,167.0 752.0,211.0 752.0,347.0 240.0,297.0" fill="#fde348"/>
</g>
<g filter="url(#blur14)" opacity="0.4">
<polygon points="752.0,215.0 860.0,175.0 925.0,300.0 752.0,395.0" fill="#fcd868"/>
</g>
<g filter="url(#blur8)">
<polygon points="752.0,222.0 852.0,185.0 902.0,282.0 752.0,358.0" fill="#fcd564"/>
</g>
<g opacity="0.012" filter="url(#blur14)">
<polygon points="1016.0,202.0 1244.0,97.0 1244.0,327.0 1126.0,452.0" fill="#000"/>
<polygon points="1757.0,147.0 1876.0,117.0 1966.0,327.0 1757.0,427.0" fill="#000"/>
</g>
<g filter="url(#blur8)">
<polygon points="1046.0,241.2 1246.0,157.0 1246.0,285.0 1100.0,347.2" fill="#f4ec58"/>
</g>
<g filter="url(#blur5)">
<polygon points="1246.0,164.0 1758.0,208.0 1758.0,344.0 1246.0,294.0" fill="#fde348"/>
</g>
<g filter="url(#blur14)" opacity="0.4"><polygon points="1762.0,212.0 1875.0,168.0 1960.0,300.0 1762.0,395.0" fill="#fcd660"/></g>
<g filter="url(#blur8)" opacity="0.82"><polygon points="1762.0,222.0 1868.0,178.0 1945.0,290.0 1762.0,368.0" fill="#fcd35c"/></g>
<g>
<use href="#atom" x="238.5" y="79.8"/>
<use href="#atom" x="238.5" y="104.4"/>
<use href="#atom" x="238.5" y="129.0"/>
<use href="#atom" x="238.5" y="153.6"/>
<use href="#atom" x="238.5" y="178.2"/>
<use href="#atom" x="238.5" y="202.8"/>
<use href="#atom" x="238.5" y="227.4"/>
<use href="#atom" x="238.5" y="252.0"/>
<use href="#atom" x="238.5" y="276.6"/>
<use href="#atom" x="238.5" y="301.2"/>
<use href="#atom" x="238.5" y="325.8"/>
<use href="#atom" x="238.5" y="350.4"/>
<use href="#atom" x="238.5" y="375.0"/>
<use href="#atom" x="238.5" y="399.6"/>
<use href="#atom" x="238.5" y="424.2"/>
<use href="#atom" x="238.5" y="448.8"/>
</g>
<g opacity="0.4">
<use href="#atom" x="493.3" y="80.5"/>
<use href="#atom" x="493.3" y="105.1"/>
<use href="#atom" x="493.3" y="129.7"/>
<use href="#atom" x="493.3" y="154.3"/>
<use href="#atom" x="493.3" y="178.9"/>
<use href="#atom" x="493.3" y="203.5"/>
<use href="#atom" x="493.3" y="228.1"/>
<use href="#atom" x="493.3" y="252.7"/>
<use href="#atom" x="493.3" y="277.3"/>
<use href="#atom" x="493.3" y="301.9"/>
<use href="#atom" x="493.3" y="326.5"/>
<use href="#atom" x="493.3" y="351.1"/>
<use href="#atom" x="493.3" y="375.7"/>
<use href="#atom" x="493.3" y="400.3"/>
<use href="#atom" x="493.3" y="424.9"/>
<use href="#atom" x="493.3" y="449.5"/>
</g>
<g>
<use href="#atom" x="751.1" y="80.7"/>
<use href="#atom" x="751.1" y="105.3"/>
<use href="#atom" x="751.1" y="129.9"/>
<use href="#atom" x="751.1" y="154.5"/>
<use href="#atom" x="751.1" y="179.1"/>
<use href="#atom" x="751.1" y="203.7"/>
<use href="#atom" x="751.1" y="228.3"/>
<use href="#atom" x="751.1" y="252.9"/>
<use href="#atom" x="751.1" y="277.5"/>
<use href="#atom" x="751.1" y="302.1"/>
<use href="#atom" x="751.1" y="326.7"/>
<use href="#atom" x="751.1" y="351.3"/>
<use href="#atom" x="751.1" y="375.9"/>
<use href="#atom" x="751.1" y="400.5"/>
<use href="#atom" x="751.1" y="425.1"/>
<use href="#atom" x="751.1" y="449.7"/>
</g>
<g>
<use href="#atom" x="1244.6" y="78.4"/>
<use href="#atom" x="1244.6" y="103.0"/>
<use href="#atom" x="1244.6" y="127.6"/>
<use href="#atom" x="1244.6" y="152.2"/>
<use href="#atom" x="1244.6" y="176.8"/>
<use href="#atom" x="1244.6" y="201.4"/>
<use href="#atom" x="1244.6" y="226.0"/>
<use href="#atom" x="1244.6" y="250.6"/>
<use href="#atom" x="1244.6" y="275.2"/>
<use href="#atom" x="1244.6" y="299.8"/>
<use href="#atom" x="1244.6" y="324.4"/>
<use href="#atom" x="1244.6" y="349.0"/>
<use href="#atom" x="1244.6" y="373.6"/>
<use href="#atom" x="1244.6" y="398.2"/>
<use href="#atom" x="1244.6" y="422.8"/>
<use href="#atom" x="1244.6" y="447.4"/>
</g>
<g opacity="0.4">
<use href="#atom" x="1498.9" y="77.5"/>
<use href="#atom" x="1498.9" y="102.1"/>
<use href="#atom" x="1498.9" y="126.7"/>
<use href="#atom" x="1498.9" y="151.3"/>
<use href="#atom" x="1498.9" y="175.9"/>
<use href="#atom" x="1498.9" y="200.5"/>
<use href="#atom" x="1498.9" y="225.1"/>
<use href="#atom" x="1498.9" y="249.7"/>
<use href="#atom" x="1498.9" y="274.3"/>
<use href="#atom" x="1498.9" y="298.9"/>
<use href="#atom" x="1498.9" y="323.5"/>
<use href="#atom" x="1498.9" y="348.1"/>
<use href="#atom" x="1498.9" y="372.7"/>
<use href="#atom" x="1498.9" y="397.3"/>
<use href="#atom" x="1498.9" y="421.9"/>
<use href="#atom" x="1498.9" y="446.5"/>
</g>
<g>
<use href="#atom" x="1755.8" y="77.9"/>
<use href="#atom" x="1755.8" y="102.5"/>
<use href="#atom" x="1755.8" y="127.1"/>
<use href="#atom" x="1755.8" y="151.7"/>
<use href="#atom" x="1755.8" y="176.3"/>
<use href="#atom" x="1755.8" y="200.9"/>
<use href="#atom" x="1755.8" y="225.5"/>
<use href="#atom" x="1755.8" y="250.1"/>
<use href="#atom" x="1755.8" y="274.7"/>
<use href="#atom" x="1755.8" y="299.3"/>
<use href="#atom" x="1755.8" y="323.9"/>
<use href="#atom" x="1755.8" y="348.5"/>
<use href="#atom" x="1755.8" y="373.1"/>
<use href="#atom" x="1755.8" y="397.7"/>
<use href="#atom" x="1755.8" y="422.3"/>
<use href="#atom" x="1755.8" y="446.9"/>
</g>
<line x1="48.0" y1="223.8" x2="236.0" y2="223.8" stroke="#000" stroke-width="2.00" stroke-dasharray="9.5 6.3" />
<line x1="248.5" y1="223.5" x2="735.0" y2="223.5" stroke="#000" stroke-width="2.75" stroke-dasharray="11 7.9" />
<line x1="248.5" y1="306.5" x2="735.0" y2="306.5" stroke="#000" stroke-width="2.75" stroke-dasharray="11 7.9" />
<line x1="1052.5" y1="220.7" x2="1240.0" y2="220.7" stroke="#000" stroke-width="2.00" stroke-dasharray="9.5 6.3" />
<line x1="1252.5" y1="220.3" x2="1738.0" y2="220.3" stroke="#000" stroke-width="2.75" stroke-dasharray="11 8" />
<line x1="1252.5" y1="302.8" x2="1738.0" y2="302.8" stroke="#000" stroke-width="2.75" stroke-dasharray="11 8" />
<path d="M252.5,109.0 L252.5,109.0 L254.0,129.0 L257.5,153.0 L263.1,177.0 L272.2,202.0 L283.1,226.0 L287.5,242.0 L285.9,250.0 L285.0,260.0 L277.5,277.0 L269.5,301.0 L261.5,327.0 L256.8,351.0 L254.0,375.0 L252.5,386.0 L252.5,386.0 Z" fill="#52ad2e" fill-opacity="0.55"/>
<path d="M1509.0,80.0 L1510.4,80.0 L1511.0,85.5 L1511.8,91.0 L1512.8,96.5 L1514.1,102.0 L1515.7,107.5 L1517.6,113.0 L1519.8,118.5 L1522.3,124.0 L1525.1,129.5 L1528.0,135.0 L1531.0,140.5 L1533.9,146.0 L1536.6,151.5 L1539.0,157.0 L1540.9,162.5 L1542.3,168.0 L1542.9,173.5 L1542.9,179.0 L1542.2,184.5 L1541.0,190.0 L1539.2,195.5 L1537.0,201.0 L1534.4,206.5 L1531.7,212.0 L1528.8,217.5 L1526.0,223.0 L1523.4,228.5 L1520.9,234.0 L1518.6,239.5 L1516.7,245.0 L1515.0,250.5 L1513.6,256.0 L1512.5,261.5 L1511.6,267.0 L1510.9,272.5 L1510.3,278.0 L1509.9,283.5 L1509.6,289.0 L1509.4,294.5 L1509.3,300.0 L1509.0,300.0 Z" fill="#b8b8b8" fill-opacity="0.20"/>
<path d="M1509.0,129.0 L1509.2,129.0 L1509.4,135.9 L1509.7,142.8 L1510.0,149.7 L1510.6,156.6 L1511.4,163.5 L1512.4,170.4 L1513.8,177.3 L1515.7,184.2 L1517.9,191.1 L1520.6,198.0 L1523.7,204.9 L1527.1,211.8 L1530.7,218.7 L1534.4,225.6 L1537.9,232.5 L1541.0,239.4 L1543.5,246.3 L1545.2,253.2 L1546.0,260.1 L1545.8,267.0 L1544.7,273.9 L1542.9,280.8 L1540.4,287.7 L1537.5,294.6 L1534.2,301.5 L1530.7,308.4 L1527.3,315.3 L1524.1,322.2 L1521.2,329.1 L1518.6,336.0 L1516.4,342.9 L1514.5,349.8 L1513.0,356.7 L1511.9,363.6 L1511.0,370.5 L1510.4,377.4 L1509.9,384.3 L1509.6,391.2 L1509.4,398.1 L1509.2,405.0 L1509.0,405.0 Z" fill="#52ad2e" fill-opacity="0.28"/>
<path d="M1767.0,63.0 L1768.2,63.0 L1768.7,67.9 L1769.3,72.8 L1770.2,77.8 L1771.3,82.7 L1772.6,87.6 L1774.2,92.5 L1776.2,97.5 L1778.4,102.4 L1780.9,107.3 L1783.6,112.2 L1786.5,117.2 L1789.5,122.1 L1792.5,127.0 L1795.3,131.9 L1797.8,136.9 L1799.9,141.8 L1801.6,146.7 L1802.6,151.7 L1803.0,156.6 L1802.7,161.5 L1801.8,166.4 L1800.3,171.3 L1798.2,176.3 L1795.7,181.2 L1793.0,186.1 L1790.0,191.1 L1787.0,196.0 L1784.1,200.9 L1781.4,205.8 L1778.8,210.8 L1776.5,215.7 L1774.6,220.6 L1772.9,225.5 L1771.5,230.4 L1770.4,235.4 L1769.5,240.3 L1768.8,245.2 L1768.3,250.2 L1767.9,255.1 L1767.6,260.0 L1767.0,260.0 Z" fill="#b8b8b8" fill-opacity="0.24"/>
<path d="M1767.0,180.0 L1767.1,180.0 L1767.2,186.9 L1767.3,193.8 L1767.5,200.8 L1767.8,207.7 L1768.4,214.6 L1769.1,221.6 L1770.2,228.5 L1771.7,235.4 L1773.7,242.3 L1776.2,249.2 L1779.2,256.2 L1782.7,263.1 L1786.6,270.0 L1790.5,276.9 L1794.4,283.9 L1797.8,290.8 L1800.5,297.7 L1802.3,304.6 L1803.0,311.6 L1802.6,318.5 L1801.2,325.4 L1799.0,332.4 L1796.2,339.3 L1792.8,346.2 L1789.3,353.1 L1785.7,360.1 L1782.3,367.0 L1779.2,373.9 L1776.4,380.8 L1774.1,387.8 L1772.2,394.7 L1770.7,401.6 L1769.6,408.5 L1768.7,415.4 L1768.1,422.4 L1767.7,429.3 L1767.5,436.2 L1767.3,443.1 L1767.2,450.1 L1767.1,457.0 L1767.0,457.0 Z" fill="#52ad2e" fill-opacity="0.55"/>
<defs><linearGradient id="gBlue" gradientUnits="userSpaceOnUse" x1="60" y1="306" x2="130" y2="274"><stop offset="0" stop-color="#3a55b8" stop-opacity="0.2"/><stop offset="1" stop-color="#3a55b8" stop-opacity="1"/></linearGradient><linearGradient id="gBlue2" gradientUnits="userSpaceOnUse" x1="1066" y1="303" x2="1136" y2="271"><stop offset="0" stop-color="#3a55b8" stop-opacity="0.2"/><stop offset="1" stop-color="#3a55b8" stop-opacity="1"/></linearGradient></defs>
<line x1="60.5" y1="306.0" x2="234.0" y2="224.0" stroke="url(#gBlue)" stroke-width="2.60" stroke-dasharray="11 7" />
<polygon points="117.0,279.3 106.9,290.7 101.8,279.9" fill="#6a70c0" fill-opacity="1.00"/>
<line x1="1066.5" y1="303.0" x2="1240.0" y2="221.0" stroke="url(#gBlue2)" stroke-width="2.60" stroke-dasharray="11 7" />
<polygon points="1123.0,276.3 1112.9,287.7 1107.8,276.9" fill="#6a70c0" fill-opacity="1.00"/>
<line x1="1767.0" y1="296.0" x2="1908.0" y2="229.0" stroke="#3a55b8" stroke-width="2.60" stroke-dasharray="11 7" />
<polygon points="1918.0,224.4 1907.9,235.8 1902.8,225.0" fill="#7090d0" fill-opacity="1.00"/>
<path d="M1251,213.5 Q1500,195 1760,176 L1896,110" fill="none" stroke="#b0b0b0" stroke-opacity="0.65" stroke-width="2.6" stroke-dasharray="11 8"/>
<polygon points="1346.0,206.5 1332.5,213.6 1331.6,201.6" fill="#c8c8c8" fill-opacity="0.80"/>
<polygon points="1543.0,190.5 1529.5,197.6 1528.6,185.6" fill="#c8c8c8" fill-opacity="0.80"/>
<polygon points="1742.0,176.5 1728.5,183.6 1727.6,171.6" fill="#c8c8c8" fill-opacity="0.80"/>
<polygon points="1881.0,117.5 1870.8,128.9 1865.8,118.0" fill="#c8c8c8" fill-opacity="0.80"/>
<path d="M1253,227.5 Q1500,258 1760,297" fill="none" stroke="#8ab04a" stroke-opacity="0.65" stroke-width="2.6" stroke-dasharray="11 8"/>
<polygon points="1352.0,239.0 1337.3,243.1 1338.9,231.2" fill="#9ab848" fill-opacity="0.85"/>
<polygon points="1516.0,262.0 1501.3,266.0 1503.0,254.1" fill="#9ab848" fill-opacity="0.85"/>
<polygon points="1714.0,289.0 1699.3,292.9 1701.0,281.0" fill="#9ab848" fill-opacity="0.85"/>
<polygon points="1430.0,250.0 1429.9,250.0 1429.9,249.9" fill="#9ab848" fill-opacity="0.00"/>
<circle cx="340.0" cy="89.5" r="3.1" fill="#000"/>
<circle cx="365.0" cy="89.5" r="3.1" fill="#000"/>
<circle cx="390.0" cy="89.5" r="3.1" fill="#000"/>
<circle cx="340.0" cy="443.5" r="3.1" fill="#000"/>
<circle cx="365.0" cy="443.5" r="3.1" fill="#000"/>
<circle cx="390.0" cy="443.5" r="3.1" fill="#000"/>
<circle cx="591.0" cy="89.7" r="3.1" fill="#000"/>
<circle cx="616.0" cy="89.7" r="3.1" fill="#000"/>
<circle cx="641.0" cy="89.7" r="3.1" fill="#000"/>
<circle cx="591.0" cy="443.2" r="3.1" fill="#000"/>
<circle cx="616.0" cy="443.2" r="3.1" fill="#000"/>
<circle cx="641.0" cy="443.2" r="3.1" fill="#000"/>
<circle cx="1355.7" cy="85.4" r="3.1" fill="#000"/>
<circle cx="1380.3" cy="85.4" r="3.1" fill="#000"/>
<circle cx="1404.8" cy="85.4" r="3.1" fill="#000"/>
<circle cx="1355.7" cy="439.0" r="3.1" fill="#000"/>
<circle cx="1380.3" cy="439.0" r="3.1" fill="#000"/>
<circle cx="1404.8" cy="439.0" r="3.1" fill="#000"/>
<circle cx="1607.1" cy="85.0" r="3.1" fill="#000"/>
<circle cx="1631.5" cy="85.0" r="3.1" fill="#000"/>
<circle cx="1656.0" cy="85.0" r="3.1" fill="#000"/>
<circle cx="1607.1" cy="438.7" r="3.1" fill="#000"/>
<circle cx="1631.5" cy="438.7" r="3.1" fill="#000"/>
<circle cx="1656.0" cy="438.7" r="3.1" fill="#000"/>
<line x1="268.5" y1="304" x2="268.5" y2="371" stroke="#000" stroke-width="4.2"/>
<polygon points="268.5,382.5 262.2,369.5 274.8,369.5" fill="#000" fill-opacity="1.00"/>
<line x1="142.1" y1="456" x2="142.1" y2="389" stroke="#000" stroke-width="4.2"/>
<polygon points="142.1,378.6 148.1,390.6 136.1,390.6" fill="#000" fill-opacity="1.00"/>
<line x1="1619" y1="229" x2="1619" y2="284" stroke="#000" stroke-width="4.2"/>
<polygon points="1619.0,295.0 1613.0,283.0 1625.0,283.0" fill="#000" fill-opacity="1.00"/>
<line x1="929" y1="221.4" x2="995" y2="221.4" stroke="#0c1a4a" stroke-width="4.2"/>
<polygon points="1008.5,221.4 994.5,227.9 994.5,214.9" fill="#0c1a4a" fill-opacity="1.00"/>
<line x1="107.5" y1="26" x2="233.7" y2="73.7" stroke="#000" stroke-width="1.3"/>
<line x1="132.5" y1="160" x2="246" y2="85" stroke="#000" stroke-width="1.6"/>
<ellipse cx="81.2" cy="101.0" rx="80" ry="78.2" fill="#fff" stroke="#000" stroke-width="1.9"/>
<line x1="33.2" y1="54.8" x2="122.0" y2="54.8" stroke="#000" stroke-width="1.7"/>
<line x1="33.2" y1="143.4" x2="121.2" y2="143.4" stroke="#000" stroke-width="1.7"/>
<use href="#atomS" x="78.0" y="54.8"/>
<g opacity="0.22"><use href="#atomS" x="78.0" y="142.6"/></g>
<path d="M132.2,133.0 Q161.2,96.0 131.2,69.0" fill="none" stroke="#000" stroke-width="2.3"/>
<polygon points="128.7,66.0 137.7,71.9 131.2,76.5" fill="#000" fill-opacity="1.00"/>
<path d="M10.2,99.5 C13.7,99.5 14.5,111.5 18.0,111.5 C21.4,111.5 22.1,86.0 25.5,86.0 C28.9,86.0 29.6,119.7 33.0,119.7 C36.5,119.7 37.3,76.7 40.8,76.7 C44.4,76.7 45.1,122.4 48.7,122.4 C52.1,122.4 52.8,76.7 56.2,76.7 C59.6,76.7 60.3,119.7 63.7,119.7 C67.3,119.7 68.1,85.2 71.7,85.2 C74.9,85.2 75.5,110.7 78.7,110.7 C81.8,110.7 82.4,98.7 85.5,98.7" fill="none" stroke="#000" stroke-width="1.9"/>
<polygon points="96.0,99.2 86.0,103.2 86.0,95.2" fill="#000" fill-opacity="1.00"/>
<line x1="1747.4" y1="394.7" x2="1860" y2="321" stroke="#000" stroke-width="1.3"/>
<line x1="1758" y1="406.2" x2="1890" y2="452.6" stroke="#000" stroke-width="1.6"/>
<ellipse cx="1912.1" cy="378.6" rx="80" ry="78.2" fill="#fff" stroke="#000" stroke-width="1.9"/>
<line x1="1871.6" y1="336.4" x2="1959.6" y2="336.4" stroke="#000" stroke-width="1.7"/>
<line x1="1871.1" y1="423.8" x2="1959.1" y2="423.8" stroke="#000" stroke-width="1.7"/>
<g opacity="0.22"><use href="#atomS" x="1915.1" y="336.0"/></g>
<use href="#atomS" x="1915.1" y="422.4"/>
<path d="M1861.1,347.1 Q1832.1,383.6 1863.1,410.6" fill="none" stroke="#000" stroke-width="2.3"/>
<polygon points="1865.6,414.6 1856.6,408.7 1863.1,404.1" fill="#000" fill-opacity="1.00"/>
<path d="M1897.1,375.3 C1900.6,375.3 1901.4,387.3 1904.9,387.3 C1908.3,387.3 1909.0,361.8 1912.4,361.8 C1915.8,361.8 1916.5,395.5 1919.9,395.5 C1923.4,395.5 1924.2,352.5 1927.7,352.5 C1931.3,352.5 1932.0,398.2 1935.6,398.2 C1939.0,398.2 1939.7,352.5 1943.1,352.5 C1946.5,352.5 1947.2,395.5 1950.6,395.5 C1954.2,395.5 1955.0,361.0 1958.6,361.0 C1961.8,361.0 1962.4,386.5 1965.6,386.5 C1968.7,386.5 1969.3,374.5 1972.4,374.5" fill="none" stroke="#000" stroke-width="1.9"/>
<polygon points="1982.9,375.0 1972.9,379.0 1972.9,371.0" fill="#000" fill-opacity="1.00"/>
<text transform="translate(433.44 29.61) scale(1.093 1)" style="font-family:'Liberation Serif',serif;font-size:48.70px;font-style:italic;">t</text>
<text transform="translate(462.18 33.06) scale(1.423 1)" style="font-family:'Liberation Serif',serif;font-size:43.20px;" stroke="#000" stroke-width="0.5">=</text>
<text transform="translate(508.23 30.35) scale(0.984 1)" style="font-family:'Liberation Serif',serif;font-size:45.19px;">0</text>
<text transform="translate(942.75 42.83) scale(1.195 1)" style="font-family:'Liberation Serif',serif;font-size:76.67px;font-weight:bold;">a</text>
<text transform="translate(1432.62 28.78) scale(1.103 1)" style="font-family:'Liberation Serif',serif;font-size:42.26px;font-style:italic;">t</text>
<text transform="translate(1457.91 31.77) scale(1.418 1)" style="font-family:'Liberation Serif',serif;font-size:38.40px;" stroke="#000" stroke-width="0.5">=</text>
<text transform="translate(1498.72 28.90) scale(0.954 1)" style="font-family:'Liberation Serif',serif;font-size:39.24px;">1</text>
<text transform="translate(1520.50 37.14) scale(0.901 1)" style="font-family:'Liberation Serif',serif;font-size:56.27px;">/</text>
<text transform="translate(1537.42 28.82) scale(1.207 1)" style="font-family:'Liberation Serif',serif;font-size:38.30px;font-style:italic;">v</text>
<text transform="translate(279.21 357.04) scale(0.967 1)" style="font-family:'Liberation Serif',serif;font-size:65.74px;font-style:italic;">v</text>
<text transform="translate(312.30 366.90) scale(1.154 1)" style="font-family:'Liberation Serif',serif;font-size:46.59px;font-style:italic;">g</text>
<text transform="translate(342.38 366.46) scale(1.073 1)" style="font-family:'Liberation Serif',serif;font-size:49.32px;font-style:italic;">,</text>
<text x="362.04" y="366.67" style="font-family:'Liberation Serif',serif;font-size:47.11px;font-style:italic;">y</text>
<text transform="translate(164.73 389.79) scale(0.894 1)" style="font-family:'Liberation Serif',serif;font-size:45.19px;font-style:italic;">y</text>
<text transform="translate(1632.82 283.24) scale(1.012 1)" style="font-family:'Liberation Serif',serif;font-size:64.49px;font-style:italic;">D</text>
<g clip-path="url(#clb)" stroke-width="7.4" fill="none">
<path d="M232.3 722.2 248.8 721.9 265.2 721.6 281.7 721.1 298.1 720.4 314.6 719.3 331.0 717.9 347.5 716.1 363.9 713.7 380.4 710.7 396.8 707.1 413.3 702.6 413.3 719.6 396.9 723.4 380.4 729.0 364.0 735.0 347.6 740.4 331.2 745.6 314.7 750.1 298.3 741.7 298.3 706.0 285.1 694.4 271.9 685.3 258.7 679.2 245.5 676.4 232.3 675.4Z" fill="url(#bsol)" stroke="none"/>
<path d="M232.3 655.7 226.9 658.3 221.5 660.7 216.1 662.9 210.7 664.8 205.3 666.7 210.3 665.0 214.8 663.3 219.4 661.6 223.9 659.6 228.5 657.6 233.0 655.4 237.5 652.9 242.1 650.1 246.6 646.7 251.1 642.5 255.7 637.5 260.2 631.3 264.8 623.9 269.3 615.2" stroke="url(#ba0)" stroke-width="8.6"/>
<path d="M232.3 669.4 230.4 670.3 228.6 671.1 226.7 671.9 224.8 672.7 223.0 673.4 228.0 671.3 232.5 669.3 237.0 667.2 241.6 665.0 246.1 662.5 250.7 659.8 255.2 656.7 259.7 653.1 264.3 649.0 268.8 644.1 273.4 638.4 277.9 631.8 282.4 624.2 287.0 615.2" stroke="url(#ba1)" stroke-width="8.6"/>
<path d="M232.3 681.4 234.0 680.7 235.6 680.0 237.3 679.3 239.0 678.5 240.6 677.8 245.6 675.5 250.2 673.3 254.7 670.9 259.2 668.4 263.8 665.6 268.3 662.5 272.9 658.9 277.4 654.9 281.9 650.2 286.5 644.9 291.0 638.9 295.6 632.1 300.1 624.5 304.6 615.2" stroke="url(#ba2)" stroke-width="8.6"/>
<path d="M232.3 693.0 237.5 690.9 242.7 688.8 247.9 686.5 253.1 684.2 258.3 681.7 263.3 679.2 267.8 676.8 272.4 674.2 276.9 671.4 281.5 668.2 286.0 664.7 290.5 660.7 295.1 656.2 299.6 651.2 304.1 645.6 308.7 639.4 313.2 632.4 317.8 624.7 322.3 615.2" stroke="url(#ba3)" stroke-width="8.6"/>
<path d="M232.3 701.2 241.0 698.2 249.8 694.8 258.5 691.2 267.2 687.3 276.0 683.1 281.0 680.6 285.5 678.1 290.0 675.4 294.6 672.4 299.1 669.1 303.7 665.4 308.2 661.3 312.7 656.7 317.3 651.6 321.8 645.9 326.4 639.6 330.9 632.5 335.4 624.7 340.0 615.2" stroke="url(#ba4)" stroke-width="8.6"/>
<path d="M232.3 708.9 244.6 705.0 256.8 700.7 269.1 695.9 281.4 690.5 293.6 684.5 298.6 681.9 303.2 679.3 307.7 676.4 312.2 673.3 316.8 669.9 321.3 666.1 325.9 661.9 330.4 657.1 334.9 651.9 339.5 646.1 344.0 639.7 348.6 632.6 353.1 624.8 357.6 615.2" stroke="url(#ba5)" stroke-width="8.6"/>
<path d="M232.3 716.1 248.1 711.7 263.9 706.5 279.7 700.5 295.5 693.7 311.3 685.9 316.3 683.1 320.8 680.4 325.4 677.5 329.9 674.3 334.5 670.7 339.0 666.7 343.5 662.4 348.1 657.6 352.6 652.2 357.1 646.3 361.7 639.8 366.2 632.7 370.8 624.9 375.3 615.2" stroke="url(#ba6)" stroke-width="8.6"/>
<path d="M232.3 722.2 251.6 717.4 271.0 711.5 290.3 704.6 309.6 696.4 329.0 686.9 334.0 684.0 338.5 681.2 343.0 678.2 347.6 674.9 352.1 671.2 356.7 667.2 361.2 662.7 365.7 657.8 370.3 652.4 374.8 646.5 379.4 640.0 383.9 632.8 388.4 625.0 393.0 615.2" stroke="url(#ba7)" stroke-width="8.6"/>
<path d="M232.3 725.6 255.2 720.7 278.0 714.6 300.9 707.0 323.8 697.8 346.6 686.7 351.6 683.9 356.2 681.1 360.7 678.1 365.2 674.8 369.8 671.1 374.3 667.1 378.9 662.7 383.4 657.8 387.9 652.4 392.5 646.5 397.0 639.9 401.6 632.8 406.1 625.0 410.6 615.2" stroke="url(#ba8)" stroke-width="8.6"/>
<path d="M232.3 728.1 258.7 723.5 285.1 717.3 311.5 709.3 337.9 699.1 364.3 686.5 369.3 683.7 373.8 681.0 378.4 678.0 382.9 674.7 387.5 671.1 392.0 667.0 396.5 662.6 401.1 657.7 405.6 652.4 410.1 646.4 414.7 639.9 419.2 632.8 423.8 624.9 428.3 615.2" stroke="url(#ba9)" stroke-width="8.6"/>
<path d="M232.3 730.0 262.2 725.8 292.2 719.7 322.1 711.4 352.0 700.4 382.0 686.4 387.0 683.6 391.5 680.8 396.0 677.9 400.6 674.6 405.1 671.0 409.7 667.0 414.2 662.6 418.7 657.7 423.3 652.3 427.8 646.4 432.4 639.9 436.9 632.8 441.4 624.9 446.0 615.2" stroke="url(#ba10)" stroke-width="8.6"/>
<path d="M232.3 730.7 265.8 727.0 299.2 721.3 332.7 712.9 366.2 701.3 399.6 686.0 404.6 683.2 409.2 680.5 413.7 677.6 418.2 674.3 422.8 670.7 427.3 666.8 431.9 662.4 436.4 657.6 440.9 652.2 445.5 646.3 450.0 639.9 454.6 632.7 459.1 624.9 463.6 615.2" stroke="url(#ba11)" stroke-width="8.6"/>
<path d="M232.3 730.0 269.3 727.1 306.3 721.9 343.3 713.8 380.3 701.8 417.3 685.3 422.3 682.6 426.8 680.0 431.4 677.1 435.9 673.9 440.5 670.4 445.0 666.5 449.5 662.2 454.1 657.4 458.6 652.1 463.1 646.2 467.7 639.8 472.2 632.7 476.8 624.9 481.3 615.2" stroke="url(#ba12)" stroke-width="8.6"/>
<path d="M232.3 728.7 272.8 726.6 313.4 722.1 353.9 714.4 394.4 702.2 435.0 684.7 440.0 682.0 444.5 679.4 449.0 676.5 453.6 673.4 458.1 670.0 462.7 666.1 467.2 661.9 471.7 657.2 476.3 651.9 480.8 646.1 485.4 639.7 489.9 632.6 494.4 624.8 499.0 615.2" stroke="url(#ba13)" stroke-width="8.6"/>
<path d="M232.3 727.1 276.4 725.5 320.4 721.9 364.5 714.7 408.6 702.5 452.6 684.0 457.6 681.4 462.2 678.8 466.7 676.0 471.2 673.0 475.8 669.6 480.3 665.8 484.9 661.6 489.4 657.0 493.9 651.8 498.5 646.0 503.0 639.6 507.6 632.6 512.1 624.8 516.6 615.2" stroke="url(#ba14)" stroke-width="8.6"/>
<path d="M232.3 725.2 279.9 724.1 327.5 721.3 375.1 714.8 422.7 702.7 470.3 683.3 475.3 680.7 479.8 678.2 484.4 675.5 488.9 672.5 493.5 669.2 498.0 665.5 502.5 661.3 507.1 656.8 511.6 651.6 516.1 645.9 520.7 639.6 525.2 632.5 529.8 624.8 534.3 615.2" stroke="url(#ba15)" stroke-width="8.6"/>
<path d="M232.3 724.4 258.3 726.4 283.3 732.9 308.3 745.8 328.3 744.5 343.3 739.8 358.3 734.9 373.3 729.9 388.3 723.9 403.3 719.9 418.3 716.4 436.3 712.9 454.3 709.6 472.3 706.4 492.3 703.1 512.3 700.0 534.3 696.3 558.3 692.5 583.3 689.3 610.3 686.2 638.3 683.6 667.8 681.7" stroke="url(#bf0)"/>
<path d="M232.3 724.4 258.3 726.4 283.3 732.9 308.3 745.8 328.3 745.1 343.3 740.6 358.3 735.9 373.3 731.6 388.3 726.4 403.3 723.0 418.3 720.2 436.3 717.4 454.3 714.8 472.3 712.2 492.3 709.6 512.3 707.2 534.3 704.2 558.3 701.2 583.3 698.7 610.3 696.3 638.3 694.5 667.8 693.2" stroke="url(#bf1)"/>
<path d="M232.3 724.4 258.3 726.4 283.3 732.9 308.3 745.8 328.3 745.9 343.3 741.6 358.3 737.4 373.3 734.0 388.3 729.7 403.3 727.3 418.3 725.2 436.3 723.4 454.3 721.7 472.3 720.0 492.3 718.4 512.3 716.8 534.3 714.8 558.3 712.7 583.3 711.2 610.3 709.8 638.3 708.8 667.8 708.4" stroke="url(#bf2)"/>
<path d="M232.3 724.4 258.3 726.4 283.3 732.9 308.3 745.8 328.3 747.0 343.3 743.1 358.3 739.4 373.3 737.3 388.3 734.3 403.3 733.0 418.3 732.1 436.3 731.5 454.3 730.9 472.3 730.4 492.3 729.9 512.3 729.6 534.3 728.7 558.3 727.9 583.3 727.6 610.3 727.4 638.3 727.5 667.8 728.2" stroke="url(#bf3)"/>
<path d="M232.3 724.4 258.3 726.4 283.3 732.9 308.3 745.8 328.3 748.2 343.3 744.9 358.3 741.9 373.3 741.3 388.3 739.9 403.3 740.0 418.3 740.4 436.3 741.2 454.3 742.1 472.3 742.8 492.3 743.7 512.3 744.6 534.3 745.2 558.3 745.8 583.3 746.8 610.3 747.9 638.3 749.2 667.8 750.9" stroke="url(#bf4)"/>
<path d="M232.3 724.4 258.3 726.4 283.3 732.9 308.3 745.8 328.3 749.5 343.3 747.0 358.3 744.9 373.3 745.9 388.3 746.1 403.3 747.6 418.3 749.5 436.3 751.9 454.3 754.1 472.3 756.2 492.3 758.5 512.3 760.8 534.3 762.7 558.3 764.7 583.3 767.0 610.3 769.3 638.3 771.7 667.8 774.4" stroke="url(#bf5)"/>
<path d="M232.3 724.4 258.3 726.4 283.3 732.9 308.3 745.8 328.3 750.7 343.3 749.0 358.3 748.0 373.3 750.4 388.3 752.2 403.3 755.2 418.3 758.4 436.3 762.3 454.3 765.9 472.3 769.3 492.3 772.9 512.3 776.3 534.3 779.4 558.3 782.7 583.3 786.1 610.3 789.5 638.3 792.8 667.8 796.3" stroke="url(#bf6)"/>
<path d="M232.3 724.4 258.3 726.4 283.3 732.9 308.3 745.8 328.3 751.9 343.3 751.3 358.3 751.5 373.3 755.5 388.3 759.0 403.3 763.6 418.3 768.2 436.3 773.7 454.3 778.7 472.3 783.3 492.3 788.2 512.3 792.8 534.3 797.2 558.3 801.7 583.3 806.2 610.3 810.5 638.3 814.8 667.8 818.9" stroke="url(#bf7)"/>
<path d="M232.3 724.4 258.3 726.4 283.3 732.9 308.3 745.8 328.3 753.0 343.3 753.5 358.3 754.9 373.3 760.3 388.3 765.3 403.3 771.3 418.3 777.2 436.3 784.1 454.3 790.4 472.3 796.1 492.3 802.2 512.3 807.8 534.3 813.2 558.3 818.7 583.3 824.0 610.3 829.2 638.3 834.0 667.8 838.6" stroke="url(#bf8)"/>
<path d="M232.3 724.4 258.3 726.4 283.3 732.9 308.3 745.8 328.3 754.0 343.3 755.6 358.3 758.2 373.3 765.0 388.3 771.4 403.3 778.7 418.3 785.9 436.3 794.2 454.3 801.6 472.3 808.4 492.3 815.4 512.3 821.9 534.3 828.3 558.3 834.6 583.3 840.7 610.3 846.5 638.3 851.8 667.8 856.7" stroke="url(#bf9)"/>
<path d="M232.3 724.4 258.3 726.4 283.3 732.9 308.3 745.8 328.3 754.8 343.3 757.6 358.3 761.5 373.3 769.5 388.3 777.3 403.3 785.8 418.3 794.1 436.3 803.6 454.3 812.1 472.3 819.8 492.3 827.7 512.3 835.1 534.3 842.3 558.3 849.3 583.3 856.1 610.3 862.4 638.3 868.0 667.8 873.0" stroke="url(#bf10)"/>
<path d="M232.3 724.4 258.3 726.4 283.3 732.9 308.3 745.8 328.3 755.7 343.3 759.5 358.3 764.6 373.3 773.8 388.3 782.8 403.3 792.5 418.3 802.0 436.3 812.6 454.3 822.1 472.3 830.7 492.3 839.4 512.3 847.5 534.3 855.4 558.3 863.1 583.3 870.4 610.3 877.1 638.3 883.0 667.8 888.0" stroke="url(#bf11)"/>
<path d="M232.3 724.4 258.3 726.4 283.3 732.9 308.3 745.8 328.3 756.4 343.3 761.4 358.3 767.6 373.3 777.9 388.3 788.1 403.3 798.8 418.3 809.3 436.3 821.0 454.3 831.4 472.3 840.7 492.3 850.2 512.3 858.9 534.3 867.5 558.3 875.7 583.3 883.4 610.3 890.4 638.3 896.5 667.8 901.6" stroke="url(#bf12)"/>
<path d="M232.3 724.4 258.3 726.4 283.3 732.9 308.3 745.8 328.3 757.1 343.3 763.3 358.3 770.8 373.3 782.1 388.3 793.5 403.3 805.3 418.3 816.9 436.3 829.7 454.3 840.9 472.3 851.0 492.3 861.2 512.3 870.6 534.3 879.7 558.3 888.5 583.3 896.6 610.3 903.9 638.3 910.0 667.8 915.0" stroke="url(#bf13)"/>
<path d="M232.3 724.4 258.3 726.4 283.3 732.9 308.3 745.8 328.3 757.7 343.3 764.8 358.3 773.4 373.3 785.5 388.3 797.8 403.3 810.6 418.3 822.9 436.3 836.6 454.3 848.6 472.3 859.2 492.3 870.0 512.3 879.8 534.3 889.4 558.3 898.6 583.3 907.0 610.3 914.4 638.3 920.6 667.8 925.5" stroke="url(#bf14)"/>
<path d="M232.3 724.4 258.3 726.4 283.3 732.9 308.3 745.8 328.3 758.3 343.3 766.4 358.3 776.0 373.3 789.0 388.3 802.3 403.3 815.9 418.3 829.1 436.3 843.7 454.3 856.3 472.3 867.6 492.3 878.9 512.3 889.2 534.3 899.3 558.3 908.9 583.3 917.4 610.3 925.0 638.3 931.3 667.8 936.0" stroke="url(#bf15)"/>
<path d="M232.3 724.4 258.3 726.4 283.3 732.9 308.3 745.8 328.3 758.8 343.3 767.8 358.3 778.4 373.3 792.1 388.3 806.2 403.3 820.7 418.3 834.6 436.3 849.9 454.3 863.1 472.3 874.9 492.3 886.7 512.3 897.4 534.3 907.8 558.3 917.7 583.3 926.5 610.3 934.2 638.3 940.4 667.8 945.0" stroke="url(#bf16)"/>
<path d="M232.3 724.4 258.3 726.4 283.3 732.9 308.3 745.8 328.3 759.2 343.3 769.0 358.3 780.4 373.3 794.8 388.3 809.7 403.3 824.8 418.3 839.3 436.3 855.3 454.3 869.1 472.3 881.2 492.3 893.5 512.3 904.5 534.3 915.2 558.3 925.3 583.3 934.3 610.3 942.1 638.3 948.2 667.8 952.7" stroke="url(#bf17)"/>
<path d="M232.3 724.4 258.3 726.4 283.3 732.9 308.3 745.8 328.3 759.6 343.3 770.1 358.3 782.4 373.3 797.4 388.3 812.9 403.3 828.6 418.3 843.7 436.3 860.2 454.3 874.5 472.3 887.1 492.3 899.7 512.3 911.0 534.3 922.0 558.3 932.4 583.3 941.4 610.3 949.3 638.3 955.4 667.8 959.6" stroke="url(#bf18)"/>
<path d="M232.3 724.4 258.3 726.4 283.3 732.9 308.3 745.8 328.3 759.9 343.3 771.2 358.3 784.1 373.3 799.7 388.3 815.8 403.3 832.0 418.3 847.7 436.3 864.8 454.3 879.5 472.3 892.4 492.3 905.3 512.3 916.9 534.3 928.2 558.3 938.7 583.3 947.9 610.3 955.8 638.3 961.8 667.8 965.9" stroke="url(#bf19)"/>
<path d="M232.3 724.4 258.3 726.4 283.3 732.9 308.3 745.8 328.3 760.3 343.3 772.1 358.3 785.8 373.3 801.8 388.3 818.4 403.3 835.2 418.3 851.4 436.3 869.0 454.3 884.1 472.3 897.3 492.3 910.5 512.3 922.3 534.3 933.8 558.3 944.5 583.3 953.8 610.3 961.7 638.3 967.6 667.8 971.6" stroke="url(#bf20)"/>
<path d="M232.3 724.4 258.3 726.4 283.3 732.9 308.3 745.8 328.3 760.5 343.3 773.0 358.3 787.3 373.3 803.8 388.3 820.9 403.3 838.2 418.3 854.8 436.3 872.9 454.3 888.4 472.3 901.9 492.3 915.4 512.3 927.4 534.3 939.1 558.3 949.9 583.3 959.3 610.3 967.2 638.3 973.1 667.8 976.8" stroke="url(#bf21)"/>
<path d="M232.3 724.4 258.3 726.4 283.3 732.9 308.3 745.8 328.3 760.8 343.3 773.9 358.3 788.8 373.3 805.7 388.3 823.3 403.3 841.0 418.3 858.1 436.3 876.5 454.3 892.4 472.3 906.2 492.3 919.9 512.3 932.1 534.3 944.0 558.3 955.0 583.3 964.4 610.3 972.3 638.3 978.1 667.8 981.7" stroke="url(#bf22)"/>
<path d="M232.3 724.4 258.3 726.4 283.3 732.9 308.3 745.8 328.3 761.1 343.3 774.6 358.3 790.1 373.3 807.4 388.3 825.4 403.3 843.6 418.3 861.0 436.3 879.9 454.3 896.0 472.3 910.0 492.3 924.0 512.3 936.4 534.3 948.4 558.3 959.5 583.3 969.0 610.3 976.9 638.3 982.6 667.8 986.1" stroke="url(#bf23)"/>
<path d="M232.3 724.4 258.3 726.4 283.3 732.9 308.3 745.8 328.3 761.4 343.3 775.8 358.3 792.2 373.3 810.1 388.3 828.8 403.3 847.6 418.3 865.7 436.3 885.1 454.3 901.8 472.3 916.2 492.3 930.5 512.3 943.2 534.3 955.4 558.3 966.7 583.3 976.3 610.3 984.1 638.3 989.7 667.8 992.9" stroke="url(#bf24)"/>
</g>
<g clip-path="url(#clb)">
<path d="M232.3 675.4 242.4 675.8 252.4 677.9 262.5 680.6 272.6 685.6 282.6 692.4 292.7 700.5 302.8 710.4 312.8 721.1 322.9 733.1 333.0 747.8 343.0 761.9 353.1 774.4 363.2 786.5 373.2 799.2 383.3 812.0 383.3 826.3 373.2 813.7 363.2 801.6 353.1 790.0 343.0 779.3 333.0 769.4 322.9 760.5 312.8 752.6 302.8 746.0 292.7 740.6 282.6 736.3 272.6 733.1 262.5 730.8 252.4 729.3 242.4 728.4 232.3 728.1Z" fill="#3a0c52"/>
<path d="M232.3 675.4 242.4 675.8 252.4 677.9 262.5 680.6 272.6 685.6 282.6 692.4 292.7 700.5 302.8 710.4 312.8 721.1 322.9 733.1 333.0 747.8 343.0 761.9 353.1 774.4 363.2 786.5 373.2 799.2 383.3 812.0 383.3 826.3 373.2 813.7 363.2 801.6 353.1 790.0 343.0 779.3 333.0 769.4 322.9 760.5 312.8 752.6 302.8 746.0 292.7 740.6 282.6 736.3 272.6 733.1 262.5 730.8 252.4 729.3 242.4 728.4 232.3 728.1Z" fill="url(#hatchb)"/>
<path d="M232.3 718.1 247.3 718.4 262.3 720.2 277.4 723.6 292.4 729.2 307.4 737.4 322.4 748.3 337.4 761.7 352.4 777.9 367.5 795.8 382.5 815.0 397.5 834.8 412.5 854.5 427.5 872.9 442.5 889.2 457.6 903.4 472.6 916.1 487.6 927.9 502.6 938.5 517.6 948.2 532.6 957.0 547.7 964.8 562.7 971.7 562.7 972.2 547.7 965.7 532.6 958.3 517.6 950.0 502.6 940.9 487.6 930.9 472.6 920.1 457.6 908.2 442.5 894.9 427.5 879.7 412.5 862.5 397.5 844.1 382.5 825.2 367.5 806.7 352.4 789.3 337.4 773.6 322.4 760.1 307.4 748.9 292.4 740.4 277.4 734.5 262.3 730.8 247.3 728.8 232.3 728.1Z" fill="#07030f"/>
<path d="M232.3 675.4 242.4 675.8 252.4 677.9 262.5 680.6 272.6 685.6 282.6 692.4 292.7 700.5 302.8 710.4 312.8 721.1 322.9 733.1 333.0 747.8 343.0 761.9" fill="none" stroke="#05020a" stroke-width="4"/>
</g>
<g clip-path="url(#clc)" stroke-width="7.4" fill="none">
<path d="M788.2 722.3 804.7 722.0 821.1 721.7 837.6 721.2 854.0 720.6 870.5 719.6 886.9 718.4 903.4 716.6 919.8 714.4 936.3 711.6 952.7 708.1 969.2 703.9 969.2 712.3 952.8 716.1 936.3 719.9 919.9 725.7 903.5 732.0 887.1 739.5 870.6 746.1 854.2 741.7 854.2 706.0 841.0 694.4 827.8 685.3 814.6 679.2 801.4 676.4 788.2 675.4Z" fill="url(#csol)" stroke="none"/>
<path d="M788.2 638.6 778.4 647.1 768.6 652.6 758.8 657.0 749.0 660.7 739.2 663.7 744.2 662.2 748.7 660.7 753.3 659.1 757.8 657.4 762.4 655.5 766.9 653.4 771.4 651.2 776.0 648.6 780.5 645.6 785.0 641.8 789.6 637.0 794.1 631.1 798.7 623.8 803.2 615.2" stroke="url(#ca0)" stroke-width="8.0"/>
<path d="M788.2 646.7 780.1 651.8 772.0 655.8 763.9 659.3 755.9 662.3 747.8 664.9 752.8 663.3 757.3 661.8 761.9 660.1 766.4 658.3 770.9 656.3 775.5 654.2 780.0 651.9 784.5 649.2 789.1 646.0 793.6 642.1 798.2 637.2 802.7 631.2 807.2 623.9 811.8 615.2" stroke="url(#ca1)" stroke-width="8.0"/>
<path d="M788.2 652.8 781.8 656.0 775.5 658.9 769.1 661.6 762.7 663.9 756.3 666.0 761.3 664.4 765.9 662.8 770.4 661.0 775.0 659.2 779.5 657.1 784.0 654.9 788.6 652.5 793.1 649.8 797.7 646.5 802.2 642.4 806.7 637.4 811.3 631.3 815.8 623.9 820.3 615.2" stroke="url(#ca2)" stroke-width="8.0"/>
<path d="M788.2 658.6 783.5 660.8 778.9 662.8 774.2 664.8 769.6 666.5 764.9 668.2 769.9 666.4 774.5 664.7 779.0 662.8 783.5 660.8 788.1 658.7 792.6 656.4 797.2 653.8 801.7 650.8 806.2 647.2 810.8 642.9 815.3 637.7 819.8 631.5 824.4 624.0 828.9 615.2" stroke="url(#ca3)" stroke-width="8.0"/>
<path d="M788.2 665.2 785.3 666.6 782.3 667.8 779.4 669.1 776.4 670.3 773.5 671.4 778.5 669.5 783.0 667.5 787.6 665.5 792.1 663.4 796.6 661.1 801.2 658.5 805.7 655.6 810.3 652.3 814.8 648.3 819.3 643.7 823.9 638.1 828.4 631.7 833.0 624.1 837.5 615.2" stroke="url(#ca4)" stroke-width="8.0"/>
<path d="M788.2 671.6 787.0 672.1 785.7 672.7 784.5 673.2 783.3 673.7 782.1 674.2 787.1 672.1 791.6 670.0 796.1 667.9 800.7 665.6 805.2 663.1 809.8 660.3 814.3 657.1 818.8 653.5 823.4 649.2 827.9 644.3 832.5 638.5 837.0 631.9 841.5 624.3 846.1 615.2" stroke="url(#ca5)" stroke-width="8.0"/>
<path d="M788.2 677.3 788.7 677.1 789.2 676.9 789.7 676.7 790.2 676.5 790.6 676.3 795.6 674.0 800.2 671.9 804.7 669.7 809.3 667.2 813.8 664.6 818.3 661.6 822.9 658.2 827.4 654.3 831.9 649.8 836.5 644.7 841.0 638.8 845.6 632.0 850.1 624.4 854.6 615.2" stroke="url(#ca6)" stroke-width="8.0"/>
<path d="M788.2 683.0 790.4 682.1 792.6 681.2 794.8 680.2 797.0 679.2 799.2 678.2 804.2 675.9 808.8 673.7 813.3 671.3 817.8 668.8 822.4 665.9 826.9 662.8 831.4 659.1 836.0 655.0 840.5 650.4 845.1 645.0 849.6 639.0 854.1 632.2 858.7 624.5 863.2 615.2" stroke="url(#ca7)" stroke-width="8.0"/>
<path d="M788.2 688.6 792.1 687.0 796.0 685.4 800.0 683.7 803.9 682.0 807.8 680.1 812.8 677.7 817.3 675.4 821.9 672.9 826.4 670.2 830.9 667.2 835.5 663.8 840.0 660.0 844.6 655.7 849.1 650.9 853.6 645.4 858.2 639.2 862.7 632.3 867.2 624.6 871.8 615.2" stroke="url(#ca8)" stroke-width="8.0"/>
<path d="M788.2 693.9 793.8 691.7 799.5 689.4 805.1 687.0 810.7 684.5 816.4 681.8 821.4 679.3 825.9 676.9 830.4 674.3 835.0 671.4 839.5 668.3 844.1 664.7 848.6 660.7 853.1 656.3 857.7 651.3 862.2 645.7 866.7 639.4 871.3 632.4 875.8 624.7 880.4 615.2" stroke="url(#ca9)" stroke-width="8.0"/>
<path d="M788.2 697.9 795.5 695.2 802.9 692.4 810.2 689.3 817.6 686.0 824.9 682.5 829.9 680.0 834.5 677.5 839.0 674.8 843.6 671.9 848.1 668.7 852.6 665.1 857.2 661.0 861.7 656.5 866.2 651.4 870.8 645.8 875.3 639.5 879.9 632.5 884.4 624.7 888.9 615.2" stroke="url(#ca10)" stroke-width="8.0"/>
<path d="M788.2 701.8 797.3 698.7 806.3 695.3 815.4 691.5 824.4 687.5 833.5 683.2 838.5 680.6 843.0 678.1 847.6 675.4 852.1 672.4 856.7 669.1 861.2 665.4 865.7 661.3 870.3 656.7 874.8 651.6 879.4 645.9 883.9 639.6 888.4 632.5 893.0 624.7 897.5 615.2" stroke="url(#ca11)" stroke-width="8.0"/>
<path d="M788.2 705.6 799.0 702.0 809.8 698.1 820.5 693.8 831.3 689.0 842.1 683.8 847.1 681.2 851.6 678.7 856.2 675.9 860.7 672.9 865.2 669.5 869.8 665.7 874.3 661.6 878.9 656.9 883.4 651.8 887.9 646.0 892.5 639.6 897.0 632.6 901.5 624.8 906.1 615.2" stroke="url(#ca12)" stroke-width="8.0"/>
<path d="M788.2 709.2 800.7 705.3 813.2 700.9 825.7 696.0 838.2 690.6 850.7 684.5 855.7 681.9 860.2 679.3 864.7 676.4 869.3 673.3 873.8 669.9 878.3 666.1 882.9 661.8 887.4 657.1 892.0 651.9 896.5 646.1 901.0 639.7 905.6 632.6 910.1 624.8 914.7 615.2" stroke="url(#ca13)" stroke-width="8.0"/>
<path d="M788.2 712.7 802.4 708.5 816.6 703.7 830.8 698.2 845.0 692.1 859.2 685.2 864.2 682.5 868.8 679.8 873.3 676.9 877.8 673.8 882.4 670.3 886.9 666.4 891.5 662.1 896.0 657.3 900.5 652.1 905.1 646.2 909.6 639.8 914.2 632.7 918.7 624.9 923.2 615.2" stroke="url(#ca14)" stroke-width="8.0"/>
<path d="M788.2 716.1 804.1 711.7 820.0 706.5 836.0 700.5 851.9 693.6 867.8 685.8 872.8 683.1 877.3 680.4 881.9 677.4 886.4 674.2 891.0 670.6 895.5 666.7 900.0 662.3 904.6 657.5 909.1 652.2 913.6 646.3 918.2 639.8 922.7 632.7 927.3 624.9 931.8 615.2" stroke="url(#ca15)" stroke-width="8.0"/>
<path d="M788.2 719.5 805.8 714.8 823.5 709.2 841.1 702.7 858.7 695.1 876.4 686.4 881.4 683.6 885.9 680.9 890.5 677.9 895.0 674.6 899.5 671.0 904.1 667.0 908.6 662.6 913.1 657.7 917.7 652.3 922.2 646.4 926.8 639.9 931.3 632.8 935.8 624.9 940.4 615.2" stroke="url(#ca16)" stroke-width="8.0"/>
<path d="M788.2 722.3 807.6 717.4 826.9 711.6 846.2 704.6 865.6 696.4 885.0 686.9 890.0 684.0 894.5 681.3 899.0 678.2 903.6 674.9 908.1 671.2 912.6 667.2 917.2 662.8 921.7 657.8 926.3 652.4 930.8 646.5 935.3 640.0 939.9 632.8 944.4 625.0 949.0 615.2" stroke="url(#ca17)" stroke-width="8.0"/>
<path d="M788.2 724.0 809.3 719.1 830.3 713.1 851.4 705.8 872.5 697.1 893.5 686.8 898.5 684.0 903.1 681.2 907.6 678.2 912.1 674.8 916.7 671.2 921.2 667.2 925.8 662.7 930.3 657.8 934.8 652.4 939.4 646.5 943.9 639.9 948.4 632.8 953.0 625.0 957.5 615.2" stroke="url(#ca18)" stroke-width="8.0"/>
<path d="M788.2 725.5 811.0 720.7 833.8 714.6 856.5 707.0 879.3 697.8 902.1 686.7 907.1 683.9 911.6 681.1 916.2 678.1 920.7 674.8 925.3 671.2 929.8 667.1 934.3 662.7 938.9 657.8 943.4 652.4 947.9 646.5 952.5 639.9 957.0 632.8 961.6 625.0 966.1 615.2" stroke="url(#ca19)" stroke-width="8.0"/>
<path d="M788.2 726.9 812.7 722.1 837.2 715.9 861.7 708.1 886.2 698.4 910.7 686.6 915.7 683.8 920.2 681.1 924.7 678.1 929.3 674.7 933.8 671.1 938.4 667.1 942.9 662.7 947.4 657.8 952.0 652.4 956.5 646.5 961.1 639.9 965.6 632.8 970.1 625.0 974.7 615.2" stroke="url(#ca20)" stroke-width="8.0"/>
<path d="M788.2 728.1 814.4 723.4 840.6 717.2 866.8 709.2 893.0 699.1 919.2 686.6 924.2 683.8 928.8 681.0 933.3 678.0 937.9 674.7 942.4 671.1 946.9 667.1 951.5 662.6 956.0 657.8 960.6 652.4 965.1 646.4 969.6 639.9 974.2 632.8 978.7 624.9 983.2 615.2" stroke="url(#ca21)" stroke-width="8.0"/>
<path d="M788.2 729.1 816.1 724.6 844.0 718.5 872.0 710.3 899.9 699.7 927.8 686.5 932.8 683.7 937.4 680.9 941.9 677.9 946.4 674.7 951.0 671.0 955.5 667.0 960.0 662.6 964.6 657.7 969.1 652.4 973.7 646.4 978.2 639.9 982.7 632.8 987.3 624.9 991.8 615.2" stroke="url(#ca22)" stroke-width="8.0"/>
<path d="M788.2 730.0 817.8 725.7 847.5 719.6 877.1 711.3 906.8 700.4 936.4 686.4 941.4 683.6 945.9 680.9 950.5 677.9 955.0 674.6 959.5 671.0 964.1 667.0 968.6 662.6 973.2 657.7 977.7 652.3 982.2 646.4 986.8 639.9 991.3 632.8 995.9 624.9 1000.4 615.2" stroke="url(#ca23)" stroke-width="8.0"/>
<path d="M788.2 730.7 819.6 726.7 850.9 720.7 882.3 712.2 913.6 701.0 945.0 686.4 950.0 683.6 954.5 680.8 959.0 677.8 963.6 674.6 968.1 670.9 972.7 667.0 977.2 662.6 981.7 657.7 986.3 652.3 990.8 646.4 995.3 639.9 999.9 632.8 1004.4 624.9 1009.0 615.2" stroke="url(#ca24)" stroke-width="8.0"/>
<path d="M788.2 731.0 821.3 727.3 854.3 721.4 887.4 713.0 920.5 701.4 953.5 686.2 958.5 683.4 963.1 680.7 967.6 677.7 972.2 674.4 976.7 670.8 981.2 666.9 985.8 662.5 990.3 657.6 994.8 652.3 999.4 646.4 1003.9 639.9 1008.5 632.7 1013.0 624.9 1017.5 615.2" stroke="url(#ca25)" stroke-width="8.0"/>
<path d="M788.2 730.8 823.0 727.4 857.8 721.9 892.5 713.5 927.3 701.7 962.1 685.9 967.1 683.1 971.7 680.4 976.2 677.5 980.7 674.2 985.3 670.7 989.8 666.7 994.3 662.4 998.9 657.5 1003.4 652.2 1008.0 646.3 1012.5 639.8 1017.0 632.7 1021.6 624.9 1026.1 615.2" stroke="url(#ca26)" stroke-width="8.0"/>
<path d="M788.2 730.5 824.7 727.4 861.2 722.2 897.7 713.9 934.2 702.0 970.7 685.6 975.7 682.8 980.2 680.1 984.8 677.2 989.3 674.0 993.8 670.5 998.4 666.6 1002.9 662.2 1007.5 657.5 1012.0 652.1 1016.5 646.3 1021.1 639.8 1025.6 632.7 1030.1 624.9 1034.7 615.2" stroke="url(#ca27)" stroke-width="8.0"/>
<path d="M788.2 730.0 826.4 727.3 864.6 722.4 902.8 714.3 941.0 702.2 979.3 685.2 984.3 682.5 988.8 679.9 993.3 677.0 997.9 673.8 1002.4 670.3 1007.0 666.4 1011.5 662.1 1016.0 657.4 1020.6 652.1 1025.1 646.2 1029.6 639.8 1034.2 632.7 1038.7 624.9 1043.3 615.2" stroke="url(#ca28)" stroke-width="8.0"/>
<path d="M788.2 729.4 828.1 727.1 868.1 722.5 908.0 714.6 947.9 702.4 987.8 684.9 992.8 682.2 997.4 679.6 1001.9 676.7 1006.4 673.6 1011.0 670.1 1015.5 666.3 1020.1 662.0 1024.6 657.3 1029.1 652.0 1033.7 646.2 1038.2 639.7 1042.8 632.6 1047.3 624.8 1051.8 615.2" stroke="url(#ca29)" stroke-width="8.0"/>
<path d="M788.2 728.7 829.8 726.7 871.5 722.5 913.1 714.8 954.8 702.6 996.4 684.6 1001.4 681.9 1005.9 679.3 1010.5 676.5 1015.0 673.4 1019.6 669.9 1024.1 666.1 1028.6 661.9 1033.2 657.2 1037.7 651.9 1042.3 646.1 1046.8 639.7 1051.3 632.6 1055.9 624.8 1060.4 615.2" stroke="url(#ca30)" stroke-width="8.0"/>
<path d="M788.2 727.9 831.6 726.2 874.9 722.4 918.3 715.0 961.6 702.7 1005.0 684.3 1010.0 681.6 1014.5 679.0 1019.1 676.2 1023.6 673.2 1028.1 669.7 1032.7 666.0 1037.2 661.7 1041.7 657.1 1046.3 651.9 1050.8 646.1 1055.4 639.7 1059.9 632.6 1064.4 624.8 1069.0 615.2" stroke="url(#ca31)" stroke-width="8.0"/>
<path d="M788.2 727.1 833.3 725.7 878.3 722.2 923.4 715.1 968.5 702.8 1013.6 683.9 1018.6 681.3 1023.1 678.8 1027.6 676.0 1032.2 672.9 1036.7 669.6 1041.2 665.8 1045.8 661.6 1050.3 657.0 1054.9 651.8 1059.4 646.0 1063.9 639.6 1068.5 632.6 1073.0 624.8 1077.6 615.2" stroke="url(#ca32)" stroke-width="8.0"/>
<path d="M788.2 726.2 835.0 725.0 881.8 721.9 928.6 715.1 975.3 702.9 1022.1 683.6 1027.1 681.0 1031.7 678.5 1036.2 675.7 1040.7 672.7 1045.3 669.4 1049.8 665.6 1054.4 661.5 1058.9 656.9 1063.4 651.7 1068.0 646.0 1072.5 639.6 1077.0 632.6 1081.6 624.8 1086.1 615.2" stroke="url(#ca33)" stroke-width="8.0"/>
<path d="M788.2 725.3 836.7 724.3 885.2 721.5 933.7 715.1 982.2 703.0 1030.7 683.3 1035.7 680.7 1040.2 678.2 1044.8 675.5 1049.3 672.5 1053.9 669.2 1058.4 665.5 1062.9 661.3 1067.5 656.8 1072.0 651.6 1076.5 645.9 1081.1 639.6 1085.6 632.5 1090.2 624.8 1094.7 615.2" stroke="url(#ca34)" stroke-width="8.0"/>
<path d="M788.2 724.4 814.2 726.4 839.2 732.9 864.2 745.8 884.2 738.7 899.2 732.0 914.2 725.8 929.2 720.4 944.2 716.1 959.2 712.6 974.2 709.2 992.2 705.4 1010.2 702.0 1028.2 698.7 1048.2 695.8 1068.2 692.7 1090.2 689.2 1114.2 684.9 1139.2 682.2 1166.2 679.9 1194.2 678.3 1223.7 676.8" stroke="url(#cf0)"/>
<path d="M788.2 724.4 814.2 726.4 839.2 732.9 864.2 745.8 884.2 739.1 899.2 732.5 914.2 726.4 929.2 721.4 944.2 717.4 959.2 714.2 974.2 711.2 992.2 707.8 1010.2 704.7 1028.2 701.7 1048.2 699.1 1068.2 696.4 1090.2 693.2 1114.2 689.3 1139.2 687.0 1166.2 685.0 1194.2 683.7 1223.7 682.6" stroke="url(#cf1)"/>
<path d="M788.2 724.4 814.2 726.4 839.2 732.9 864.2 745.8 884.2 739.5 899.2 733.0 914.2 727.1 929.2 722.5 944.2 718.8 959.2 715.9 974.2 713.2 992.2 710.1 1010.2 707.3 1028.2 704.7 1048.2 702.5 1068.2 700.1 1090.2 697.3 1114.2 693.7 1139.2 691.7 1166.2 690.1 1194.2 689.1 1223.7 688.3" stroke="url(#cf2)"/>
<path d="M788.2 724.4 814.2 726.4 839.2 732.9 864.2 745.8 884.2 740.0 899.2 733.7 914.2 728.0 929.2 723.8 944.2 720.6 959.2 718.1 974.2 715.8 992.2 713.2 1010.2 710.9 1028.2 708.6 1048.2 706.8 1068.2 704.9 1090.2 702.5 1114.2 699.5 1139.2 697.9 1166.2 696.7 1194.2 696.2 1223.7 695.8" stroke="url(#cf3)"/>
<path d="M788.2 724.4 814.2 726.4 839.2 732.9 864.2 745.8 884.2 740.6 899.2 734.4 914.2 728.9 929.2 725.2 944.2 722.4 959.2 720.4 974.2 718.5 992.2 716.3 1010.2 714.4 1028.2 712.6 1048.2 711.3 1068.2 709.8 1090.2 707.9 1114.2 705.3 1139.2 704.2 1166.2 703.5 1194.2 703.4 1223.7 703.4" stroke="url(#cf4)"/>
<path d="M788.2 724.4 814.2 726.4 839.2 732.9 864.2 745.8 884.2 741.3 899.2 735.4 914.2 730.1 929.2 727.0 944.2 724.8 959.2 723.3 974.2 721.9 992.2 720.4 1010.2 719.1 1028.2 717.8 1048.2 717.0 1068.2 716.1 1090.2 714.8 1114.2 712.8 1139.2 712.3 1166.2 712.1 1194.2 712.5 1223.7 713.0" stroke="url(#cf5)"/>
<path d="M788.2 724.4 814.2 726.4 839.2 732.9 864.2 745.8 884.2 742.0 899.2 736.3 914.2 731.4 929.2 729.0 944.2 727.3 959.2 726.4 974.2 725.5 992.2 724.6 1010.2 723.9 1028.2 723.2 1048.2 723.0 1068.2 722.5 1090.2 721.8 1114.2 720.5 1139.2 720.5 1166.2 720.9 1194.2 721.8 1223.7 722.8" stroke="url(#cf6)"/>
<path d="M788.2 724.4 814.2 726.4 839.2 732.9 864.2 745.8 884.2 742.8 899.2 737.5 914.2 732.9 929.2 731.2 944.2 730.3 959.2 729.9 974.2 729.7 992.2 729.5 1010.2 729.4 1028.2 729.3 1048.2 729.8 1068.2 730.0 1090.2 729.9 1114.2 729.3 1139.2 730.0 1166.2 731.0 1194.2 732.4 1223.7 733.9" stroke="url(#cf7)"/>
<path d="M788.2 724.4 814.2 726.4 839.2 732.9 864.2 745.8 884.2 743.6 899.2 738.6 914.2 734.5 929.2 733.5 944.2 733.3 959.2 733.7 974.2 734.1 992.2 734.6 1010.2 735.2 1028.2 735.7 1048.2 736.8 1068.2 737.7 1090.2 738.3 1114.2 738.4 1139.2 739.7 1166.2 741.2 1194.2 743.2 1223.7 745.3" stroke="url(#cf8)"/>
<path d="M788.2 724.4 814.2 726.4 839.2 732.9 864.2 745.8 884.2 744.4 899.2 739.9 914.2 736.3 929.2 736.0 944.2 736.5 959.2 737.6 974.2 738.7 992.2 739.9 1010.2 741.2 1028.2 742.5 1048.2 744.2 1068.2 745.7 1090.2 747.0 1114.2 747.8 1139.2 749.7 1166.2 751.9 1194.2 754.4 1223.7 756.9" stroke="url(#cf9)"/>
<path d="M788.2 724.4 814.2 726.4 839.2 732.9 864.2 745.8 884.2 745.2 899.2 741.2 914.2 738.1 929.2 738.6 944.2 739.9 959.2 741.6 974.2 743.4 992.2 745.5 1010.2 747.5 1028.2 749.4 1048.2 751.8 1068.2 753.9 1090.2 755.9 1114.2 757.3 1139.2 759.9 1166.2 762.6 1194.2 765.6 1223.7 768.6" stroke="url(#cf10)"/>
<path d="M788.2 724.4 814.2 726.4 839.2 732.9 864.2 745.8 884.2 746.0 899.2 742.5 914.2 739.9 929.2 741.2 944.2 743.1 959.2 745.6 974.2 748.0 992.2 750.8 1010.2 753.5 1028.2 756.0 1048.2 759.1 1068.2 761.8 1090.2 764.4 1114.2 766.5 1139.2 769.6 1166.2 772.8 1194.2 776.3 1223.7 779.7" stroke="url(#cf11)"/>
<path d="M788.2 724.4 814.2 726.4 839.2 732.9 864.2 745.8 884.2 746.8 899.2 743.8 914.2 741.7 929.2 743.8 944.2 746.4 959.2 749.6 974.2 752.7 992.2 756.2 1010.2 759.6 1028.2 762.7 1048.2 766.4 1068.2 769.7 1090.2 772.8 1114.2 775.6 1139.2 779.2 1166.2 782.9 1194.2 786.8 1223.7 790.5" stroke="url(#cf12)"/>
<path d="M788.2 724.4 814.2 726.4 839.2 732.9 864.2 745.8 884.2 747.6 899.2 745.1 914.2 743.7 929.2 746.5 944.2 749.9 959.2 753.8 974.2 757.6 992.2 761.9 1010.2 765.9 1028.2 769.7 1048.2 774.0 1068.2 777.9 1090.2 781.6 1114.2 785.0 1139.2 789.1 1166.2 793.4 1194.2 797.6 1223.7 801.7" stroke="url(#cf13)"/>
<path d="M788.2 724.4 814.2 726.4 839.2 732.9 864.2 745.8 884.2 748.4 899.2 746.5 914.2 745.8 929.2 749.3 944.2 753.6 959.2 758.2 974.2 762.7 992.2 767.7 1010.2 772.5 1028.2 776.9 1048.2 781.8 1068.2 786.3 1090.2 790.6 1114.2 794.6 1139.2 799.2 1166.2 803.9 1194.2 808.6 1223.7 812.9" stroke="url(#cf14)"/>
<path d="M788.2 724.4 814.2 726.4 839.2 732.9 864.2 745.8 884.2 749.1 899.2 747.8 914.2 747.7 929.2 752.0 944.2 757.0 959.2 762.2 974.2 767.4 992.2 773.2 1010.2 778.6 1028.2 783.6 1048.2 789.1 1068.2 794.0 1090.2 798.9 1114.2 803.5 1139.2 808.5 1166.2 813.6 1194.2 818.6 1223.7 823.1" stroke="url(#cf15)"/>
<path d="M788.2 724.4 814.2 726.4 839.2 732.9 864.2 745.8 884.2 749.9 899.2 749.1 914.2 749.7 929.2 754.7 944.2 760.3 959.2 766.3 974.2 772.1 992.2 778.6 1010.2 784.6 1028.2 790.1 1048.2 796.1 1068.2 801.6 1090.2 807.0 1114.2 812.0 1139.2 817.5 1166.2 822.9 1194.2 828.2 1223.7 832.9" stroke="url(#cf16)"/>
<path d="M788.2 724.4 814.2 726.4 839.2 732.9 864.2 745.8 884.2 750.5 899.2 750.4 914.2 751.6 929.2 757.3 944.2 763.5 959.2 770.2 974.2 776.6 992.2 783.8 1010.2 790.4 1028.2 796.4 1048.2 802.9 1068.2 808.9 1090.2 814.7 1114.2 820.2 1139.2 826.1 1166.2 831.8 1194.2 837.3 1223.7 842.2" stroke="url(#cf17)"/>
<path d="M788.2 724.4 814.2 726.4 839.2 732.9 864.2 745.8 884.2 751.2 899.2 751.7 914.2 753.5 929.2 759.8 944.2 766.8 959.2 774.0 974.2 781.1 992.2 788.9 1010.2 796.1 1028.2 802.6 1048.2 809.6 1068.2 816.0 1090.2 822.3 1114.2 828.3 1139.2 834.5 1166.2 840.5 1194.2 846.1 1223.7 851.2" stroke="url(#cf18)"/>
<path d="M788.2 724.4 814.2 726.4 839.2 732.9 864.2 745.8 884.2 751.8 899.2 752.9 914.2 755.3 929.2 762.3 944.2 769.9 959.2 777.7 974.2 785.4 992.2 793.8 1010.2 801.6 1028.2 808.6 1048.2 816.0 1068.2 822.8 1090.2 829.6 1114.2 835.9 1139.2 842.4 1166.2 848.7 1194.2 854.5 1223.7 859.6" stroke="url(#cf19)"/>
<path d="M788.2 724.4 814.2 726.4 839.2 732.9 864.2 745.8 884.2 752.4 899.2 754.1 914.2 757.1 929.2 764.7 944.2 772.9 959.2 781.4 974.2 789.6 992.2 798.7 1010.2 806.9 1028.2 814.4 1048.2 822.3 1068.2 829.5 1090.2 836.6 1114.2 843.3 1139.2 850.1 1166.2 856.6 1194.2 862.6 1223.7 867.8" stroke="url(#cf20)"/>
<path d="M788.2 724.4 814.2 726.4 839.2 732.9 864.2 745.8 884.2 752.9 899.2 755.2 914.2 758.9 929.2 767.1 944.2 775.9 959.2 784.9 974.2 793.7 992.2 803.4 1010.2 812.1 1028.2 820.0 1048.2 828.3 1068.2 835.9 1090.2 843.4 1114.2 850.4 1139.2 857.5 1166.2 864.2 1194.2 870.3 1223.7 875.5" stroke="url(#cf21)"/>
<path d="M788.2 724.4 814.2 726.4 839.2 732.9 864.2 745.8 884.2 753.5 899.2 756.4 914.2 760.7 929.2 769.5 944.2 778.8 959.2 788.4 974.2 797.7 992.2 808.0 1010.2 817.2 1028.2 825.5 1048.2 834.2 1068.2 842.1 1090.2 850.0 1114.2 857.4 1139.2 864.7 1166.2 871.5 1194.2 877.7 1223.7 883.0" stroke="url(#cf22)"/>
<path d="M788.2 724.4 814.2 726.4 839.2 732.9 864.2 745.8 884.2 754.0 899.2 757.5 914.2 762.4 929.2 771.7 944.2 781.7 959.2 791.8 974.2 801.6 992.2 812.4 1010.2 822.1 1028.2 830.8 1048.2 839.9 1068.2 848.1 1090.2 856.3 1114.2 864.0 1139.2 871.5 1166.2 878.5 1194.2 884.8 1223.7 890.0" stroke="url(#cf23)"/>
<path d="M788.2 724.4 814.2 726.4 839.2 732.9 864.2 745.8 884.2 754.5 899.2 758.5 914.2 764.1 929.2 773.9 944.2 784.4 959.2 795.0 974.2 805.3 992.2 816.7 1010.2 826.8 1028.2 835.8 1048.2 845.3 1068.2 853.9 1090.2 862.3 1114.2 870.3 1139.2 878.0 1166.2 885.2 1194.2 891.5 1223.7 896.8" stroke="url(#cf24)"/>
<path d="M788.2 724.4 814.2 726.4 839.2 732.9 864.2 745.8 884.2 754.9 899.2 759.6 914.2 765.8 929.2 776.2 944.2 787.2 959.2 798.3 974.2 809.1 992.2 821.0 1010.2 831.5 1028.2 841.0 1048.2 850.8 1068.2 859.7 1090.2 868.4 1114.2 876.7 1139.2 884.6 1166.2 891.9 1194.2 898.3 1223.7 903.5" stroke="url(#cf25)"/>
<path d="M788.2 724.4 814.2 726.4 839.2 732.9 864.2 745.8 884.2 755.4 899.2 760.7 914.2 767.5 929.2 778.4 944.2 790.0 959.2 801.7 974.2 813.0 992.2 825.4 1010.2 836.4 1028.2 846.2 1048.2 856.4 1068.2 865.6 1090.2 874.6 1114.2 883.1 1139.2 891.2 1166.2 898.6 1194.2 905.0 1223.7 910.2" stroke="url(#cf26)"/>
<path d="M788.2 724.4 814.2 726.4 839.2 732.9 864.2 745.8 884.2 755.9 899.2 761.7 914.2 769.1 929.2 780.5 944.2 792.5 959.2 804.7 974.2 816.5 992.2 829.4 1010.2 840.8 1028.2 850.9 1048.2 861.4 1068.2 870.9 1090.2 880.2 1114.2 889.0 1139.2 897.2 1166.2 904.7 1194.2 911.1 1223.7 916.2" stroke="url(#cf27)"/>
<path d="M788.2 724.4 814.2 726.4 839.2 732.9 864.2 745.8 884.2 756.2 899.2 762.6 914.2 770.5 929.2 782.4 944.2 794.8 959.2 807.4 974.2 819.5 992.2 832.9 1010.2 844.6 1028.2 855.1 1048.2 865.8 1068.2 875.5 1090.2 885.0 1114.2 894.0 1139.2 902.4 1166.2 910.0 1194.2 916.4 1223.7 921.4" stroke="url(#cf28)"/>
<path d="M788.2 724.4 814.2 726.4 839.2 732.9 864.2 745.8 884.2 756.6 899.2 763.5 914.2 772.0 929.2 784.2 944.2 797.1 959.2 810.1 974.2 822.7 992.2 836.4 1010.2 848.5 1028.2 859.3 1048.2 870.3 1068.2 880.2 1090.2 889.9 1114.2 899.1 1139.2 907.6 1166.2 915.3 1194.2 921.7 1223.7 926.7" stroke="url(#cf29)"/>
<path d="M788.2 724.4 814.2 726.4 839.2 732.9 864.2 745.8 884.2 757.0 899.2 764.4 914.2 773.4 929.2 786.1 944.2 799.4 959.2 812.9 974.2 825.8 992.2 840.0 1010.2 852.5 1028.2 863.5 1048.2 874.8 1068.2 884.9 1090.2 894.9 1114.2 904.2 1139.2 912.8 1166.2 920.6 1194.2 927.0 1223.7 931.9" stroke="url(#cf30)"/>
<path d="M788.2 724.4 814.2 726.4 839.2 732.9 864.2 745.8 884.2 757.4 899.2 765.2 914.2 774.8 929.2 787.9 944.2 801.6 959.2 815.5 974.2 828.8 992.2 843.5 1010.2 856.2 1028.2 867.5 1048.2 879.0 1068.2 889.4 1090.2 899.6 1114.2 909.1 1139.2 917.8 1166.2 925.6 1194.2 932.0 1223.7 936.8" stroke="url(#cf31)"/>
<path d="M788.2 724.4 814.2 726.4 839.2 732.9 864.2 745.8 884.2 757.7 899.2 766.0 914.2 776.1 929.2 789.5 944.2 803.7 959.2 817.9 974.2 831.6 992.2 846.6 1010.2 859.7 1028.2 871.2 1048.2 882.9 1068.2 893.5 1090.2 903.9 1114.2 913.6 1139.2 922.4 1166.2 930.2 1194.2 936.5 1223.7 941.3" stroke="url(#cf32)"/>
<path d="M788.2 724.4 814.2 726.4 839.2 732.9 864.2 745.8 884.2 758.0 899.2 766.8 914.2 777.3 929.2 791.1 944.2 805.6 959.2 820.2 974.2 834.3 992.2 849.6 1010.2 863.0 1028.2 874.7 1048.2 886.7 1068.2 897.5 1090.2 908.0 1114.2 917.8 1139.2 926.7 1166.2 934.5 1194.2 940.9 1223.7 945.5" stroke="url(#cf33)"/>
<path d="M788.2 724.4 814.2 726.4 839.2 732.9 864.2 745.8 884.2 758.3 899.2 767.5 914.2 778.4 929.2 792.6 944.2 807.4 959.2 822.3 974.2 836.7 992.2 852.3 1010.2 865.9 1028.2 877.9 1048.2 890.1 1068.2 901.0 1090.2 911.7 1114.2 921.6 1139.2 930.6 1166.2 938.5 1194.2 944.8 1223.7 949.3" stroke="url(#cf34)"/>
<path d="M788.2 724.4 814.2 726.4 839.2 732.9 864.2 745.8 884.2 758.5 899.2 768.2 914.2 779.5 929.2 794.0 944.2 809.1 959.2 824.4 974.2 839.0 992.2 855.0 1010.2 868.9 1028.2 881.1 1048.2 893.4 1068.2 904.5 1090.2 915.3 1114.2 925.4 1139.2 934.4 1166.2 942.3 1194.2 948.6 1223.7 953.0" stroke="url(#cf35)"/>
<path d="M788.2 724.4 814.2 726.4 839.2 732.9 864.2 745.8 884.2 758.8 899.2 768.8 914.2 780.6 929.2 795.3 944.2 810.8 959.2 826.3 974.2 841.2 992.2 857.5 1010.2 871.6 1028.2 884.0 1048.2 896.5 1068.2 907.8 1090.2 918.7 1114.2 928.9 1139.2 938.0 1166.2 945.9 1194.2 952.1 1223.7 956.5" stroke="url(#cf36)"/>
<path d="M788.2 724.4 814.2 726.4 839.2 732.9 864.2 745.8 884.2 759.0 899.2 769.4 914.2 781.6 929.2 796.6 944.2 812.4 959.2 828.2 974.2 843.4 992.2 860.0 1010.2 874.3 1028.2 886.9 1048.2 899.6 1068.2 911.0 1090.2 922.0 1114.2 932.3 1139.2 941.5 1166.2 949.4 1194.2 955.6 1223.7 959.9" stroke="url(#cf37)"/>
<path d="M788.2 724.4 814.2 726.4 839.2 732.9 864.2 745.8 884.2 759.3 899.2 770.0 914.2 782.6 929.2 797.9 944.2 813.9 959.2 830.0 974.2 845.5 992.2 862.3 1010.2 876.8 1028.2 889.6 1048.2 902.4 1068.2 913.9 1090.2 925.1 1114.2 935.5 1139.2 944.7 1166.2 952.6 1194.2 958.8 1223.7 963.0" stroke="url(#cf38)"/>
<path d="M788.2 724.4 814.2 726.4 839.2 732.9 864.2 745.8 884.2 759.5 899.2 770.6 914.2 783.5 929.2 799.1 944.2 815.4 959.2 831.7 974.2 847.5 992.2 864.6 1010.2 879.3 1028.2 892.3 1048.2 905.2 1068.2 916.9 1090.2 928.1 1114.2 938.7 1139.2 947.9 1166.2 955.8 1194.2 961.9 1223.7 966.1" stroke="url(#cf39)"/>
<path d="M788.2 724.4 814.2 726.4 839.2 732.9 864.2 745.8 884.2 759.7 899.2 771.1 914.2 784.4 929.2 800.2 944.2 816.7 959.2 833.4 974.2 849.3 992.2 866.7 1010.2 881.6 1028.2 894.7 1048.2 907.8 1068.2 919.6 1090.2 931.0 1114.2 941.6 1139.2 950.8 1166.2 958.8 1194.2 964.8 1223.7 968.9" stroke="url(#cf40)"/>
<path d="M788.2 724.4 814.2 726.4 839.2 732.9 864.2 745.8 884.2 759.9 899.2 771.7 914.2 785.3 929.2 801.3 944.2 818.1 959.2 835.0 974.2 851.2 992.2 868.8 1010.2 883.9 1028.2 897.1 1048.2 910.4 1068.2 922.3 1090.2 933.7 1114.2 944.4 1139.2 953.7 1166.2 961.7 1194.2 967.7 1223.7 971.7" stroke="url(#cf41)"/>
<path d="M788.2 724.4 814.2 726.4 839.2 732.9 864.2 745.8 884.2 760.1 899.2 772.2 914.2 786.1 929.2 802.4 944.2 819.4 959.2 836.5 974.2 852.9 992.2 870.7 1010.2 886.1 1028.2 899.5 1048.2 912.8 1068.2 924.8 1090.2 936.4 1114.2 947.1 1139.2 956.5 1166.2 964.4 1194.2 970.4 1223.7 974.3" stroke="url(#cf42)"/>
<path d="M788.2 724.4 814.2 726.4 839.2 732.9 864.2 745.8 884.2 760.3 899.2 772.7 914.2 786.9 929.2 803.4 944.2 820.7 959.2 838.0 974.2 854.7 992.2 872.7 1010.2 888.2 1028.2 901.7 1048.2 915.3 1068.2 927.3 1090.2 939.0 1114.2 949.8 1139.2 959.2 1166.2 967.2 1194.2 973.1 1223.7 976.9" stroke="url(#cf43)"/>
<path d="M788.2 724.4 814.2 726.4 839.2 732.9 864.2 745.8 884.2 760.4 899.2 773.1 914.2 787.7 929.2 804.4 944.2 821.9 959.2 839.4 974.2 856.3 992.2 874.6 1010.2 890.2 1028.2 903.9 1048.2 917.5 1068.2 929.7 1090.2 941.5 1114.2 952.4 1139.2 961.8 1166.2 969.7 1194.2 975.6 1223.7 979.3" stroke="url(#cf44)"/>
<path d="M788.2 724.4 814.2 726.4 839.2 732.9 864.2 745.8 884.2 760.6 899.2 773.6 914.2 788.5 929.2 805.4 944.2 823.1 959.2 840.9 974.2 857.9 992.2 876.4 1010.2 892.2 1028.2 906.0 1048.2 919.8 1068.2 932.1 1090.2 943.9 1114.2 954.9 1139.2 964.3 1166.2 972.3 1194.2 978.1 1223.7 981.7" stroke="url(#cf45)"/>
<path d="M788.2 724.4 814.2 726.4 839.2 732.9 864.2 745.8 884.2 760.8 899.2 774.0 914.2 789.2 929.2 806.3 944.2 824.2 959.2 842.2 974.2 859.4 992.2 878.1 1010.2 894.1 1028.2 908.0 1048.2 921.8 1068.2 934.2 1090.2 946.1 1114.2 957.2 1139.2 966.6 1166.2 974.5 1194.2 980.3 1223.7 983.9" stroke="url(#cf46)"/>
<path d="M788.2 724.4 814.2 726.4 839.2 732.9 864.2 745.8 884.2 760.9 899.2 774.5 914.2 789.9 929.2 807.2 944.2 825.3 959.2 843.5 974.2 860.9 992.2 879.8 1010.2 896.0 1028.2 910.0 1048.2 923.9 1068.2 936.4 1090.2 948.4 1114.2 959.5 1139.2 969.0 1166.2 976.9 1194.2 982.7 1223.7 986.1" stroke="url(#cf47)"/>
<path d="M788.2 724.4 814.2 726.4 839.2 732.9 864.2 745.8 884.2 761.2 899.2 775.2 914.2 791.1 929.2 808.7 944.2 827.1 959.2 845.6 974.2 863.3 992.2 882.5 1010.2 898.8 1028.2 913.1 1048.2 927.2 1068.2 939.8 1090.2 951.9 1114.2 963.1 1139.2 972.6 1166.2 980.5 1194.2 986.2 1223.7 989.5" stroke="url(#cf48)"/>
<path d="M788.2 724.4 814.2 726.4 839.2 732.9 864.2 745.8 884.2 761.4 899.2 775.8 914.2 792.2 929.2 810.1 944.2 828.8 959.2 847.6 974.2 865.7 992.2 885.1 1010.2 901.8 1028.2 916.2 1048.2 930.5 1068.2 943.2 1090.2 955.4 1114.2 966.7 1139.2 976.3 1166.2 984.1 1194.2 989.7 1223.7 992.9" stroke="url(#cf49)"/>
</g>
<g clip-path="url(#clc)">
<path d="M788.2 675.4 798.3 675.8 808.3 677.9 818.4 680.6 828.5 685.6 838.5 692.4 848.6 700.5 858.7 710.4 868.7 721.1 878.8 733.1 888.9 747.8 898.9 761.9 909.0 774.4 919.1 786.5 929.1 799.2 939.2 812.0 939.2 826.3 929.1 813.7 919.1 801.6 909.0 790.0 898.9 779.3 888.9 769.4 878.8 760.5 868.7 752.6 858.7 746.0 848.6 740.6 838.5 736.3 828.5 733.1 818.4 730.8 808.3 729.3 798.3 728.4 788.2 728.1Z" fill="#3a0c52"/>
<path d="M788.2 675.4 798.3 675.8 808.3 677.9 818.4 680.6 828.5 685.6 838.5 692.4 848.6 700.5 858.7 710.4 868.7 721.1 878.8 733.1 888.9 747.8 898.9 761.9 909.0 774.4 919.1 786.5 929.1 799.2 939.2 812.0 939.2 826.3 929.1 813.7 919.1 801.6 909.0 790.0 898.9 779.3 888.9 769.4 878.8 760.5 868.7 752.6 858.7 746.0 848.6 740.6 838.5 736.3 828.5 733.1 818.4 730.8 808.3 729.3 798.3 728.4 788.2 728.1Z" fill="url(#hatchc)"/>
<path d="M788.2 718.1 803.2 718.4 818.2 720.2 833.3 723.6 848.3 729.2 863.3 737.4 878.3 748.3 893.3 761.7 908.3 777.9 923.4 795.8 938.4 815.0 953.4 834.5 968.4 853.5 983.4 871.3 998.4 887.1 1013.5 901.0 1028.5 913.5 1043.5 924.9 1058.5 935.2 1073.5 944.6 1088.5 953.1 1103.6 960.8 1118.6 967.7 1133.6 973.8 1148.6 979.0 1163.6 983.4 1178.6 987.1 1193.7 990.0 1208.7 992.2 1223.7 993.6 1223.7 996.6 1208.7 995.4 1193.7 993.4 1178.6 990.7 1163.6 987.2 1148.6 983.0 1133.6 978.0 1118.6 972.2 1103.6 965.7 1088.5 958.3 1073.5 950.0 1058.5 940.9 1043.5 930.9 1028.5 920.1 1013.5 908.2 998.4 894.9 983.4 879.7 968.4 862.5 953.4 844.1 938.4 825.2 923.4 806.7 908.3 789.3 893.3 773.6 878.3 760.1 863.3 748.9 848.3 740.4 833.3 734.5 818.2 730.8 803.2 728.8 788.2 728.1Z" fill="#07030f"/>
<path d="M788.2 675.4 798.3 675.8 808.3 677.9 818.4 680.6 828.5 685.6 838.5 692.4 848.6 700.5 858.7 710.4 868.7 721.1 878.8 733.1 888.9 747.8 898.9 761.9" fill="none" stroke="#05020a" stroke-width="4"/>
</g>
<g clip-path="url(#cld)" stroke-width="7.4" fill="none">
<path d="M1334.1 722.3 1350.6 722.0 1367.0 721.7 1383.5 721.3 1399.9 720.6 1416.4 719.7 1432.8 718.5 1449.3 716.8 1465.7 714.6 1482.2 711.8 1498.6 708.4 1515.1 704.2 1515.1 712.3 1498.7 716.1 1482.2 719.9 1465.8 725.7 1449.4 732.0 1433.0 739.5 1416.5 746.1 1400.1 741.7 1400.1 706.0 1386.9 694.4 1373.7 685.3 1360.5 679.2 1347.3 676.4 1334.1 675.4Z" fill="url(#dsol)" stroke="none"/>
<path d="M1334.1 632.4 1323.3 643.9 1312.5 650.7 1301.7 655.6 1290.9 659.7 1280.1 663.0 1285.1 661.6 1289.6 660.1 1294.2 658.6 1298.7 656.9 1303.3 655.0 1307.8 653.0 1312.3 650.7 1316.9 648.3 1321.4 645.3 1325.9 641.6 1330.5 636.9 1335.0 631.1 1339.6 623.8 1344.1 615.2" stroke="url(#da0)" stroke-width="7.4"/>
<path d="M1334.1 638.0 1324.2 646.7 1314.3 652.4 1304.4 656.8 1294.5 660.6 1284.5 663.6 1289.5 662.2 1294.1 660.7 1298.6 659.1 1303.2 657.3 1307.7 655.4 1312.2 653.4 1316.8 651.1 1321.3 648.6 1325.8 645.5 1330.4 641.8 1334.9 637.0 1339.5 631.1 1344.0 623.8 1348.5 615.2" stroke="url(#da1)" stroke-width="7.4"/>
<path d="M1334.1 642.6 1325.1 649.3 1316.1 654.1 1307.0 658.0 1298.0 661.4 1289.0 664.2 1294.0 662.7 1298.5 661.2 1303.1 659.6 1307.6 657.8 1312.1 655.9 1316.7 653.8 1321.2 651.5 1325.7 648.9 1330.3 645.8 1334.8 641.9 1339.4 637.1 1343.9 631.2 1348.4 623.9 1353.0 615.2" stroke="url(#da2)" stroke-width="7.4"/>
<path d="M1334.1 646.5 1326.0 651.7 1317.8 655.7 1309.7 659.2 1301.6 662.3 1293.4 664.8 1298.4 663.3 1303.0 661.8 1307.5 660.1 1312.0 658.3 1316.6 656.3 1321.1 654.2 1325.7 651.9 1330.2 649.2 1334.7 646.0 1339.3 642.1 1343.8 637.2 1348.3 631.2 1352.9 623.9 1357.4 615.2" stroke="url(#da3)" stroke-width="7.4"/>
<path d="M1334.1 649.8 1326.9 653.9 1319.6 657.4 1312.4 660.4 1305.1 663.1 1297.9 665.4 1302.9 663.9 1307.4 662.3 1311.9 660.6 1316.5 658.7 1321.0 656.7 1325.6 654.6 1330.1 652.2 1334.6 649.5 1339.2 646.2 1343.7 642.2 1348.2 637.3 1352.8 631.3 1357.3 623.9 1361.9 615.2" stroke="url(#da4)" stroke-width="7.4"/>
<path d="M1334.1 652.8 1327.7 656.0 1321.4 659.0 1315.0 661.6 1308.7 663.9 1302.3 666.0 1307.3 664.4 1311.8 662.8 1316.4 661.0 1320.9 659.2 1325.5 657.1 1330.0 654.9 1334.5 652.6 1339.1 649.8 1343.6 646.5 1348.1 642.4 1352.7 637.4 1357.2 631.3 1361.8 623.9 1366.3 615.2" stroke="url(#da5)" stroke-width="7.4"/>
<path d="M1334.1 655.5 1328.6 658.1 1323.2 660.5 1317.7 662.8 1312.2 664.8 1306.7 666.6 1311.7 664.9 1316.3 663.3 1320.8 661.5 1325.4 659.6 1329.9 657.5 1334.4 655.3 1339.0 652.9 1343.5 650.1 1348.0 646.7 1352.6 642.5 1357.1 637.5 1361.7 631.3 1366.2 623.9 1370.7 615.2" stroke="url(#da6)" stroke-width="7.4"/>
<path d="M1334.1 658.9 1329.5 661.0 1324.9 663.1 1320.3 664.9 1315.8 666.7 1311.2 668.3 1316.2 666.5 1320.7 664.8 1325.3 662.9 1329.8 660.9 1334.3 658.8 1338.9 656.5 1343.4 653.9 1348.0 650.9 1352.5 647.3 1357.0 642.9 1361.6 637.7 1366.1 631.5 1370.6 624.0 1375.2 615.2" stroke="url(#da7)" stroke-width="7.4"/>
<path d="M1334.1 662.3 1330.4 664.0 1326.7 665.6 1323.0 667.2 1319.3 668.6 1315.6 670.0 1320.6 668.1 1325.2 666.3 1329.7 664.3 1334.2 662.2 1338.8 660.0 1343.3 657.6 1347.9 654.9 1352.4 651.7 1356.9 647.9 1361.5 643.3 1366.0 638.0 1370.5 631.6 1375.1 624.1 1379.6 615.2" stroke="url(#da8)" stroke-width="7.4"/>
<path d="M1334.1 665.7 1331.3 667.0 1328.5 668.2 1325.7 669.4 1322.9 670.6 1320.1 671.7 1325.1 669.7 1329.6 667.7 1334.1 665.7 1338.7 663.5 1343.2 661.2 1347.8 658.7 1352.3 655.8 1356.8 652.4 1361.4 648.4 1365.9 643.7 1370.4 638.2 1375.0 631.7 1379.5 624.2 1384.1 615.2" stroke="url(#da9)" stroke-width="7.4"/>
<path d="M1334.1 669.1 1332.2 670.0 1330.3 670.8 1328.3 671.6 1326.4 672.4 1324.5 673.2 1329.5 671.1 1334.0 669.1 1338.6 667.0 1343.1 664.8 1347.7 662.4 1352.2 659.7 1356.7 656.6 1361.3 653.1 1365.8 648.9 1370.3 644.0 1374.9 638.4 1379.4 631.8 1384.0 624.2 1388.5 615.2" stroke="url(#da10)" stroke-width="7.4"/>
<path d="M1334.1 672.2 1333.1 672.7 1332.0 673.1 1331.0 673.6 1330.0 674.0 1328.9 674.4 1333.9 672.3 1338.5 670.2 1343.0 668.1 1347.6 665.8 1352.1 663.3 1356.6 660.5 1361.2 657.3 1365.7 653.6 1370.3 649.3 1374.8 644.3 1379.3 638.5 1383.9 631.9 1388.4 624.3 1392.9 615.2" stroke="url(#da11)" stroke-width="7.4"/>
<path d="M1334.1 675.2 1334.0 675.3 1333.8 675.3 1333.7 675.4 1333.5 675.5 1333.4 675.5 1338.4 673.3 1342.9 671.2 1347.5 669.0 1352.0 666.6 1356.5 664.0 1361.1 661.1 1365.6 657.8 1370.2 654.0 1374.7 649.6 1379.2 644.5 1383.8 638.7 1388.3 632.0 1392.8 624.3 1397.4 615.2" stroke="url(#da12)" stroke-width="7.4"/>
<path d="M1334.1 678.2 1334.8 677.8 1335.6 677.5 1336.3 677.2 1337.1 676.9 1337.8 676.6 1342.8 674.3 1347.4 672.1 1351.9 669.9 1356.4 667.5 1361.0 664.8 1365.5 661.8 1370.1 658.3 1374.6 654.4 1379.1 649.9 1383.7 644.7 1388.2 638.8 1392.7 632.0 1397.3 624.4 1401.8 615.2" stroke="url(#da13)" stroke-width="7.4"/>
<path d="M1334.1 681.1 1335.7 680.4 1337.4 679.7 1339.0 679.0 1340.6 678.3 1342.3 677.6 1347.3 675.3 1351.8 673.1 1356.3 670.8 1360.9 668.3 1365.4 665.5 1370.0 662.4 1374.5 658.8 1379.0 654.8 1383.6 650.2 1388.1 644.9 1392.6 638.9 1397.2 632.1 1401.7 624.4 1406.3 615.2" stroke="url(#da14)" stroke-width="7.4"/>
<path d="M1334.1 684.0 1336.6 683.0 1339.1 681.9 1341.7 680.8 1344.2 679.7 1346.7 678.6 1351.7 676.2 1356.2 674.0 1360.8 671.6 1365.3 669.0 1369.9 666.2 1374.4 662.9 1378.9 659.3 1383.5 655.2 1388.0 650.4 1392.6 645.1 1397.1 639.0 1401.6 632.2 1406.2 624.5 1410.7 615.2" stroke="url(#da15)" stroke-width="7.4"/>
<path d="M1334.1 686.9 1337.5 685.5 1340.9 684.1 1344.3 682.6 1347.7 681.1 1351.1 679.5 1356.1 677.2 1360.7 674.9 1365.2 672.4 1369.8 669.8 1374.3 666.8 1378.8 663.5 1383.4 659.7 1387.9 655.5 1392.5 650.7 1397.0 645.3 1401.5 639.1 1406.1 632.3 1410.6 624.5 1415.1 615.2" stroke="url(#da16)" stroke-width="7.4"/>
<path d="M1334.1 689.8 1338.4 688.1 1342.7 686.3 1347.0 684.4 1351.3 682.5 1355.6 680.5 1360.6 678.1 1365.1 675.7 1369.7 673.2 1374.2 670.5 1378.7 667.4 1383.3 664.0 1387.8 660.2 1392.4 655.8 1396.9 650.9 1401.4 645.4 1406.0 639.3 1410.5 632.3 1415.0 624.6 1419.6 615.2" stroke="url(#da17)" stroke-width="7.4"/>
<path d="M1334.1 692.6 1339.3 690.6 1344.5 688.5 1349.7 686.2 1354.8 683.9 1360.0 681.5 1365.0 679.0 1369.6 676.6 1374.1 674.0 1378.6 671.2 1383.2 668.0 1387.7 664.5 1392.3 660.6 1396.8 656.2 1401.3 651.2 1405.9 645.6 1410.4 639.4 1414.9 632.4 1419.5 624.7 1424.0 615.2" stroke="url(#da18)" stroke-width="7.4"/>
<path d="M1334.1 694.9 1340.2 692.6 1346.2 690.2 1352.3 687.6 1358.4 684.9 1364.5 682.0 1369.5 679.5 1374.0 677.0 1378.5 674.4 1383.1 671.5 1387.6 668.4 1392.2 664.8 1396.7 660.8 1401.2 656.3 1405.8 651.3 1410.3 645.7 1414.9 639.4 1419.4 632.4 1423.9 624.7 1428.5 615.2" stroke="url(#da19)" stroke-width="7.4"/>
<path d="M1334.1 697.0 1341.1 694.4 1348.0 691.7 1355.0 688.8 1361.9 685.6 1368.9 682.3 1373.9 679.8 1378.4 677.4 1383.0 674.7 1387.5 671.8 1392.1 668.6 1396.6 665.0 1401.1 661.0 1405.7 656.4 1410.2 651.4 1414.8 645.8 1419.3 639.5 1423.8 632.5 1428.4 624.7 1432.9 615.2" stroke="url(#da20)" stroke-width="7.4"/>
<path d="M1334.1 699.1 1341.9 696.2 1349.8 693.2 1357.6 689.9 1365.5 686.4 1373.3 682.7 1378.3 680.1 1382.9 677.7 1387.4 675.0 1392.0 672.0 1396.5 668.8 1401.0 665.2 1405.6 661.1 1410.1 656.6 1414.7 651.5 1419.2 645.8 1423.7 639.5 1428.3 632.5 1432.8 624.7 1437.3 615.2" stroke="url(#da21)" stroke-width="7.4"/>
<path d="M1334.1 701.1 1342.8 698.0 1351.6 694.7 1360.3 691.1 1369.0 687.2 1377.8 683.0 1382.8 680.5 1387.3 678.0 1391.9 675.3 1396.4 672.3 1400.9 669.0 1405.5 665.3 1410.0 661.2 1414.6 656.7 1419.1 651.6 1423.6 645.9 1428.2 639.5 1432.7 632.5 1437.2 624.7 1441.8 615.2" stroke="url(#da22)" stroke-width="7.4"/>
<path d="M1334.1 703.0 1343.7 699.8 1353.4 696.2 1363.0 692.3 1372.6 688.0 1382.2 683.4 1387.2 680.8 1391.8 678.3 1396.3 675.5 1400.8 672.5 1405.4 669.2 1409.9 665.5 1414.5 661.4 1419.0 656.8 1423.5 651.6 1428.1 645.9 1432.6 639.6 1437.1 632.5 1441.7 624.8 1446.2 615.2" stroke="url(#da23)" stroke-width="7.4"/>
<path d="M1334.1 705.0 1344.6 701.5 1355.1 697.6 1365.6 693.4 1376.2 688.8 1386.7 683.7 1391.7 681.1 1396.2 678.6 1400.7 675.8 1405.3 672.8 1409.8 669.4 1414.4 665.7 1418.9 661.5 1423.4 656.9 1428.0 651.7 1432.5 646.0 1437.1 639.6 1441.6 632.6 1446.1 624.8 1450.7 615.2" stroke="url(#da24)" stroke-width="7.4"/>
<path d="M1334.1 706.9 1345.5 703.2 1356.9 699.1 1368.3 694.6 1379.7 689.6 1391.1 684.1 1396.1 681.4 1400.6 678.9 1405.2 676.1 1409.7 673.0 1414.3 669.6 1418.8 665.9 1423.3 661.7 1427.9 657.0 1432.4 651.8 1437.0 646.0 1441.5 639.7 1446.0 632.6 1450.6 624.8 1455.1 615.2" stroke="url(#da25)" stroke-width="7.4"/>
<path d="M1334.1 708.7 1346.4 704.9 1358.7 700.6 1371.0 695.7 1383.3 690.4 1395.5 684.4 1400.5 681.8 1405.1 679.2 1409.6 676.3 1414.2 673.2 1418.7 669.8 1423.2 666.0 1427.8 661.8 1432.3 657.1 1436.9 651.9 1441.4 646.1 1445.9 639.7 1450.5 632.6 1455.0 624.8 1459.5 615.2" stroke="url(#da26)" stroke-width="7.4"/>
<path d="M1334.1 710.6 1347.3 706.6 1360.5 702.0 1373.6 696.9 1386.8 691.1 1400.0 684.7 1405.0 682.1 1409.5 679.5 1414.1 676.6 1418.6 673.5 1423.1 670.0 1427.7 666.2 1432.2 661.9 1436.8 657.2 1441.3 652.0 1445.8 646.2 1450.4 639.7 1454.9 632.6 1459.4 624.8 1464.0 615.2" stroke="url(#da27)" stroke-width="7.4"/>
<path d="M1334.1 712.4 1348.2 708.2 1362.2 703.4 1376.3 698.0 1390.4 691.9 1404.4 685.1 1409.4 682.4 1414.0 679.7 1418.5 676.9 1423.0 673.7 1427.6 670.2 1432.1 666.4 1436.7 662.1 1441.2 657.3 1445.7 652.0 1450.3 646.2 1454.8 639.8 1459.4 632.7 1463.9 624.9 1468.4 615.2" stroke="url(#da28)" stroke-width="7.4"/>
<path d="M1334.1 714.2 1349.1 709.8 1364.0 704.9 1379.0 699.2 1393.9 692.7 1408.9 685.4 1413.9 682.7 1418.4 680.0 1422.9 677.1 1427.5 673.9 1432.0 670.4 1436.6 666.5 1441.1 662.2 1445.6 657.4 1450.2 652.1 1454.7 646.3 1459.3 639.8 1463.8 632.7 1468.3 624.9 1472.9 615.2" stroke="url(#da29)" stroke-width="7.4"/>
<path d="M1334.1 715.9 1349.9 711.5 1365.8 706.3 1381.6 700.3 1397.5 693.5 1413.3 685.8 1418.3 683.0 1422.8 680.3 1427.4 677.4 1431.9 674.2 1436.5 670.6 1441.0 666.7 1445.5 662.3 1450.1 657.5 1454.6 652.2 1459.2 646.3 1463.7 639.8 1468.2 632.7 1472.8 624.9 1477.3 615.2" stroke="url(#da30)" stroke-width="7.4"/>
<path d="M1334.1 717.6 1350.8 713.1 1367.6 707.7 1384.3 701.5 1401.0 694.3 1417.7 686.1 1422.7 683.3 1427.3 680.6 1431.8 677.6 1436.4 674.4 1440.9 670.8 1445.4 666.8 1450.0 662.5 1454.5 657.6 1459.1 652.3 1463.6 646.4 1468.1 639.9 1472.7 632.7 1477.2 624.9 1481.7 615.2" stroke="url(#da31)" stroke-width="7.4"/>
<path d="M1334.1 719.4 1351.7 714.7 1369.3 709.1 1387.0 702.6 1404.6 695.1 1422.2 686.4 1427.2 683.6 1431.7 680.9 1436.3 677.9 1440.8 674.6 1445.3 671.0 1449.9 667.0 1454.4 662.6 1459.0 657.7 1463.5 652.3 1468.0 646.4 1472.6 639.9 1477.1 632.8 1481.7 624.9 1486.2 615.2" stroke="url(#da32)" stroke-width="7.4"/>
<path d="M1334.1 721.1 1352.6 716.2 1371.1 710.5 1389.6 703.7 1408.1 695.9 1426.6 686.7 1431.6 683.9 1436.2 681.1 1440.7 678.1 1445.2 674.8 1449.8 671.2 1454.3 667.1 1458.9 662.7 1463.4 657.8 1467.9 652.4 1472.5 646.5 1477.0 639.9 1481.6 632.8 1486.1 625.0 1490.6 615.2" stroke="url(#da33)" stroke-width="7.4"/>
<path d="M1334.1 722.4 1353.5 717.5 1372.9 711.6 1392.3 704.6 1411.7 696.4 1431.1 686.9 1436.1 684.0 1440.6 681.3 1445.1 678.2 1449.7 674.9 1454.2 671.2 1458.8 667.2 1463.3 662.8 1467.8 657.8 1472.4 652.4 1476.9 646.5 1481.5 640.0 1486.0 632.8 1490.5 625.0 1495.1 615.2" stroke="url(#da34)" stroke-width="7.4"/>
<path d="M1334.1 723.3 1354.4 718.4 1374.7 712.4 1394.9 705.3 1415.2 696.8 1435.5 686.8 1440.5 684.0 1445.0 681.2 1449.6 678.2 1454.1 674.9 1458.7 671.2 1463.2 667.2 1467.7 662.7 1472.3 657.8 1476.8 652.4 1481.4 646.5 1485.9 639.9 1490.4 632.8 1495.0 625.0 1499.5 615.2" stroke="url(#da35)" stroke-width="7.4"/>
<path d="M1334.1 724.1 1355.3 719.2 1376.4 713.2 1397.6 705.9 1418.8 697.1 1440.0 686.8 1445.0 684.0 1449.5 681.2 1454.0 678.2 1458.6 674.8 1463.1 671.2 1467.6 667.2 1472.2 662.7 1476.7 657.8 1481.3 652.4 1485.8 646.5 1490.3 639.9 1494.9 632.8 1499.4 625.0 1504.0 615.2" stroke="url(#da36)" stroke-width="7.4"/>
<path d="M1334.1 724.9 1356.2 720.1 1378.2 714.0 1400.3 706.5 1422.3 697.5 1444.4 686.8 1449.4 683.9 1453.9 681.2 1458.5 678.1 1463.0 674.8 1467.5 671.2 1472.1 667.1 1476.6 662.7 1481.2 657.8 1485.7 652.4 1490.2 646.5 1494.8 639.9 1499.3 632.8 1503.9 625.0 1508.4 615.2" stroke="url(#da37)" stroke-width="7.4"/>
<path d="M1334.1 725.7 1357.0 720.9 1380.0 714.7 1402.9 707.1 1425.9 697.8 1448.8 686.7 1453.8 683.9 1458.4 681.1 1462.9 678.1 1467.4 674.8 1472.0 671.2 1476.5 667.1 1481.1 662.7 1485.6 657.8 1490.1 652.4 1494.7 646.5 1499.2 639.9 1503.8 632.8 1508.3 625.0 1512.8 615.2" stroke="url(#da38)" stroke-width="7.4"/>
<path d="M1334.1 726.4 1357.9 721.6 1381.8 715.4 1405.6 707.7 1429.4 698.2 1453.3 686.7 1458.3 683.9 1462.8 681.1 1467.3 678.1 1471.9 674.8 1476.4 671.1 1481.0 667.1 1485.5 662.7 1490.0 657.8 1494.6 652.4 1499.1 646.5 1503.7 639.9 1508.2 632.8 1512.7 625.0 1517.3 615.2" stroke="url(#da39)" stroke-width="7.4"/>
<path d="M1334.1 727.1 1358.8 722.3 1383.5 716.1 1408.3 708.3 1433.0 698.5 1457.7 686.6 1462.7 683.8 1467.3 681.1 1471.8 678.0 1476.3 674.7 1480.9 671.1 1485.4 667.1 1489.9 662.7 1494.5 657.8 1499.0 652.4 1503.6 646.5 1508.1 639.9 1512.6 632.8 1517.2 625.0 1521.7 615.2" stroke="url(#da40)" stroke-width="7.4"/>
<path d="M1334.1 727.7 1359.7 723.0 1385.3 716.8 1410.9 708.8 1436.5 698.9 1462.2 686.6 1467.2 683.8 1471.7 681.0 1476.2 678.0 1480.8 674.7 1485.3 671.1 1489.8 667.1 1494.4 662.7 1498.9 657.8 1503.5 652.4 1508.0 646.4 1512.5 639.9 1517.1 632.8 1521.6 625.0 1526.2 615.2" stroke="url(#da41)" stroke-width="7.4"/>
<path d="M1334.1 728.3 1360.6 723.7 1387.1 717.5 1413.6 709.4 1440.1 699.2 1466.6 686.6 1471.6 683.8 1476.1 681.0 1480.7 678.0 1485.2 674.7 1489.7 671.1 1494.3 667.1 1498.8 662.6 1503.4 657.8 1507.9 652.4 1512.4 646.4 1517.0 639.9 1521.5 632.8 1526.1 624.9 1530.6 615.2" stroke="url(#da42)" stroke-width="7.4"/>
<path d="M1334.1 728.8 1361.5 724.3 1388.9 718.1 1416.3 709.9 1443.6 699.5 1471.0 686.5 1476.0 683.7 1480.6 681.0 1485.1 678.0 1489.6 674.7 1494.2 671.0 1498.7 667.0 1503.3 662.6 1507.8 657.7 1512.3 652.4 1516.9 646.4 1521.4 639.9 1526.0 632.8 1530.5 624.9 1535.0 615.2" stroke="url(#da43)" stroke-width="7.4"/>
<path d="M1334.1 729.3 1362.4 724.9 1390.6 718.7 1418.9 710.5 1447.2 699.9 1475.5 686.5 1480.5 683.7 1485.0 680.9 1489.6 677.9 1494.1 674.6 1498.6 671.0 1503.2 667.0 1507.7 662.6 1512.2 657.7 1516.8 652.4 1521.3 646.4 1525.9 639.9 1530.4 632.8 1534.9 624.9 1539.5 615.2" stroke="url(#da44)" stroke-width="7.4"/>
<path d="M1334.1 729.8 1363.3 725.4 1392.4 719.3 1421.6 711.0 1450.8 700.2 1479.9 686.5 1484.9 683.7 1489.5 680.9 1494.0 677.9 1498.5 674.6 1503.1 671.0 1507.6 667.0 1512.1 662.6 1516.7 657.7 1521.2 652.3 1525.8 646.4 1530.3 639.9 1534.8 632.8 1539.4 624.9 1543.9 615.2" stroke="url(#da45)" stroke-width="7.4"/>
<path d="M1334.1 730.2 1364.2 726.0 1394.2 719.9 1424.3 711.5 1454.3 700.5 1484.4 686.4 1489.4 683.6 1493.9 680.9 1498.4 677.9 1503.0 674.6 1507.5 671.0 1512.0 667.0 1516.6 662.6 1521.1 657.7 1525.7 652.3 1530.2 646.4 1534.7 639.9 1539.3 632.8 1543.8 624.9 1548.4 615.2" stroke="url(#da46)" stroke-width="7.4"/>
<path d="M1334.1 730.6 1365.0 726.5 1396.0 720.4 1426.9 712.0 1457.9 700.8 1488.8 686.4 1493.8 683.6 1498.3 680.8 1502.9 677.8 1507.4 674.6 1511.9 671.0 1516.5 667.0 1521.0 662.6 1525.6 657.7 1530.1 652.3 1534.6 646.4 1539.2 639.9 1543.7 632.8 1548.3 624.9 1552.8 615.2" stroke="url(#da47)" stroke-width="7.4"/>
<path d="M1334.1 730.9 1365.9 726.9 1397.8 721.0 1429.6 712.5 1461.4 701.1 1493.2 686.3 1498.2 683.5 1502.8 680.8 1507.3 677.8 1511.8 674.5 1516.4 670.9 1520.9 667.0 1525.5 662.6 1530.0 657.7 1534.5 652.3 1539.1 646.4 1543.6 639.9 1548.2 632.8 1552.7 624.9 1557.2 615.2" stroke="url(#da48)" stroke-width="7.4"/>
<path d="M1334.1 731.1 1366.8 727.3 1399.5 721.4 1432.2 712.9 1465.0 701.4 1497.7 686.3 1502.7 683.5 1507.2 680.7 1511.8 677.8 1516.3 674.5 1520.8 670.9 1525.4 666.9 1529.9 662.5 1534.4 657.7 1539.0 652.3 1543.5 646.4 1548.1 639.9 1552.6 632.7 1557.1 624.9 1561.7 615.2" stroke="url(#da49)" stroke-width="7.4"/>
<path d="M1334.1 731.1 1367.7 727.4 1401.3 721.6 1434.9 713.2 1468.5 701.6 1502.1 686.1 1507.1 683.3 1511.7 680.6 1516.2 677.6 1520.7 674.4 1525.3 670.8 1529.8 666.8 1534.3 662.5 1538.9 657.6 1543.4 652.3 1548.0 646.4 1552.5 639.9 1557.0 632.7 1561.6 624.9 1566.1 615.2" stroke="url(#da50)" stroke-width="7.4"/>
<path d="M1334.1 731.0 1368.6 727.5 1403.1 721.8 1437.6 713.5 1472.1 701.7 1506.6 685.9 1511.6 683.2 1516.1 680.5 1520.6 677.5 1525.2 674.3 1529.7 670.7 1534.2 666.8 1538.8 662.4 1543.3 657.6 1547.9 652.2 1552.4 646.3 1556.9 639.9 1561.5 632.7 1566.0 624.9 1570.6 615.2" stroke="url(#da51)" stroke-width="7.4"/>
<path d="M1334.1 730.8 1369.5 727.5 1404.9 722.0 1440.2 713.7 1475.6 701.8 1511.0 685.8 1516.0 683.0 1520.5 680.3 1525.1 677.4 1529.6 674.2 1534.1 670.6 1538.7 666.7 1543.2 662.3 1547.8 657.5 1552.3 652.2 1556.8 646.3 1561.4 639.8 1565.9 632.7 1570.5 624.9 1575.0 615.2" stroke="url(#da52)" stroke-width="7.4"/>
<path d="M1334.1 730.6 1370.4 727.5 1406.6 722.2 1442.9 713.9 1479.2 702.0 1515.4 685.6 1520.4 682.9 1525.0 680.2 1529.5 677.3 1534.1 674.1 1538.6 670.5 1543.1 666.6 1547.7 662.3 1552.2 657.5 1556.7 652.2 1561.3 646.3 1565.8 639.8 1570.4 632.7 1574.9 624.9 1579.4 615.2" stroke="url(#da53)" stroke-width="7.4"/>
<path d="M1334.1 730.4 1371.3 727.5 1408.4 722.3 1445.6 714.1 1482.7 702.1 1519.9 685.5 1524.9 682.7 1529.4 680.1 1534.0 677.2 1538.5 674.0 1543.0 670.4 1547.6 666.5 1552.1 662.2 1556.6 657.4 1561.2 652.1 1565.7 646.3 1570.3 639.8 1574.8 632.7 1579.3 624.9 1583.9 615.2" stroke="url(#da54)" stroke-width="7.4"/>
<path d="M1334.1 730.1 1372.1 727.4 1410.2 722.4 1448.2 714.3 1486.3 702.2 1524.3 685.3 1529.3 682.6 1533.9 679.9 1538.4 677.0 1542.9 673.8 1547.5 670.3 1552.0 666.5 1556.5 662.1 1561.1 657.4 1565.6 652.1 1570.2 646.2 1574.7 639.8 1579.2 632.7 1583.8 624.9 1588.3 615.2" stroke="url(#da55)" stroke-width="7.4"/>
<path d="M1334.1 729.9 1373.0 727.3 1412.0 722.5 1450.9 714.4 1489.8 702.3 1528.8 685.1 1533.8 682.4 1538.3 679.8 1542.8 676.9 1547.4 673.7 1551.9 670.2 1556.4 666.4 1561.0 662.1 1565.5 657.3 1570.1 652.1 1574.6 646.2 1579.1 639.8 1583.7 632.7 1588.2 624.9 1592.8 615.2" stroke="url(#da56)" stroke-width="7.4"/>
<path d="M1334.1 729.5 1373.9 727.2 1413.7 722.5 1453.6 714.6 1493.4 702.4 1533.2 685.0 1538.2 682.3 1542.7 679.6 1547.3 676.8 1551.8 673.6 1556.4 670.1 1560.9 666.3 1565.4 662.0 1570.0 657.3 1574.5 652.0 1579.0 646.2 1583.6 639.7 1588.1 632.7 1592.7 624.9 1597.2 615.2" stroke="url(#da57)" stroke-width="7.4"/>
<path d="M1334.1 729.2 1374.8 727.0 1415.5 722.5 1456.2 714.7 1496.9 702.5 1537.6 684.8 1542.6 682.1 1547.2 679.5 1551.7 676.6 1556.3 673.5 1560.8 670.1 1565.3 666.2 1569.9 662.0 1574.4 657.2 1578.9 652.0 1583.5 646.2 1588.0 639.7 1592.6 632.6 1597.1 624.8 1601.6 615.2" stroke="url(#da58)" stroke-width="7.4"/>
<path d="M1334.1 728.8 1375.7 726.8 1417.3 722.5 1458.9 714.8 1500.5 702.6 1542.1 684.6 1547.1 682.0 1551.6 679.4 1556.2 676.5 1560.7 673.4 1565.2 670.0 1569.8 666.1 1574.3 661.9 1578.8 657.2 1583.4 651.9 1587.9 646.1 1592.5 639.7 1597.0 632.6 1601.5 624.8 1606.1 615.2" stroke="url(#da59)" stroke-width="7.4"/>
<path d="M1334.1 728.4 1376.6 726.6 1419.1 722.5 1461.6 714.9 1504.0 702.7 1546.5 684.5 1551.5 681.8 1556.1 679.2 1560.6 676.4 1565.1 673.3 1569.7 669.9 1574.2 666.1 1578.7 661.8 1583.3 657.1 1587.8 651.9 1592.4 646.1 1596.9 639.7 1601.4 632.6 1606.0 624.8 1610.5 615.2" stroke="url(#da60)" stroke-width="7.4"/>
<path d="M1334.1 728.0 1377.5 726.3 1420.8 722.4 1464.2 715.0 1507.6 702.8 1551.0 684.3 1556.0 681.7 1560.5 679.1 1565.0 676.3 1569.6 673.2 1574.1 669.8 1578.7 666.0 1583.2 661.8 1587.7 657.1 1592.3 651.9 1596.8 646.1 1601.3 639.7 1605.9 632.6 1610.4 624.8 1615.0 615.2" stroke="url(#da61)" stroke-width="7.4"/>
<path d="M1334.1 727.6 1378.4 726.0 1422.6 722.4 1466.9 715.1 1511.1 702.8 1555.4 684.1 1560.4 681.5 1564.9 678.9 1569.5 676.1 1574.0 673.1 1578.6 669.7 1583.1 665.9 1587.6 661.7 1592.2 657.0 1596.7 651.8 1601.2 646.1 1605.8 639.7 1610.3 632.6 1614.9 624.8 1619.4 615.2" stroke="url(#da62)" stroke-width="7.4"/>
<path d="M1334.1 727.1 1379.2 725.7 1424.4 722.2 1469.5 715.1 1514.7 702.9 1559.8 684.0 1564.8 681.3 1569.4 678.8 1573.9 676.0 1578.5 672.9 1583.0 669.6 1587.5 665.8 1592.1 661.6 1596.6 657.0 1601.1 651.8 1605.7 646.0 1610.2 639.6 1614.8 632.6 1619.3 624.8 1623.8 615.2" stroke="url(#da63)" stroke-width="7.4"/>
<path d="M1334.1 726.7 1380.1 725.4 1426.2 722.1 1472.2 715.2 1518.2 702.9 1564.3 683.8 1569.3 681.2 1573.8 678.6 1578.4 675.9 1582.9 672.8 1587.4 669.5 1592.0 665.7 1596.5 661.6 1601.0 656.9 1605.6 651.7 1610.1 646.0 1614.7 639.6 1619.2 632.6 1623.7 624.8 1628.3 615.2" stroke="url(#da64)" stroke-width="7.4"/>
<path d="M1334.1 726.2 1381.0 725.0 1427.9 722.0 1474.9 715.2 1521.8 703.0 1568.7 683.6 1573.7 681.0 1578.3 678.5 1582.8 675.7 1587.3 672.7 1591.9 669.4 1596.4 665.6 1601.0 661.5 1605.5 656.9 1610.0 651.7 1614.6 646.0 1619.1 639.6 1623.6 632.6 1628.2 624.8 1632.7 615.2" stroke="url(#da65)" stroke-width="7.4"/>
<path d="M1334.1 725.8 1381.9 724.7 1429.7 721.8 1477.5 715.2 1525.3 703.0 1573.2 683.5 1578.2 680.9 1582.7 678.3 1587.2 675.6 1591.8 672.6 1596.3 669.3 1600.9 665.6 1605.4 661.4 1609.9 656.8 1614.5 651.7 1619.0 645.9 1623.5 639.6 1628.1 632.5 1632.6 624.8 1637.2 615.2" stroke="url(#da66)" stroke-width="7.4"/>
<path d="M1334.1 725.3 1382.8 724.3 1431.5 721.6 1480.2 715.2 1528.9 703.1 1577.6 683.3 1582.6 680.7 1587.1 678.2 1591.7 675.5 1596.2 672.5 1600.8 669.2 1605.3 665.5 1609.8 661.3 1614.4 656.8 1618.9 651.6 1623.4 645.9 1628.0 639.6 1632.5 632.5 1637.1 624.8 1641.6 615.2" stroke="url(#da67)" stroke-width="7.4"/>
<path d="M1334.1 724.4 1360.1 726.4 1385.1 732.9 1410.1 745.8 1430.1 738.7 1445.1 732.0 1460.1 725.8 1475.1 720.4 1490.1 716.1 1505.1 712.6 1520.1 709.2 1538.1 705.4 1556.1 702.0 1574.1 698.7 1594.1 695.8 1614.1 692.7 1636.1 689.1 1660.1 684.2 1685.1 681.5 1712.1 679.2 1740.1 677.6 1769.6 676.1" stroke="url(#df0)"/>
<path d="M1334.1 724.4 1360.1 726.4 1385.1 732.9 1410.1 745.8 1430.1 738.9 1445.1 732.2 1460.1 726.1 1475.1 720.9 1490.1 716.7 1505.1 713.4 1520.1 710.2 1538.1 706.6 1556.1 703.3 1574.1 700.1 1594.1 697.4 1614.1 694.5 1636.1 691.1 1660.1 686.4 1685.1 683.9 1712.1 681.7 1740.1 680.3 1769.6 679.0" stroke="url(#df1)"/>
<path d="M1334.1 724.4 1360.1 726.4 1385.1 732.9 1410.1 745.8 1430.1 739.1 1445.1 732.5 1460.1 726.4 1475.1 721.4 1490.1 717.4 1505.1 714.2 1520.1 711.2 1538.1 707.7 1556.1 704.6 1574.1 701.6 1594.1 699.1 1614.1 696.4 1636.1 693.1 1660.1 688.6 1685.1 686.2 1712.1 684.2 1740.1 683.0 1769.6 681.8" stroke="url(#df2)"/>
<path d="M1334.1 724.4 1360.1 726.4 1385.1 732.9 1410.1 745.8 1430.1 739.3 1445.1 732.7 1460.1 726.7 1475.1 721.9 1490.1 718.1 1505.1 715.0 1520.1 712.2 1538.1 708.9 1556.1 706.0 1574.1 703.1 1594.1 700.7 1614.1 698.2 1636.1 695.1 1660.1 690.8 1685.1 688.6 1712.1 686.8 1740.1 685.7 1769.6 684.7" stroke="url(#df3)"/>
<path d="M1334.1 724.4 1360.1 726.4 1385.1 732.9 1410.1 745.8 1430.1 739.5 1445.1 733.0 1460.1 727.1 1475.1 722.4 1490.1 718.8 1505.1 715.9 1520.1 713.2 1538.1 710.1 1556.1 707.3 1574.1 704.6 1594.1 702.4 1614.1 700.0 1636.1 697.1 1660.1 693.0 1685.1 690.9 1712.1 689.3 1740.1 688.3 1769.6 687.5" stroke="url(#df4)"/>
<path d="M1334.1 724.4 1360.1 726.4 1385.1 732.9 1410.1 745.8 1430.1 739.8 1445.1 733.3 1460.1 727.5 1475.1 723.1 1490.1 719.6 1505.1 716.9 1520.1 714.4 1538.1 711.5 1556.1 709.0 1574.1 706.5 1594.1 704.5 1614.1 702.3 1636.1 699.6 1660.1 695.8 1685.1 694.0 1712.1 692.5 1740.1 691.8 1769.6 691.2" stroke="url(#df5)"/>
<path d="M1334.1 724.4 1360.1 726.4 1385.1 732.9 1410.1 745.8 1430.1 740.0 1445.1 733.7 1460.1 728.0 1475.1 723.8 1490.1 720.5 1505.1 718.1 1520.1 715.7 1538.1 713.1 1556.1 710.7 1574.1 708.5 1594.1 706.7 1614.1 704.7 1636.1 702.3 1660.1 698.7 1685.1 697.1 1712.1 695.9 1740.1 695.3 1769.6 694.9" stroke="url(#df6)"/>
<path d="M1334.1 724.4 1360.1 726.4 1385.1 732.9 1410.1 745.8 1430.1 740.3 1445.1 734.0 1460.1 728.4 1475.1 724.5 1490.1 721.4 1505.1 719.2 1520.1 717.0 1538.1 714.6 1556.1 712.5 1574.1 710.5 1594.1 708.9 1614.1 707.1 1636.1 704.9 1660.1 701.6 1685.1 700.2 1712.1 699.2 1740.1 698.9 1769.6 698.7" stroke="url(#df7)"/>
<path d="M1334.1 724.4 1360.1 726.4 1385.1 732.9 1410.1 745.8 1430.1 740.6 1445.1 734.4 1460.1 728.9 1475.1 725.2 1490.1 722.4 1505.1 720.3 1520.1 718.4 1538.1 716.2 1556.1 714.3 1574.1 712.5 1594.1 711.1 1614.1 709.6 1636.1 707.6 1660.1 704.5 1685.1 703.3 1712.1 702.6 1740.1 702.4 1769.6 702.4" stroke="url(#df8)"/>
<path d="M1334.1 724.4 1360.1 726.4 1385.1 732.9 1410.1 745.8 1430.1 740.9 1445.1 734.8 1460.1 729.5 1475.1 726.0 1490.1 723.5 1505.1 721.7 1520.1 720.0 1538.1 718.1 1556.1 716.5 1574.1 714.9 1594.1 713.8 1614.1 712.5 1636.1 710.8 1660.1 708.0 1685.1 707.2 1712.1 706.7 1740.1 706.8 1769.6 707.0" stroke="url(#df9)"/>
<path d="M1334.1 724.4 1360.1 726.4 1385.1 732.9 1410.1 745.8 1430.1 741.2 1445.1 735.3 1460.1 730.1 1475.1 727.0 1490.1 724.7 1505.1 723.2 1520.1 721.8 1538.1 720.2 1556.1 718.8 1574.1 717.5 1594.1 716.7 1614.1 715.7 1636.1 714.3 1660.1 711.8 1685.1 711.2 1712.1 711.0 1740.1 711.4 1769.6 711.9" stroke="url(#df10)"/>
<path d="M1334.1 724.4 1360.1 726.4 1385.1 732.9 1410.1 745.8 1430.1 741.6 1445.1 735.8 1460.1 730.7 1475.1 727.9 1490.1 725.9 1505.1 724.7 1520.1 723.5 1538.1 722.2 1556.1 721.2 1574.1 720.2 1594.1 719.7 1614.1 718.9 1636.1 717.8 1660.1 715.7 1685.1 715.3 1712.1 715.4 1740.1 716.0 1769.6 716.7" stroke="url(#df11)"/>
<path d="M1334.1 724.4 1360.1 726.4 1385.1 732.9 1410.1 745.8 1430.1 741.9 1445.1 736.3 1460.1 731.3 1475.1 728.8 1490.1 727.2 1505.1 726.2 1520.1 725.3 1538.1 724.3 1556.1 723.6 1574.1 722.8 1594.1 722.6 1614.1 722.1 1636.1 721.3 1660.1 719.5 1685.1 719.4 1712.1 719.8 1740.1 720.7 1769.6 721.6" stroke="url(#df12)"/>
<path d="M1334.1 724.4 1360.1 726.4 1385.1 732.9 1410.1 745.8 1430.1 742.3 1445.1 736.8 1460.1 732.1 1475.1 729.9 1490.1 728.6 1505.1 727.9 1520.1 727.3 1538.1 726.7 1556.1 726.2 1574.1 725.8 1594.1 725.9 1614.1 725.7 1636.1 725.2 1660.1 723.7 1685.1 724.0 1712.1 724.6 1740.1 725.7 1769.6 727.0" stroke="url(#df13)"/>
<path d="M1334.1 724.4 1360.1 726.4 1385.1 732.9 1410.1 745.8 1430.1 742.7 1445.1 737.4 1460.1 732.8 1475.1 731.0 1490.1 730.0 1505.1 729.7 1520.1 729.4 1538.1 729.1 1556.1 729.0 1574.1 728.9 1594.1 729.3 1614.1 729.4 1636.1 729.3 1660.1 728.1 1685.1 728.7 1712.1 729.7 1740.1 731.1 1769.6 732.6" stroke="url(#df14)"/>
<path d="M1334.1 724.4 1360.1 726.4 1385.1 732.9 1410.1 745.8 1430.1 743.1 1445.1 738.0 1460.1 733.6 1475.1 732.2 1490.1 731.5 1505.1 731.5 1520.1 731.5 1538.1 731.6 1556.1 731.9 1574.1 732.0 1594.1 732.8 1614.1 733.2 1636.1 733.4 1660.1 732.6 1685.1 733.5 1712.1 734.8 1740.1 736.5 1769.6 738.2" stroke="url(#df15)"/>
<path d="M1334.1 724.4 1360.1 726.4 1385.1 732.9 1410.1 745.8 1430.1 743.5 1445.1 738.5 1460.1 734.4 1475.1 733.3 1490.1 733.0 1505.1 733.3 1520.1 733.7 1538.1 734.2 1556.1 734.7 1574.1 735.2 1594.1 736.3 1614.1 737.0 1636.1 737.5 1660.1 737.1 1685.1 738.3 1712.1 739.9 1740.1 741.8 1769.6 743.8" stroke="url(#df16)"/>
<path d="M1334.1 724.4 1360.1 726.4 1385.1 732.9 1410.1 745.8 1430.1 743.9 1445.1 739.2 1460.1 735.2 1475.1 734.6 1490.1 734.6 1505.1 735.3 1520.1 735.9 1538.1 736.8 1556.1 737.7 1574.1 738.5 1594.1 739.9 1614.1 741.0 1636.1 741.8 1660.1 741.7 1685.1 743.2 1712.1 745.1 1740.1 747.3 1769.6 749.5" stroke="url(#df17)"/>
<path d="M1334.1 724.4 1360.1 726.4 1385.1 732.9 1410.1 745.8 1430.1 744.3 1445.1 739.8 1460.1 736.1 1475.1 735.8 1490.1 736.2 1505.1 737.2 1520.1 738.2 1538.1 739.4 1556.1 740.7 1574.1 741.8 1594.1 743.6 1614.1 745.0 1636.1 746.1 1660.1 746.4 1685.1 748.2 1712.1 750.4 1740.1 752.9 1769.6 755.3" stroke="url(#df18)"/>
<path d="M1334.1 724.4 1360.1 726.4 1385.1 732.9 1410.1 745.8 1430.1 744.7 1445.1 740.4 1460.1 737.0 1475.1 737.1 1490.1 737.9 1505.1 739.2 1520.1 740.6 1538.1 742.1 1556.1 743.7 1574.1 745.2 1594.1 747.3 1614.1 749.0 1636.1 750.5 1660.1 751.1 1685.1 753.3 1712.1 755.7 1740.1 758.4 1769.6 761.1" stroke="url(#df19)"/>
<path d="M1334.1 724.4 1360.1 726.4 1385.1 732.9 1410.1 745.8 1430.1 745.2 1445.1 741.1 1460.1 737.9 1475.1 738.4 1490.1 739.5 1505.1 741.2 1520.1 742.9 1538.1 744.9 1556.1 746.8 1574.1 748.7 1594.1 751.0 1614.1 753.1 1636.1 754.9 1660.1 755.9 1685.1 758.3 1712.1 761.0 1740.1 764.0 1769.6 766.9" stroke="url(#df20)"/>
<path d="M1334.1 724.4 1360.1 726.4 1385.1 732.9 1410.1 745.8 1430.1 745.6 1445.1 741.7 1460.1 738.8 1475.1 739.6 1490.1 741.2 1505.1 743.2 1520.1 745.3 1538.1 747.6 1556.1 749.9 1574.1 752.0 1594.1 754.7 1614.1 757.1 1636.1 759.2 1660.1 760.6 1685.1 763.3 1712.1 766.2 1740.1 769.5 1769.6 772.6" stroke="url(#df21)"/>
<path d="M1334.1 724.4 1360.1 726.4 1385.1 732.9 1410.1 745.8 1430.1 745.9 1445.1 742.3 1460.1 739.7 1475.1 740.9 1490.1 742.8 1505.1 745.1 1520.1 747.5 1538.1 750.2 1556.1 752.8 1574.1 755.3 1594.1 758.3 1614.1 760.9 1636.1 763.4 1660.1 765.0 1685.1 768.0 1712.1 771.2 1740.1 774.7 1769.6 778.0" stroke="url(#df22)"/>
<path d="M1334.1 724.4 1360.1 726.4 1385.1 732.9 1410.1 745.8 1430.1 746.3 1445.1 743.0 1460.1 740.6 1475.1 742.2 1490.1 744.4 1505.1 747.1 1520.1 749.8 1538.1 752.9 1556.1 755.8 1574.1 758.6 1594.1 761.9 1614.1 764.8 1636.1 767.5 1660.1 769.5 1685.1 772.8 1712.1 776.2 1740.1 779.9 1769.6 783.4" stroke="url(#df23)"/>
<path d="M1334.1 724.4 1360.1 726.4 1385.1 732.9 1410.1 745.8 1430.1 746.7 1445.1 743.6 1460.1 741.5 1475.1 743.4 1490.1 746.0 1505.1 749.1 1520.1 752.1 1538.1 755.6 1556.1 758.8 1574.1 761.9 1594.1 765.5 1614.1 768.7 1636.1 771.7 1660.1 774.1 1685.1 777.6 1712.1 781.3 1740.1 785.1 1769.6 788.8" stroke="url(#df24)"/>
<path d="M1334.1 724.4 1360.1 726.4 1385.1 732.9 1410.1 745.8 1430.1 747.1 1445.1 744.2 1460.1 742.4 1475.1 744.8 1490.1 747.7 1505.1 751.1 1520.1 754.5 1538.1 758.3 1556.1 761.9 1574.1 765.3 1594.1 769.2 1614.1 772.7 1636.1 776.0 1660.1 778.6 1685.1 782.4 1712.1 786.3 1740.1 790.4 1769.6 794.2" stroke="url(#df25)"/>
<path d="M1334.1 724.4 1360.1 726.4 1385.1 732.9 1410.1 745.8 1430.1 747.5 1445.1 744.9 1460.1 743.4 1475.1 746.1 1490.1 749.5 1505.1 753.2 1520.1 756.9 1538.1 761.1 1556.1 765.1 1574.1 768.8 1594.1 773.0 1614.1 776.8 1636.1 780.4 1660.1 783.3 1685.1 787.4 1712.1 791.5 1740.1 795.8 1769.6 799.8" stroke="url(#df26)"/>
<path d="M1334.1 724.4 1360.1 726.4 1385.1 732.9 1410.1 745.8 1430.1 747.9 1445.1 745.6 1460.1 744.4 1475.1 747.5 1490.1 751.2 1505.1 755.4 1520.1 759.4 1538.1 764.0 1556.1 768.3 1574.1 772.3 1594.1 776.8 1614.1 780.9 1636.1 784.8 1660.1 788.1 1685.1 792.4 1712.1 796.8 1740.1 801.2 1769.6 805.3" stroke="url(#df27)"/>
<path d="M1334.1 724.4 1360.1 726.4 1385.1 732.9 1410.1 745.8 1430.1 748.3 1445.1 746.3 1460.1 745.5 1475.1 748.9 1490.1 753.0 1505.1 757.5 1520.1 761.9 1538.1 766.9 1556.1 771.6 1574.1 775.9 1594.1 780.7 1614.1 785.1 1636.1 789.3 1660.1 792.9 1685.1 797.4 1712.1 802.0 1740.1 806.6 1769.6 810.9" stroke="url(#df28)"/>
<path d="M1334.1 724.4 1360.1 726.4 1385.1 732.9 1410.1 745.8 1430.1 748.7 1445.1 747.0 1460.1 746.5 1475.1 750.4 1490.1 754.8 1505.1 759.7 1520.1 764.4 1538.1 769.8 1556.1 774.8 1574.1 779.4 1594.1 784.5 1614.1 789.2 1636.1 793.7 1660.1 797.6 1685.1 802.3 1712.1 807.2 1740.1 812.0 1769.6 816.4" stroke="url(#df29)"/>
<path d="M1334.1 724.4 1360.1 726.4 1385.1 732.9 1410.1 745.8 1430.1 749.0 1445.1 747.6 1460.1 747.4 1475.1 751.6 1490.1 756.5 1505.1 761.6 1520.1 766.7 1538.1 772.4 1556.1 777.7 1574.1 782.6 1594.1 788.0 1614.1 792.9 1636.1 797.7 1660.1 801.8 1685.1 806.8 1712.1 811.8 1740.1 816.7 1769.6 821.2" stroke="url(#df30)"/>
<path d="M1334.1 724.4 1360.1 726.4 1385.1 732.9 1410.1 745.8 1430.1 749.4 1445.1 748.3 1460.1 748.4 1475.1 752.9 1490.1 758.1 1505.1 763.6 1520.1 769.0 1538.1 775.0 1556.1 780.7 1574.1 785.8 1594.1 791.5 1614.1 796.6 1636.1 801.7 1660.1 806.0 1685.1 811.2 1712.1 816.4 1740.1 821.5 1769.6 826.1" stroke="url(#df31)"/>
<path d="M1334.1 724.4 1360.1 726.4 1385.1 732.9 1410.1 745.8 1430.1 749.7 1445.1 748.9 1460.1 749.3 1475.1 754.2 1490.1 759.8 1505.1 765.6 1520.1 771.3 1538.1 777.7 1556.1 783.6 1574.1 789.0 1594.1 795.0 1614.1 800.4 1636.1 805.7 1660.1 810.3 1685.1 815.7 1712.1 821.1 1740.1 826.2 1769.6 831.0" stroke="url(#df32)"/>
<path d="M1334.1 724.4 1360.1 726.4 1385.1 732.9 1410.1 745.8 1430.1 750.1 1445.1 749.6 1460.1 750.3 1475.1 755.6 1490.1 761.4 1505.1 767.6 1520.1 773.6 1538.1 780.4 1556.1 786.6 1574.1 792.3 1594.1 798.5 1614.1 804.2 1636.1 809.7 1660.1 814.6 1685.1 820.2 1712.1 825.7 1740.1 831.0 1769.6 835.8" stroke="url(#df33)"/>
<path d="M1334.1 724.4 1360.1 726.4 1385.1 732.9 1410.1 745.8 1430.1 750.4 1445.1 750.2 1460.1 751.2 1475.1 756.8 1490.1 763.0 1505.1 769.5 1520.1 775.8 1538.1 782.9 1556.1 789.4 1574.1 795.3 1594.1 801.8 1614.1 807.7 1636.1 813.4 1660.1 818.5 1685.1 824.3 1712.1 830.0 1740.1 835.4 1769.6 840.3" stroke="url(#df34)"/>
<path d="M1334.1 724.4 1360.1 726.4 1385.1 732.9 1410.1 745.8 1430.1 750.7 1445.1 750.8 1460.1 752.2 1475.1 758.1 1490.1 764.6 1505.1 771.4 1520.1 778.0 1538.1 785.4 1556.1 792.2 1574.1 798.4 1594.1 805.1 1614.1 811.2 1636.1 817.1 1660.1 822.5 1685.1 828.4 1712.1 834.3 1740.1 839.8 1769.6 844.8" stroke="url(#df35)"/>
<path d="M1334.1 724.4 1360.1 726.4 1385.1 732.9 1410.1 745.8 1430.1 751.1 1445.1 751.4 1460.1 753.1 1475.1 759.4 1490.1 766.2 1505.1 773.3 1520.1 780.2 1538.1 788.0 1556.1 795.0 1574.1 801.5 1594.1 808.4 1614.1 814.7 1636.1 820.9 1660.1 826.5 1685.1 832.6 1712.1 838.6 1740.1 844.2 1769.6 849.2" stroke="url(#df36)"/>
<path d="M1334.1 724.4 1360.1 726.4 1385.1 732.9 1410.1 745.8 1430.1 751.4 1445.1 752.1 1460.1 754.1 1475.1 760.6 1490.1 767.8 1505.1 775.2 1520.1 782.5 1538.1 790.5 1556.1 797.9 1574.1 804.6 1594.1 811.8 1614.1 818.3 1636.1 824.7 1660.1 830.5 1685.1 836.8 1712.1 842.9 1740.1 848.6 1769.6 853.7" stroke="url(#df37)"/>
<path d="M1334.1 724.4 1360.1 726.4 1385.1 732.9 1410.1 745.8 1430.1 751.7 1445.1 752.6 1460.1 755.0 1475.1 761.8 1490.1 769.3 1505.1 777.0 1520.1 784.6 1538.1 792.9 1556.1 800.5 1574.1 807.4 1594.1 814.8 1614.1 821.6 1636.1 828.2 1660.1 834.2 1685.1 840.6 1712.1 846.9 1740.1 852.7 1769.6 857.8" stroke="url(#df38)"/>
<path d="M1334.1 724.4 1360.1 726.4 1385.1 732.9 1410.1 745.8 1430.1 752.0 1445.1 753.2 1460.1 755.9 1475.1 763.0 1490.1 770.8 1505.1 778.8 1520.1 786.6 1538.1 795.3 1556.1 803.2 1574.1 810.3 1594.1 817.9 1614.1 824.8 1636.1 831.7 1660.1 837.9 1685.1 844.4 1712.1 850.8 1740.1 856.6 1769.6 861.8" stroke="url(#df39)"/>
<path d="M1334.1 724.4 1360.1 726.4 1385.1 732.9 1410.1 745.8 1430.1 752.2 1445.1 753.8 1460.1 756.8 1475.1 764.2 1490.1 772.3 1505.1 780.6 1520.1 788.7 1538.1 797.7 1556.1 805.8 1574.1 813.2 1594.1 821.0 1614.1 828.1 1636.1 835.1 1660.1 841.5 1685.1 848.3 1712.1 854.7 1740.1 860.7 1769.6 865.8" stroke="url(#df40)"/>
<path d="M1334.1 724.4 1360.1 726.4 1385.1 732.9 1410.1 745.8 1430.1 752.5 1445.1 754.4 1460.1 757.7 1475.1 765.5 1490.1 773.8 1505.1 782.5 1520.1 790.8 1538.1 800.1 1556.1 808.5 1574.1 816.1 1594.1 824.1 1614.1 831.4 1636.1 838.6 1660.1 845.2 1685.1 852.1 1712.1 858.7 1740.1 864.7 1769.6 869.9" stroke="url(#df41)"/>
<path d="M1334.1 724.4 1360.1 726.4 1385.1 732.9 1410.1 745.8 1430.1 752.8 1445.1 755.0 1460.1 758.6 1475.1 766.6 1490.1 775.3 1505.1 784.2 1520.1 792.8 1538.1 802.4 1556.1 811.0 1574.1 818.8 1594.1 827.1 1614.1 834.6 1636.1 841.9 1660.1 848.7 1685.1 855.7 1712.1 862.4 1740.1 868.4 1769.6 873.6" stroke="url(#df42)"/>
<path d="M1334.1 724.4 1360.1 726.4 1385.1 732.9 1410.1 745.8 1430.1 753.1 1445.1 755.5 1460.1 759.4 1475.1 767.8 1490.1 776.7 1505.1 785.9 1520.1 794.8 1538.1 804.7 1556.1 813.5 1574.1 821.5 1594.1 830.0 1614.1 837.6 1636.1 845.2 1660.1 852.2 1685.1 859.3 1712.1 866.0 1740.1 872.1 1769.6 877.4" stroke="url(#df43)"/>
<path d="M1334.1 724.4 1360.1 726.4 1385.1 732.9 1410.1 745.8 1430.1 753.3 1445.1 756.1 1460.1 760.3 1475.1 768.9 1490.1 778.2 1505.1 787.6 1520.1 796.8 1538.1 806.9 1556.1 816.0 1574.1 824.3 1594.1 832.9 1614.1 840.7 1636.1 848.5 1660.1 855.6 1685.1 862.8 1712.1 869.7 1740.1 875.8 1769.6 881.1" stroke="url(#df44)"/>
<path d="M1334.1 724.4 1360.1 726.4 1385.1 732.9 1410.1 745.8 1430.1 753.6 1445.1 756.7 1460.1 761.2 1475.1 770.1 1490.1 779.6 1505.1 789.4 1520.1 798.8 1538.1 809.2 1556.1 818.6 1574.1 827.0 1594.1 835.8 1614.1 843.9 1636.1 851.8 1660.1 859.1 1685.1 866.4 1712.1 873.3 1740.1 879.5 1769.6 884.8" stroke="url(#df45)"/>
<path d="M1334.1 724.4 1360.1 726.4 1385.1 732.9 1410.1 745.8 1430.1 753.9 1445.1 757.2 1460.1 762.0 1475.1 771.2 1490.1 781.0 1505.1 791.0 1520.1 800.7 1538.1 811.4 1556.1 821.0 1574.1 829.6 1594.1 838.6 1614.1 846.8 1636.1 854.8 1660.1 862.3 1685.1 869.7 1712.1 876.8 1740.1 883.0 1769.6 888.2" stroke="url(#df46)"/>
<path d="M1334.1 724.4 1360.1 726.4 1385.1 732.9 1410.1 745.8 1430.1 754.1 1445.1 757.7 1460.1 762.9 1475.1 772.3 1490.1 782.4 1505.1 792.6 1520.1 802.5 1538.1 813.5 1556.1 823.3 1574.1 832.1 1594.1 841.3 1614.1 849.6 1636.1 857.8 1660.1 865.4 1685.1 873.0 1712.1 880.1 1740.1 886.3 1769.6 891.6" stroke="url(#df47)"/>
<path d="M1334.1 724.4 1360.1 726.4 1385.1 732.9 1410.1 745.8 1430.1 754.3 1445.1 758.3 1460.1 763.7 1475.1 773.4 1490.1 783.7 1505.1 794.2 1520.1 804.4 1538.1 815.6 1556.1 825.6 1574.1 834.6 1594.1 844.0 1614.1 852.5 1636.1 860.8 1660.1 868.6 1685.1 876.2 1712.1 883.4 1740.1 889.7 1769.6 894.9" stroke="url(#df48)"/>
<path d="M1334.1 724.4 1360.1 726.4 1385.1 732.9 1410.1 745.8 1430.1 754.6 1445.1 758.8 1460.1 764.5 1475.1 774.5 1490.1 785.1 1505.1 795.8 1520.1 806.3 1538.1 817.7 1556.1 828.0 1574.1 837.1 1594.1 846.7 1614.1 855.3 1636.1 863.8 1660.1 871.7 1685.1 879.5 1712.1 886.7 1740.1 893.0 1769.6 898.2" stroke="url(#df49)"/>
<path d="M1334.1 724.4 1360.1 726.4 1385.1 732.9 1410.1 745.8 1430.1 754.8 1445.1 759.3 1460.1 765.4 1475.1 775.6 1490.1 786.5 1505.1 797.5 1520.1 808.1 1538.1 819.9 1556.1 830.3 1574.1 839.7 1594.1 849.4 1614.1 858.2 1636.1 866.9 1660.1 874.9 1685.1 882.7 1712.1 890.0 1740.1 896.4 1769.6 901.6" stroke="url(#df50)"/>
<path d="M1334.1 724.4 1360.1 726.4 1385.1 732.9 1410.1 745.8 1430.1 755.1 1445.1 759.9 1460.1 766.2 1475.1 776.7 1490.1 787.8 1505.1 799.1 1520.1 810.0 1538.1 822.1 1556.1 832.7 1574.1 842.3 1594.1 852.1 1614.1 861.1 1636.1 869.9 1660.1 878.1 1685.1 886.0 1712.1 893.3 1740.1 899.7 1769.6 904.9" stroke="url(#df51)"/>
<path d="M1334.1 724.4 1360.1 726.4 1385.1 732.9 1410.1 745.8 1430.1 755.3 1445.1 760.4 1460.1 767.1 1475.1 777.8 1490.1 789.2 1505.1 800.8 1520.1 811.9 1538.1 824.2 1556.1 835.1 1574.1 844.8 1594.1 854.9 1614.1 864.0 1636.1 872.9 1660.1 881.3 1685.1 889.3 1712.1 896.7 1740.1 903.1 1769.6 908.2" stroke="url(#df52)"/>
<path d="M1334.1 724.4 1360.1 726.4 1385.1 732.9 1410.1 745.8 1430.1 755.5 1445.1 761.0 1460.1 767.9 1475.1 779.0 1490.1 790.6 1505.1 802.5 1520.1 813.9 1538.1 826.4 1556.1 837.5 1574.1 847.4 1594.1 857.7 1614.1 866.9 1636.1 876.0 1660.1 884.5 1685.1 892.6 1712.1 900.0 1740.1 906.4 1769.6 911.6" stroke="url(#df53)"/>
<path d="M1334.1 724.4 1360.1 726.4 1385.1 732.9 1410.1 745.8 1430.1 755.8 1445.1 761.5 1460.1 768.7 1475.1 780.0 1490.1 791.9 1505.1 804.0 1520.1 815.6 1538.1 828.4 1556.1 839.7 1574.1 849.8 1594.1 860.2 1614.1 869.6 1636.1 878.8 1660.1 887.4 1685.1 895.6 1712.1 903.1 1740.1 909.5 1769.6 914.6" stroke="url(#df54)"/>
<path d="M1334.1 724.4 1360.1 726.4 1385.1 732.9 1410.1 745.8 1430.1 755.9 1445.1 761.9 1460.1 769.4 1475.1 780.9 1490.1 793.0 1505.1 805.3 1520.1 817.1 1538.1 830.2 1556.1 841.6 1574.1 851.9 1594.1 862.4 1614.1 871.9 1636.1 881.2 1660.1 889.9 1685.1 898.2 1712.1 905.7 1740.1 912.1 1769.6 917.2" stroke="url(#df55)"/>
<path d="M1334.1 724.4 1360.1 726.4 1385.1 732.9 1410.1 745.8 1430.1 756.1 1445.1 762.3 1460.1 770.1 1475.1 781.8 1490.1 794.2 1505.1 806.6 1520.1 818.7 1538.1 831.9 1556.1 843.5 1574.1 853.9 1594.1 864.6 1614.1 874.2 1636.1 883.6 1660.1 892.4 1685.1 900.7 1712.1 908.3 1740.1 914.7 1769.6 919.8" stroke="url(#df56)"/>
<path d="M1334.1 724.4 1360.1 726.4 1385.1 732.9 1410.1 745.8 1430.1 756.3 1445.1 762.8 1460.1 770.8 1475.1 782.7 1490.1 795.3 1505.1 808.0 1520.1 820.2 1538.1 833.6 1556.1 845.5 1574.1 856.0 1594.1 866.8 1614.1 876.5 1636.1 886.1 1660.1 894.9 1685.1 903.3 1712.1 910.9 1740.1 917.3 1769.6 922.4" stroke="url(#df57)"/>
<path d="M1334.1 724.4 1360.1 726.4 1385.1 732.9 1410.1 745.8 1430.1 756.5 1445.1 763.2 1460.1 771.5 1475.1 783.7 1490.1 796.4 1505.1 809.3 1520.1 821.7 1538.1 835.4 1556.1 847.4 1574.1 858.0 1594.1 869.0 1614.1 878.8 1636.1 888.5 1660.1 897.5 1685.1 905.9 1712.1 913.6 1740.1 920.0 1769.6 925.0" stroke="url(#df58)"/>
<path d="M1334.1 724.4 1360.1 726.4 1385.1 732.9 1410.1 745.8 1430.1 756.7 1445.1 763.7 1460.1 772.3 1475.1 784.6 1490.1 797.6 1505.1 810.7 1520.1 823.3 1538.1 837.2 1556.1 849.3 1574.1 860.1 1594.1 871.2 1614.1 881.2 1636.1 890.9 1660.1 900.0 1685.1 908.5 1712.1 916.2 1740.1 922.6 1769.6 927.6" stroke="url(#df59)"/>
<path d="M1334.1 724.4 1360.1 726.4 1385.1 732.9 1410.1 745.8 1430.1 756.9 1445.1 764.1 1460.1 773.0 1475.1 785.5 1490.1 798.7 1505.1 812.0 1520.1 824.9 1538.1 838.9 1556.1 851.3 1574.1 862.2 1594.1 873.4 1614.1 883.5 1636.1 893.4 1660.1 902.6 1685.1 911.1 1712.1 918.8 1740.1 925.2 1769.6 930.1" stroke="url(#df60)"/>
<path d="M1334.1 724.4 1360.1 726.4 1385.1 732.9 1410.1 745.8 1430.1 757.1 1445.1 764.5 1460.1 773.7 1475.1 786.4 1490.1 799.9 1505.1 813.4 1520.1 826.4 1538.1 840.7 1556.1 853.2 1574.1 864.3 1594.1 875.6 1614.1 885.8 1636.1 895.8 1660.1 905.1 1685.1 913.7 1712.1 921.5 1740.1 927.8 1769.6 932.7" stroke="url(#df61)"/>
<path d="M1334.1 724.4 1360.1 726.4 1385.1 732.9 1410.1 745.8 1430.1 757.3 1445.1 765.0 1460.1 774.4 1475.1 787.4 1490.1 801.0 1505.1 814.7 1520.1 828.0 1538.1 842.5 1556.1 855.2 1574.1 866.4 1594.1 877.8 1614.1 888.1 1636.1 898.2 1660.1 907.6 1685.1 916.3 1712.1 924.0 1740.1 930.4 1769.6 935.3" stroke="url(#df62)"/>
<path d="M1334.1 724.4 1360.1 726.4 1385.1 732.9 1410.1 745.8 1430.1 757.4 1445.1 765.4 1460.1 775.0 1475.1 788.2 1490.1 802.0 1505.1 815.9 1520.1 829.3 1538.1 844.0 1556.1 856.8 1574.1 868.2 1594.1 879.7 1614.1 890.2 1636.1 900.3 1660.1 909.8 1685.1 918.5 1712.1 926.3 1740.1 932.7 1769.6 937.5" stroke="url(#df63)"/>
<path d="M1334.1 724.4 1360.1 726.4 1385.1 732.9 1410.1 745.8 1430.1 757.6 1445.1 765.8 1460.1 775.7 1475.1 789.0 1490.1 803.0 1505.1 817.1 1520.1 830.7 1538.1 845.6 1556.1 858.5 1574.1 870.0 1594.1 881.7 1614.1 892.2 1636.1 902.5 1660.1 912.0 1685.1 920.8 1712.1 928.6 1740.1 934.9 1769.6 939.7" stroke="url(#df64)"/>
<path d="M1334.1 724.4 1360.1 726.4 1385.1 732.9 1410.1 745.8 1430.1 757.7 1445.1 766.2 1460.1 776.3 1475.1 789.8 1490.1 804.0 1505.1 818.3 1520.1 832.1 1538.1 847.1 1556.1 860.2 1574.1 871.8 1594.1 883.6 1614.1 894.2 1636.1 904.6 1660.1 914.2 1685.1 923.0 1712.1 930.8 1740.1 937.2 1769.6 941.9" stroke="url(#df65)"/>
<path d="M1334.1 724.4 1360.1 726.4 1385.1 732.9 1410.1 745.8 1430.1 757.9 1445.1 766.6 1460.1 776.9 1475.1 790.6 1490.1 805.0 1505.1 819.5 1520.1 833.5 1538.1 848.7 1556.1 862.0 1574.1 873.7 1594.1 885.6 1614.1 896.3 1636.1 906.7 1660.1 916.4 1685.1 925.3 1712.1 933.1 1740.1 939.5 1769.6 944.1" stroke="url(#df66)"/>
<path d="M1334.1 724.4 1360.1 726.4 1385.1 732.9 1410.1 745.8 1430.1 758.0 1445.1 766.9 1460.1 777.5 1475.1 791.4 1490.1 805.9 1505.1 820.5 1520.1 834.6 1538.1 850.0 1556.1 863.4 1574.1 875.3 1594.1 887.2 1614.1 898.0 1636.1 908.5 1660.1 918.3 1685.1 927.2 1712.1 935.1 1740.1 941.4 1769.6 946.0" stroke="url(#df67)"/>
<path d="M1334.1 724.4 1360.1 726.4 1385.1 732.9 1410.1 745.8 1430.1 758.2 1445.1 767.2 1460.1 778.1 1475.1 792.1 1490.1 806.8 1505.1 821.6 1520.1 835.8 1538.1 851.4 1556.1 864.9 1574.1 876.8 1594.1 888.9 1614.1 899.8 1636.1 910.4 1660.1 920.2 1685.1 929.1 1712.1 937.0 1740.1 943.3 1769.6 947.9" stroke="url(#df68)"/>
<path d="M1334.1 724.4 1360.1 726.4 1385.1 732.9 1410.1 745.8 1430.1 758.3 1445.1 767.6 1460.1 778.6 1475.1 792.8 1490.1 807.7 1505.1 822.6 1520.1 837.0 1538.1 852.7 1556.1 866.4 1574.1 878.4 1594.1 890.6 1614.1 901.6 1636.1 912.2 1660.1 922.1 1685.1 931.1 1712.1 939.0 1740.1 945.3 1769.6 949.8" stroke="url(#df69)"/>
<path d="M1334.1 724.4 1360.1 726.4 1385.1 732.9 1410.1 745.8 1430.1 758.4 1445.1 767.9 1460.1 779.2 1475.1 793.5 1490.1 808.5 1505.1 823.7 1520.1 838.2 1538.1 854.1 1556.1 867.9 1574.1 880.0 1594.1 892.3 1614.1 903.3 1636.1 914.1 1660.1 924.0 1685.1 933.0 1712.1 940.9 1740.1 947.2 1769.6 951.7" stroke="url(#df70)"/>
<path d="M1334.1 724.4 1360.1 726.4 1385.1 732.9 1410.1 745.8 1430.1 758.6 1445.1 768.3 1460.1 779.7 1475.1 794.2 1490.1 809.4 1505.1 824.6 1520.1 839.3 1538.1 855.4 1556.1 869.3 1574.1 881.5 1594.1 893.9 1614.1 905.0 1636.1 915.8 1660.1 925.8 1685.1 934.8 1712.1 942.7 1740.1 949.0 1769.6 953.4" stroke="url(#df71)"/>
<path d="M1334.1 724.4 1360.1 726.4 1385.1 732.9 1410.1 745.8 1430.1 758.7 1445.1 768.6 1460.1 780.2 1475.1 794.8 1490.1 810.2 1505.1 825.6 1520.1 840.4 1538.1 856.6 1556.1 870.6 1574.1 883.0 1594.1 895.4 1614.1 906.6 1636.1 917.4 1660.1 927.5 1685.1 936.6 1712.1 944.5 1740.1 950.7 1769.6 955.2" stroke="url(#df72)"/>
<path d="M1334.1 724.4 1360.1 726.4 1385.1 732.9 1410.1 745.8 1430.1 758.8 1445.1 768.9 1460.1 780.7 1475.1 795.5 1490.1 811.0 1505.1 826.6 1520.1 841.5 1538.1 857.9 1556.1 872.0 1574.1 884.4 1594.1 896.9 1614.1 908.2 1636.1 919.1 1660.1 929.3 1685.1 938.4 1712.1 946.3 1740.1 952.5 1769.6 956.9" stroke="url(#df73)"/>
<path d="M1334.1 724.4 1360.1 726.4 1385.1 732.9 1410.1 745.8 1430.1 758.9 1445.1 769.2 1460.1 781.2 1475.1 796.2 1490.1 811.8 1505.1 827.5 1520.1 842.6 1538.1 859.1 1556.1 873.4 1574.1 885.9 1594.1 898.5 1614.1 909.8 1636.1 920.8 1660.1 931.0 1685.1 940.1 1712.1 948.1 1740.1 954.3 1769.6 958.6" stroke="url(#df74)"/>
<path d="M1334.1 724.4 1360.1 726.4 1385.1 732.9 1410.1 745.8 1430.1 759.1 1445.1 769.5 1460.1 781.7 1475.1 796.8 1490.1 812.6 1505.1 828.4 1520.1 843.7 1538.1 860.3 1556.1 874.6 1574.1 887.2 1594.1 899.9 1614.1 911.3 1636.1 922.4 1660.1 932.7 1685.1 941.8 1712.1 949.7 1740.1 955.9 1769.6 960.2" stroke="url(#df75)"/>
<path d="M1334.1 724.4 1360.1 726.4 1385.1 732.9 1410.1 745.8 1430.1 759.2 1445.1 769.8 1460.1 782.2 1475.1 797.4 1490.1 813.3 1505.1 829.3 1520.1 844.7 1538.1 861.4 1556.1 875.9 1574.1 888.6 1594.1 901.3 1614.1 912.8 1636.1 923.9 1660.1 934.2 1685.1 943.4 1712.1 951.3 1740.1 957.5 1769.6 961.7" stroke="url(#df76)"/>
<path d="M1334.1 724.4 1360.1 726.4 1385.1 732.9 1410.1 745.8 1430.1 759.3 1445.1 770.1 1460.1 782.7 1475.1 798.0 1490.1 814.0 1505.1 830.2 1520.1 845.7 1538.1 862.6 1556.1 877.1 1574.1 889.9 1594.1 902.7 1614.1 914.3 1636.1 925.4 1660.1 935.8 1685.1 945.0 1712.1 952.9 1740.1 959.1 1769.6 963.3" stroke="url(#df77)"/>
<path d="M1334.1 724.4 1360.1 726.4 1385.1 732.9 1410.1 745.8 1430.1 759.4 1445.1 770.4 1460.1 783.2 1475.1 798.6 1490.1 814.8 1505.1 831.1 1520.1 846.7 1538.1 863.7 1556.1 878.4 1574.1 891.2 1594.1 904.2 1614.1 915.7 1636.1 927.0 1660.1 937.4 1685.1 946.6 1712.1 954.6 1740.1 960.7 1769.6 964.8" stroke="url(#df78)"/>
<path d="M1334.1 724.4 1360.1 726.4 1385.1 732.9 1410.1 745.8 1430.1 759.5 1445.1 770.6 1460.1 783.6 1475.1 799.2 1490.1 815.5 1505.1 831.9 1520.1 847.6 1538.1 864.8 1556.1 879.6 1574.1 892.5 1594.1 905.5 1614.1 917.1 1636.1 928.4 1660.1 938.9 1685.1 948.1 1712.1 956.1 1740.1 962.2 1769.6 966.3" stroke="url(#df79)"/>
<path d="M1334.1 724.4 1360.1 726.4 1385.1 732.9 1410.1 745.8 1430.1 759.6 1445.1 770.9 1460.1 784.0 1475.1 799.7 1490.1 816.2 1505.1 832.7 1520.1 848.6 1538.1 865.8 1556.1 880.7 1574.1 893.7 1594.1 906.8 1614.1 918.5 1636.1 929.8 1660.1 940.3 1685.1 949.6 1712.1 957.5 1740.1 963.6 1769.6 967.7" stroke="url(#df80)"/>
<path d="M1334.1 724.4 1360.1 726.4 1385.1 732.9 1410.1 745.8 1430.1 759.7 1445.1 771.2 1460.1 784.5 1475.1 800.3 1490.1 816.9 1505.1 833.5 1520.1 849.5 1538.1 866.9 1556.1 881.8 1574.1 894.9 1594.1 908.1 1614.1 919.8 1636.1 931.2 1660.1 941.8 1685.1 951.0 1712.1 959.0 1740.1 965.1 1769.6 969.1" stroke="url(#df81)"/>
<path d="M1334.1 724.4 1360.1 726.4 1385.1 732.9 1410.1 745.8 1430.1 759.8 1445.1 771.4 1460.1 784.9 1475.1 800.9 1490.1 817.5 1505.1 834.3 1520.1 850.4 1538.1 867.9 1556.1 883.0 1574.1 896.2 1594.1 909.3 1614.1 921.2 1636.1 932.6 1660.1 943.2 1685.1 952.5 1712.1 960.5 1740.1 966.5 1769.6 970.5" stroke="url(#df82)"/>
<path d="M1334.1 724.4 1360.1 726.4 1385.1 732.9 1410.1 745.8 1430.1 759.9 1445.1 771.7 1460.1 785.3 1475.1 801.4 1490.1 818.2 1505.1 835.1 1520.1 851.3 1538.1 868.9 1556.1 884.1 1574.1 897.3 1594.1 910.6 1614.1 922.5 1636.1 934.0 1660.1 944.6 1685.1 953.9 1712.1 961.9 1740.1 967.9 1769.6 971.8" stroke="url(#df83)"/>
<path d="M1334.1 724.4 1360.1 726.4 1385.1 732.9 1410.1 745.8 1430.1 760.0 1445.1 772.0 1460.1 785.8 1475.1 801.9 1490.1 818.8 1505.1 835.8 1520.1 852.2 1538.1 869.9 1556.1 885.2 1574.1 898.5 1594.1 911.8 1614.1 923.7 1636.1 935.3 1660.1 946.0 1685.1 955.3 1712.1 963.2 1740.1 969.2 1769.6 973.1" stroke="url(#df84)"/>
<path d="M1334.1 724.4 1360.1 726.4 1385.1 732.9 1410.1 745.8 1430.1 760.1 1445.1 772.2 1460.1 786.2 1475.1 802.4 1490.1 819.5 1505.1 836.6 1520.1 853.0 1538.1 870.9 1556.1 886.2 1574.1 899.6 1594.1 913.0 1614.1 925.0 1636.1 936.6 1660.1 947.3 1685.1 956.7 1712.1 964.6 1740.1 970.6 1769.6 974.4" stroke="url(#df85)"/>
<path d="M1334.1 724.4 1360.1 726.4 1385.1 732.9 1410.1 745.8 1430.1 760.2 1445.1 772.5 1460.1 786.6 1475.1 803.0 1490.1 820.1 1505.1 837.4 1520.1 853.9 1538.1 871.9 1556.1 887.3 1574.1 900.8 1594.1 914.2 1614.1 926.2 1636.1 937.9 1660.1 948.6 1685.1 958.0 1712.1 966.0 1740.1 971.9 1769.6 975.7" stroke="url(#df86)"/>
<path d="M1334.1 724.4 1360.1 726.4 1385.1 732.9 1410.1 745.8 1430.1 760.3 1445.1 772.7 1460.1 787.0 1475.1 803.5 1490.1 820.8 1505.1 838.1 1520.1 854.8 1538.1 872.8 1556.1 888.3 1574.1 901.9 1594.1 915.4 1614.1 927.5 1636.1 939.1 1660.1 950.0 1685.1 959.3 1712.1 967.3 1740.1 973.2 1769.6 977.0" stroke="url(#df87)"/>
<path d="M1334.1 724.4 1360.1 726.4 1385.1 732.9 1410.1 745.8 1430.1 760.4 1445.1 772.9 1460.1 787.4 1475.1 804.0 1490.1 821.4 1505.1 838.8 1520.1 855.6 1538.1 873.7 1556.1 889.3 1574.1 902.9 1594.1 916.5 1614.1 928.6 1636.1 940.4 1660.1 951.2 1685.1 960.6 1712.1 968.6 1740.1 974.5 1769.6 978.2" stroke="url(#df88)"/>
<path d="M1334.1 724.4 1360.1 726.4 1385.1 732.9 1410.1 745.8 1430.1 760.5 1445.1 773.2 1460.1 787.8 1475.1 804.5 1490.1 822.0 1505.1 839.5 1520.1 856.4 1538.1 874.7 1556.1 890.3 1574.1 904.0 1594.1 917.6 1614.1 929.8 1636.1 941.6 1660.1 952.5 1685.1 961.9 1712.1 969.8 1740.1 975.7 1769.6 979.4" stroke="url(#df89)"/>
<path d="M1334.1 724.4 1360.1 726.4 1385.1 732.9 1410.1 745.8 1430.1 760.5 1445.1 773.4 1460.1 788.1 1475.1 805.0 1490.1 822.6 1505.1 840.2 1520.1 857.2 1538.1 875.6 1556.1 891.3 1574.1 905.1 1594.1 918.8 1614.1 931.0 1636.1 942.8 1660.1 953.7 1685.1 963.1 1712.1 971.1 1740.1 976.9 1769.6 980.6" stroke="url(#df90)"/>
<path d="M1334.1 724.4 1360.1 726.4 1385.1 732.9 1410.1 745.8 1430.1 760.6 1445.1 773.6 1460.1 788.5 1475.1 805.4 1490.1 823.2 1505.1 840.9 1520.1 858.0 1538.1 876.5 1556.1 892.3 1574.1 906.1 1594.1 919.9 1614.1 932.1 1636.1 944.0 1660.1 954.9 1685.1 964.4 1712.1 972.3 1740.1 978.2 1769.6 981.8" stroke="url(#df91)"/>
<path d="M1334.1 724.4 1360.1 726.4 1385.1 732.9 1410.1 745.8 1430.1 760.7 1445.1 773.8 1460.1 788.9 1475.1 805.9 1490.1 823.7 1505.1 841.6 1520.1 858.7 1538.1 877.3 1556.1 893.2 1574.1 907.1 1594.1 920.9 1614.1 933.2 1636.1 945.1 1660.1 956.1 1685.1 965.5 1712.1 973.5 1740.1 979.3 1769.6 982.9" stroke="url(#df92)"/>
<path d="M1334.1 724.4 1360.1 726.4 1385.1 732.9 1410.1 745.8 1430.1 760.8 1445.1 774.1 1460.1 789.2 1475.1 806.3 1490.1 824.2 1505.1 842.2 1520.1 859.5 1538.1 878.1 1556.1 894.1 1574.1 908.0 1594.1 921.9 1614.1 934.3 1636.1 946.2 1660.1 957.2 1685.1 966.7 1712.1 974.6 1740.1 980.4 1769.6 983.9" stroke="url(#df93)"/>
<path d="M1334.1 724.4 1360.1 726.4 1385.1 732.9 1410.1 745.8 1430.1 760.9 1445.1 774.3 1460.1 789.6 1475.1 806.8 1490.1 824.8 1505.1 842.9 1520.1 860.2 1538.1 879.0 1556.1 895.0 1574.1 909.0 1594.1 922.9 1614.1 935.3 1636.1 947.3 1660.1 958.3 1685.1 967.8 1712.1 975.7 1740.1 981.5 1769.6 985.0" stroke="url(#df94)"/>
<path d="M1334.1 724.4 1360.1 726.4 1385.1 732.9 1410.1 745.8 1430.1 760.9 1445.1 774.5 1460.1 790.0 1475.1 807.3 1490.1 825.4 1505.1 843.5 1520.1 861.0 1538.1 879.9 1556.1 896.0 1574.1 910.0 1594.1 924.0 1614.1 936.5 1636.1 948.5 1660.1 959.5 1685.1 969.0 1712.1 977.0 1740.1 982.7 1769.6 986.2" stroke="url(#df95)"/>
<path d="M1334.1 724.4 1360.1 726.4 1385.1 732.9 1410.1 745.8 1430.1 761.1 1445.1 774.8 1460.1 790.5 1475.1 808.0 1490.1 826.2 1505.1 844.6 1520.1 862.1 1538.1 881.2 1556.1 897.4 1574.1 911.6 1594.1 925.6 1614.1 938.1 1636.1 950.2 1660.1 961.3 1685.1 970.8 1712.1 978.8 1740.1 984.5 1769.6 987.9" stroke="url(#df96)"/>
<path d="M1334.1 724.4 1360.1 726.4 1385.1 732.9 1410.1 745.8 1430.1 761.2 1445.1 775.2 1460.1 791.1 1475.1 808.7 1490.1 827.1 1505.1 845.6 1520.1 863.3 1538.1 882.5 1556.1 898.9 1574.1 913.1 1594.1 927.2 1614.1 939.8 1636.1 951.9 1660.1 963.1 1685.1 972.6 1712.1 980.5 1740.1 986.2 1769.6 989.6" stroke="url(#df97)"/>
<path d="M1334.1 724.4 1360.1 726.4 1385.1 732.9 1410.1 745.8 1430.1 761.3 1445.1 775.5 1460.1 791.6 1475.1 809.4 1490.1 828.0 1505.1 846.6 1520.1 864.5 1538.1 883.8 1556.1 900.3 1574.1 914.6 1594.1 928.8 1614.1 941.5 1636.1 953.7 1660.1 964.9 1685.1 974.4 1712.1 982.3 1740.1 988.0 1769.6 991.2" stroke="url(#df98)"/>
<path d="M1334.1 724.4 1360.1 726.4 1385.1 732.9 1410.1 745.8 1430.1 761.4 1445.1 775.8 1460.1 792.2 1475.1 810.1 1490.1 828.8 1505.1 847.6 1520.1 865.7 1538.1 885.1 1556.1 901.8 1574.1 916.2 1594.1 930.5 1614.1 943.2 1636.1 955.4 1660.1 966.7 1685.1 976.3 1712.1 984.1 1740.1 989.7 1769.6 992.9" stroke="url(#df99)"/>
</g>
<g clip-path="url(#cld)">
<path d="M1334.1 675.4 1344.2 675.8 1354.2 677.9 1364.3 680.6 1374.4 685.6 1384.4 692.4 1394.5 700.5 1404.6 710.4 1414.6 721.1 1424.7 733.1 1434.8 747.8 1444.8 761.9 1454.9 774.4 1465.0 786.5 1475.0 799.2 1485.1 812.0 1485.1 826.3 1475.0 813.7 1465.0 801.6 1454.9 790.0 1444.8 779.3 1434.8 769.4 1424.7 760.5 1414.6 752.6 1404.6 746.0 1394.5 740.6 1384.4 736.3 1374.4 733.1 1364.3 730.8 1354.2 729.3 1344.2 728.4 1334.1 728.1Z" fill="#3a0c52"/>
<path d="M1334.1 675.4 1344.2 675.8 1354.2 677.9 1364.3 680.6 1374.4 685.6 1384.4 692.4 1394.5 700.5 1404.6 710.4 1414.6 721.1 1424.7 733.1 1434.8 747.8 1444.8 761.9 1454.9 774.4 1465.0 786.5 1475.0 799.2 1485.1 812.0 1485.1 826.3 1475.0 813.7 1465.0 801.6 1454.9 790.0 1444.8 779.3 1434.8 769.4 1424.7 760.5 1414.6 752.6 1404.6 746.0 1394.5 740.6 1384.4 736.3 1374.4 733.1 1364.3 730.8 1354.2 729.3 1344.2 728.4 1334.1 728.1Z" fill="url(#hatchd)"/>
<path d="M1334.1 718.1 1349.1 718.4 1364.1 720.2 1379.2 723.6 1394.2 729.2 1409.2 737.4 1424.2 748.3 1439.2 761.7 1454.2 777.9 1469.3 795.8 1484.3 815.0 1499.3 834.5 1514.3 853.5 1529.3 871.3 1544.3 887.0 1559.4 900.6 1574.4 912.8 1589.4 923.9 1604.4 934.1 1619.4 943.3 1634.4 951.7 1649.5 959.2 1664.5 966.0 1679.5 971.9 1694.5 977.0 1709.5 981.2 1724.5 984.7 1739.6 987.4 1754.6 989.4 1769.6 990.6 1769.6 996.6 1754.6 995.4 1739.6 993.4 1724.5 990.7 1709.5 987.2 1694.5 983.0 1679.5 978.0 1664.5 972.2 1649.5 965.7 1634.4 958.3 1619.4 950.0 1604.4 940.9 1589.4 930.9 1574.4 920.1 1559.4 908.2 1544.3 894.9 1529.3 879.7 1514.3 862.5 1499.3 844.1 1484.3 825.2 1469.3 806.7 1454.2 789.3 1439.2 773.6 1424.2 760.1 1409.2 748.9 1394.2 740.4 1379.2 734.5 1364.1 730.8 1349.1 728.8 1334.1 728.1Z" fill="#07030f"/>
<path d="M1334.1 675.4 1344.2 675.8 1354.2 677.9 1364.3 680.6 1374.4 685.6 1384.4 692.4 1394.5 700.5 1404.6 710.4 1414.6 721.1 1424.7 733.1 1434.8 747.8 1444.8 761.9" fill="none" stroke="#05020a" stroke-width="4"/>
</g>
<circle cx="256.9" cy="629.4" r="3.4" fill="#fafaa0"/>
<circle cx="258.7" cy="641.9" r="3.4" fill="#fafaa0"/>
<circle cx="260.5" cy="668.8" r="3.4" fill="#fafaa0"/>
<circle cx="366.3" cy="676.0" r="3.4" fill="#fafaa0"/>
<circle cx="414.8" cy="700.4" r="3.4" fill="#fafaa0"/>
<circle cx="481.2" cy="685.0" r="3.4" fill="#fafaa0"/>
<circle cx="504.5" cy="667.0" r="3.4" fill="#fafaa0"/>
<circle cx="524.2" cy="665.2" r="3.4" fill="#fafaa0"/>
<circle cx="563.7" cy="636.5" r="3.4" fill="#fafaa0"/>
<circle cx="538.6" cy="718.0" r="3.4" fill="#fafaa0"/>
<circle cx="265.9" cy="733.4" r="3.4" fill="#fafaa0"/>
<circle cx="267.7" cy="753.1" r="3.4" fill="#fafaa0"/>
<circle cx="269.5" cy="772.9" r="3.4" fill="#fafaa0"/>
<circle cx="270.2" cy="793.3" r="3.4" fill="#fafaa0"/>
<circle cx="271.3" cy="814.9" r="3.4" fill="#fafaa0"/>
<circle cx="273.1" cy="837.5" r="3.4" fill="#fafaa0"/>
<circle cx="274.1" cy="860.8" r="3.4" fill="#fafaa0"/>
<circle cx="275.6" cy="884.8" r="3.4" fill="#fafaa0"/>
<circle cx="276.6" cy="910.0" r="3.4" fill="#fafaa0"/>
<circle cx="278.4" cy="936.1" r="3.4" fill="#fafaa0"/>
<circle cx="280.2" cy="963.0" r="3.4" fill="#fafaa0"/>
<circle cx="282.0" cy="991.0" r="3.4" fill="#fafaa0"/>
<circle cx="368.1" cy="747.0" r="3.4" fill="#fafaa0"/>
<circle cx="416.6" cy="788.3" r="3.4" fill="#fafaa0"/>
<circle cx="369.9" cy="819.5" r="3.4" fill="#fafaa0"/>
<circle cx="418.4" cy="878.0" r="3.4" fill="#fafaa0"/>
<circle cx="369.9" cy="893.0" r="3.4" fill="#fafaa0"/>
<circle cx="371.7" cy="966.6" r="3.4" fill="#fafaa0"/>
<circle cx="420.2" cy="966.6" r="3.4" fill="#fafaa0"/>
<circle cx="454.3" cy="935.4" r="3.4" fill="#fafaa0"/>
<circle cx="484.8" cy="982.8" r="3.4" fill="#fafaa0"/>
<circle cx="508.1" cy="963.0" r="3.4" fill="#fafaa0"/>
<circle cx="527.8" cy="958.7" r="3.4" fill="#fafaa0"/>
<circle cx="540.4" cy="961.2" r="3.4" fill="#fafaa0"/>
<circle cx="552.9" cy="958.7" r="3.4" fill="#fafaa0"/>
<circle cx="483.0" cy="783.0" r="3.4" fill="#fafaa0"/>
<circle cx="481.2" cy="884.1" r="3.4" fill="#fafaa0"/>
<circle cx="526.0" cy="764.0" r="3.4" fill="#fafaa0"/>
<circle cx="527.8" cy="861.9" r="3.4" fill="#fafaa0"/>
<circle cx="563.7" cy="799.8" r="3.4" fill="#fafaa0"/>
<circle cx="579.8" cy="814.1" r="3.4" fill="#fafaa0"/>
<circle cx="592.4" cy="805.2" r="3.4" fill="#fafaa0"/>
<circle cx="603.2" cy="761.4" r="3.4" fill="#fafaa0"/>
<circle cx="622.9" cy="954.1" r="3.4" fill="#fafaa0"/>
<circle cx="549.3" cy="699.3" r="3.4" fill="#fafaa0"/>
<circle cx="1092.0" cy="629.0" r="3.4" fill="#fafaa0"/>
<circle cx="882.0" cy="803.0" r="3.4" fill="#fafaa0"/>
<circle cx="873.0" cy="952.0" r="3.4" fill="#fafaa0"/>
<circle cx="913.0" cy="956.0" r="3.4" fill="#fafaa0"/>
<circle cx="965.0" cy="940.0" r="3.4" fill="#fafaa0"/>
<circle cx="1045.0" cy="963.0" r="3.4" fill="#fafaa0"/>
<circle cx="942.0" cy="992.0" r="3.4" fill="#fafaa0"/>
<circle cx="1117.0" cy="994.0" r="3.4" fill="#fafaa0"/>
<circle cx="1150.0" cy="1000.0" r="3.4" fill="#fafaa0"/>
<circle cx="1185.0" cy="990.0" r="3.4" fill="#fafaa0"/>
<circle cx="1103.0" cy="728.0" r="3.4" fill="#fafaa0"/>
<circle cx="1647.0" cy="646.0" r="3.4" fill="#fafaa0"/>
<circle cx="1651.0" cy="672.0" r="3.4" fill="#fafaa0"/>
<circle cx="1672.0" cy="669.0" r="3.4" fill="#fafaa0"/>
<circle cx="1377.0" cy="859.0" r="3.4" fill="#fafaa0"/>
<circle cx="1436.0" cy="934.0" r="3.4" fill="#fafaa0"/>
<circle cx="1470.0" cy="951.0" r="3.4" fill="#fafaa0"/>
<circle cx="1583.0" cy="988.0" r="3.4" fill="#fafaa0"/>
<circle cx="1623.0" cy="989.0" r="3.4" fill="#fafaa0"/>
<circle cx="1517.0" cy="1002.0" r="3.4" fill="#fafaa0"/>
<rect x="238.3" y="622.8" width="423.0" height="384.4" fill="none" stroke="#000" stroke-width="4.5" stroke-linejoin="round"/>
<rect x="794.2" y="622.8" width="423.2" height="384.4" fill="none" stroke="#000" stroke-width="4.5" stroke-linejoin="round"/>
<rect x="1340.1" y="622.8" width="423.3" height="384.4" fill="none" stroke="#000" stroke-width="4.5" stroke-linejoin="round"/>
<text transform="translate(160.97 656.02) scale(0.944 1)" style="font-family:'Liberation Serif',serif;font-size:45.19px;">1.5</text>
<text transform="translate(161.98 1002.41) scale(0.939 1)" style="font-family:'Liberation Serif',serif;font-size:46.03px;">0.0</text>
<text transform="translate(240.21 1063.54) scale(0.969 1)" style="font-family:'Liberation Serif',serif;font-size:46.37px;">0</text>
<text transform="translate(639.45 1065.00) scale(0.984 1)" style="font-family:'Liberation Serif',serif;font-size:46.97px;">1</text>
<text transform="translate(796.28 1064.53) scale(0.983 1)" style="font-family:'Liberation Serif',serif;font-size:46.67px;">0</text>
<text transform="translate(1199.65 1063.00) scale(1.017 1)" style="font-family:'Liberation Serif',serif;font-size:45.45px;">1</text>
<text x="1342.74" y="1065.14" style="font-family:'Liberation Serif',serif;font-size:46.37px;">0</text>
<text transform="translate(1741.90 1063.90) scale(0.921 1)" style="font-family:'Liberation Serif',serif;font-size:47.12px;">1</text>
<text transform="translate(371.85 571.60) scale(1.100 1)" style="font-family:'Liberation Serif',serif;font-size:42.14px;font-style:italic;">N</text>
<text transform="translate(403.73 578.00) scale(1.185 1)" style="font-family:'Liberation Serif',serif;font-size:28.70px;font-style:italic;">x</text>
<text transform="translate(432.85 574.23) scale(1.476 1)" style="font-family:'Liberation Serif',serif;font-size:39.20px;" stroke="#000" stroke-width="0.5">=</text>
<text transform="translate(476.01 571.69) scale(0.963 1)" style="font-family:'Liberation Serif',serif;font-size:41.19px;">25</text>
<text transform="translate(943.05 569.10) scale(1.097 1)" style="font-family:'Liberation Serif',serif;font-size:42.90px;font-style:italic;">N</text>
<text transform="translate(975.02 575.00) scale(1.194 1)" style="font-family:'Liberation Serif',serif;font-size:28.48px;font-style:italic;">x</text>
<text transform="translate(1004.19 572.07) scale(1.398 1)" style="font-family:'Liberation Serif',serif;font-size:40.80px;" stroke="#000" stroke-width="0.5">=</text>
<text transform="translate(1045.72 569.09) scale(1.011 1)" style="font-family:'Liberation Serif',serif;font-size:40.89px;">50</text>
<text transform="translate(1465.06 568.90) scale(1.127 1)" style="font-family:'Liberation Serif',serif;font-size:41.98px;font-style:italic;">N</text>
<text transform="translate(1496.92 575.10) scale(1.214 1)" style="font-family:'Liberation Serif',serif;font-size:27.83px;font-style:italic;">x</text>
<text transform="translate(1525.17 572.00) scale(1.436 1)" style="font-family:'Liberation Serif',serif;font-size:40.00px;" stroke="#000" stroke-width="0.5">=</text>
<text transform="translate(1567.09 569.49) scale(0.966 1)" style="font-family:'Liberation Serif',serif;font-size:41.48px;">100</text>
<text transform="translate(957.32 1087.00) scale(1.016 1)" style="font-family:'Liberation Serif',serif;font-size:44.69px;font-style:italic;">q</text>
<text transform="translate(982.76 1094.67) scale(0.952 1)" style="font-family:'Liberation Serif',serif;font-size:34.07px;font-style:italic;">y</text>
<text transform="translate(1004.00 1098.09) scale(0.911 1)" style="font-family:'Liberation Serif',serif;font-size:71.34px;">/</text>
<text transform="translate(1026.01 1088.10) scale(1.027 1)" style="font-family:'Liberation Serif',serif;font-size:49.06px;font-style:italic;">k</text>
<text transform="translate(431.38 980.35) scale(1.137 1)" style="font-family:'Liberation Serif',serif;font-size:64.96px;font-weight:bold;">b</text>
<text transform="translate(986.56 981.31) scale(1.227 1)" style="font-family:'Liberation Serif',serif;font-size:68.75px;font-weight:bold;">c</text>
<text transform="translate(1525.36 980.57) scale(1.136 1)" style="font-family:'Liberation Serif',serif;font-size:62.55px;font-weight:bold;">d</text>
<g transform="translate(125 877) rotate(-90)">
<text transform="translate(-2.19 1.87) scale(1.395 1)" style="font-family:'Liberation Serif',serif;font-size:36.00px;" stroke="#000" stroke-width="1.2">−</text>
<text transform="translate(26.80 -0.70) scale(0.909 1)" style="font-family:'Liberation Serif',serif;font-size:39.86px;font-style:italic;">δ</text>
<text transform="translate(47.82 -15.96) scale(0.759 1)" style="font-family:'Liberation Serif',serif;font-size:30.41px;">(</text>
<text transform="translate(61.36 -14.95) scale(1.281 1)" style="font-family:'Liberation Serif',serif;font-size:28.00px;font-style:italic;">j</text>
<text transform="translate(74.41 -15.96) scale(0.759 1)" style="font-family:'Liberation Serif',serif;font-size:30.41px;">)</text>
<text transform="translate(87.70 8.43) scale(0.946 1)" style="font-family:'Liberation Serif',serif;font-size:57.01px;">/</text>
<text transform="translate(104.51 -0.49) scale(1.340 1)" style="font-family:'Liberation Serif',serif;font-size:38.07px;font-style:italic;">γ</text>
</g>
<rect x="1812.5" y="620.5" width="42" height="390" fill="url(#gCB)" stroke="#000" stroke-width="1"/>
<line x1="1852.8" y1="621" x2="1852.8" y2="1010" stroke="#fff" stroke-width="1"/>
<text transform="translate(1819.40 595.60) scale(0.961 1)" style="font-family:'Liberation Serif',serif;font-size:46.36px;">1</text>
<text transform="translate(1807.49 1060.88) scale(0.977 1)" style="font-family:'Liberation Serif',serif;font-size:42.22px;">10</text>
<text transform="translate(1849.17 1047.96) scale(1.195 1)" style="font-family:'Liberation Serif',serif;font-size:34.00px;" stroke="#000" stroke-width="1.4">−</text>
<text transform="translate(1873.34 1044.40) scale(1.080 1)" style="font-family:'Liberation Serif',serif;font-size:30.33px;">3</text>
<g transform="translate(1880 696) rotate(90)">
<text transform="translate(0.26 0.14) scale(0.832 1)" style="font-family:'Liberation Serif',serif;font-size:37.91px;">(</text>
<text transform="translate(13.89 0.00) scale(1.073 1)" style="font-family:'Liberation Serif',serif;font-size:36.64px;font-style:italic;">N</text>
<text transform="translate(40.18 5.50) scale(1.159 1)" style="font-family:'Liberation Serif',serif;font-size:26.09px;font-style:italic;">x</text>
<text transform="translate(64.41 2.66) scale(1.295 1)" style="font-family:'Liberation Serif',serif;font-size:34.00px;" stroke="#000" stroke-width="1.2">−</text>
<text transform="translate(97.32 0.00) scale(0.981 1)" style="font-family:'Liberation Serif',serif;font-size:34.70px;">1</text>
<text transform="translate(115.15 0.14) scale(0.832 1)" style="font-family:'Liberation Serif',serif;font-size:37.91px;">)</text>
<text transform="translate(128.73 -0.33) scale(1.158 1)" style="font-family:'Liberation Serif',serif;font-size:32.55px;font-style:italic;">v</text>
<text transform="translate(148.98 -13.94) scale(0.798 1)" style="font-family:'Liberation Serif',serif;font-size:27.00px;">(</text>
<text transform="translate(161.36 -12.09) scale(1.364 1)" style="font-family:'Liberation Serif',serif;font-size:26.29px;font-style:italic;">j</text>
<text transform="translate(172.55 -13.94) scale(0.798 1)" style="font-family:'Liberation Serif',serif;font-size:27.00px;">)</text>
<text transform="translate(184.80 7.70) scale(0.927 1)" style="font-family:'Liberation Serif',serif;font-size:50.45px;">/</text>
<text transform="translate(199.81 0.02) scale(1.351 1)" style="font-family:'Liberation Serif',serif;font-size:33.31px;font-style:italic;">γ</text>
</g>
</svg>
</body></html>
